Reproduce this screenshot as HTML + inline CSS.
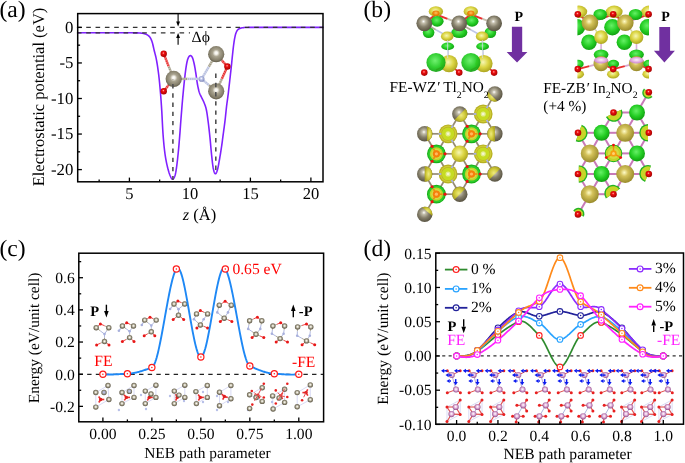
<!DOCTYPE html>
<html><head><meta charset="utf-8"><style>
html,body{margin:0;padding:0;background:#fff;}
svg{display:block;font-family:"Liberation Serif", serif;text-rendering:geometricPrecision;will-change:transform;}
</style></head><body>
<svg width="685" height="463" viewBox="0 0 685 463">
<rect width="685" height="463" fill="#fff"/>

<defs>
<radialGradient id="gGray" cx="0.45" cy="0.42" r="0.6" fx="0.45" fy="0.38">
 <stop offset="0" stop-color="#ffffff"/><stop offset="0.2" stop-color="#c2bdaa"/><stop offset="0.55" stop-color="#857f6b"/><stop offset="1" stop-color="#55503f"/>
</radialGradient>
<radialGradient id="gRed" cx="0.45" cy="0.42" r="0.6" fx="0.45" fy="0.38">
 <stop offset="0" stop-color="#ffb0b0"/><stop offset="0.3" stop-color="#f01010"/><stop offset="1" stop-color="#a00000"/>
</radialGradient>
<radialGradient id="gBlue" cx="0.45" cy="0.42" r="0.6">
 <stop offset="0" stop-color="#ffffff"/><stop offset="0.4" stop-color="#b8c0e6"/><stop offset="1" stop-color="#8088b8"/>
</radialGradient>
<radialGradient id="gGreen" cx="0.42" cy="0.4" r="0.62">
 <stop offset="0" stop-color="#5ef05e"/><stop offset="0.55" stop-color="#22cc22"/><stop offset="1" stop-color="#0e9a0e"/>
</radialGradient>
<radialGradient id="gYellow" cx="0.45" cy="0.42" r="0.6">
 <stop offset="0" stop-color="#f4f0a0"/><stop offset="0.5" stop-color="#d8cc48"/><stop offset="1" stop-color="#a89a20"/>
</radialGradient>
<radialGradient id="gGold" cx="0.45" cy="0.42" r="0.6">
 <stop offset="0" stop-color="#fffcc8"/><stop offset="0.35" stop-color="#d4c25a"/><stop offset="1" stop-color="#968828"/>
</radialGradient>
<radialGradient id="gPink" cx="0.45" cy="0.42" r="0.6">
 <stop offset="0" stop-color="#ffffff"/><stop offset="0.35" stop-color="#d8a0d0"/><stop offset="1" stop-color="#9a5a90"/>
</radialGradient>
<radialGradient id="gSmallGray" cx="0.5" cy="0.47" r="0.52">
 <stop offset="0" stop-color="#ffffff"/><stop offset="0.3" stop-color="#dcd8c8"/><stop offset="0.62" stop-color="#948e7a"/><stop offset="1" stop-color="#5c5646"/>
</radialGradient>
<radialGradient id="gPinkS" cx="0.5" cy="0.45" r="0.55">
 <stop offset="0" stop-color="#ffffff"/><stop offset="0.35" stop-color="#ecc8e6"/><stop offset="0.75" stop-color="#b878b0"/><stop offset="1" stop-color="#8a4a82"/>
</radialGradient>
<radialGradient id="gIsoG" cx="0.45" cy="0.4" r="0.6">
 <stop offset="0" stop-color="#66f066"/><stop offset="0.6" stop-color="#22cc22"/><stop offset="1" stop-color="#12a012"/>
</radialGradient>
<radialGradient id="gIsoY" cx="0.45" cy="0.42" r="0.6">
 <stop offset="0" stop-color="#f6f6b4"/><stop offset="0.5" stop-color="#dcd644"/><stop offset="1" stop-color="#aaa21c"/>
</radialGradient>
<radialGradient id="gOrange" cx="0.5" cy="0.45" r="0.55">
 <stop offset="0" stop-color="#ffc060"/><stop offset="0.6" stop-color="#f08810"/><stop offset="1" stop-color="#d87000"/>
</radialGradient>
<radialGradient id="gPinkF" cx="0.5" cy="0.45" r="0.6">
 <stop offset="0" stop-color="#fff0ff"/><stop offset="0.6" stop-color="#e0a8dc"/><stop offset="1" stop-color="#c080c0"/>
</radialGradient>
<radialGradient id="gSegY" cx="0.5" cy="0.5" r="0.5">
 <stop offset="0" stop-color="#eeea80"/><stop offset="0.6" stop-color="#d2cc3c"/><stop offset="1" stop-color="#b0a822"/>
</radialGradient>
<radialGradient id="gGrayA" cx="0.5" cy="0.45" r="0.55" fx="0.5" fy="0.42">
 <stop offset="0" stop-color="#ffffff"/><stop offset="0.16" stop-color="#f4f2ea"/><stop offset="0.4" stop-color="#aaa490"/><stop offset="0.8" stop-color="#857f6b"/><stop offset="1" stop-color="#615b49"/>
</radialGradient>
<radialGradient id="gSmallGrayB" cx="0.5" cy="0.47" r="0.52">
 <stop offset="0" stop-color="#c8d0f0"/><stop offset="0.4" stop-color="#a8acc8"/><stop offset="0.7" stop-color="#8a8676"/><stop offset="1" stop-color="#5c5646"/>
</radialGradient>
</defs>

<path d="M77.7,32.8 L81.15,32.8 L85.94,32.8 L91.66,32.8 L97.91,32.8 L104.28,32.8 L110.35,32.8 L115.73,32.8 L120,32.8 L123.24,32.8 L125.88,32.8 L128.02,32.81 L129.77,32.81 L131.23,32.81 L132.52,32.82 L133.74,32.83 L135,32.85 L136.19,32.87 L137.18,32.89 L138,32.9 L138.69,32.93 L139.29,32.96 L139.85,32.99 L140.41,33.04 L141,33.1 L141.6,33.17 L142.16,33.25 L142.69,33.33 L143.19,33.43 L143.66,33.53 L144.12,33.64 L144.56,33.77 L145,33.9 L145.43,34.04 L145.84,34.18 L146.23,34.33 L146.61,34.49 L146.97,34.67 L147.32,34.86 L147.67,35.07 L148,35.3 L148.32,35.54 L148.63,35.8 L148.93,36.06 L149.21,36.34 L149.49,36.65 L149.76,36.99 L150.03,37.37 L150.3,37.8 L150.57,38.26 L150.82,38.74 L151.08,39.26 L151.32,39.81 L151.57,40.4 L151.81,41.04 L152.06,41.74 L152.3,42.5 L152.54,43.33 L152.78,44.24 L153.01,45.21 L153.24,46.22 L153.47,47.27 L153.71,48.35 L153.95,49.42 L154.2,50.5 L154.46,51.55 L154.73,52.57 L155,53.6 L155.28,54.65 L155.56,55.75 L155.84,56.93 L156.12,58.2 L156.4,59.6 L156.68,61.12 L156.96,62.74 L157.24,64.45 L157.52,66.24 L157.8,68.1 L158.08,70.02 L158.34,71.99 L158.6,74 L158.85,76.08 L159.09,78.25 L159.33,80.49 L159.56,82.78 L159.78,85.09 L159.99,87.42 L160.2,89.73 L160.4,92 L160.59,94.2 L160.76,96.34 L160.92,98.44 L161.07,100.56 L161.23,102.74 L161.38,105.01 L161.54,107.42 L161.7,110 L161.87,112.83 L162.03,115.9 L162.2,119.13 L162.36,122.44 L162.53,125.76 L162.71,129.01 L162.9,132.11 L163.1,135 L163.31,137.7 L163.52,140.3 L163.75,142.81 L163.97,145.22 L164.21,147.54 L164.46,149.78 L164.73,151.93 L165,154 L165.29,155.98 L165.6,157.88 L165.92,159.69 L166.25,161.41 L166.59,163.05 L166.93,164.61 L167.27,166.09 L167.6,167.5 L167.93,168.84 L168.27,170.1 L168.62,171.28 L168.96,172.39 L169.31,173.41 L169.64,174.36 L169.98,175.22 L170.3,176 L170.62,176.71 L170.92,177.36 L171.23,177.93 L171.53,178.42 L171.82,178.81 L172.11,179.1 L172.41,179.26 L172.7,179.3 L173,179.2 L173.3,178.96 L173.6,178.6 L173.9,178.14 L174.19,177.58 L174.48,176.95 L174.75,176.25 L175,175.5 L175.23,174.71 L175.45,173.86 L175.65,172.94 L175.84,171.95 L176.02,170.87 L176.21,169.69 L176.4,168.41 L176.6,167 L176.81,165.44 L177.02,163.73 L177.24,161.9 L177.46,159.97 L177.68,157.98 L177.89,155.97 L178.1,153.97 L178.3,152 L178.49,150.05 L178.68,148.07 L178.86,146.07 L179.03,144.06 L179.2,142.04 L179.37,140.02 L179.54,138.01 L179.7,136 L179.86,134.04 L180,132.14 L180.14,130.26 L180.27,128.38 L180.41,126.44 L180.56,124.42 L180.72,122.29 L180.9,120 L181.09,117.52 L181.3,114.88 L181.52,112.1 L181.75,109.25 L181.98,106.37 L182.22,103.5 L182.46,100.7 L182.7,98 L182.94,95.36 L183.19,92.72 L183.44,90.09 L183.69,87.5 L183.95,84.97 L184.2,82.53 L184.45,80.2 L184.7,78 L184.94,75.91 L185.18,73.9 L185.42,71.98 L185.66,70.15 L185.9,68.43 L186.13,66.83 L186.37,65.35 L186.6,64 L186.83,62.81 L187.05,61.76 L187.27,60.85 L187.49,60.05 L187.71,59.34 L187.94,58.71 L188.17,58.14 L188.4,57.6 L188.64,57.11 L188.89,56.7 L189.14,56.35 L189.39,56.08 L189.64,55.86 L189.9,55.72 L190.15,55.63 L190.4,55.6 L190.65,55.63 L190.9,55.72 L191.16,55.86 L191.41,56.07 L191.66,56.35 L191.91,56.7 L192.16,57.11 L192.4,57.6 L192.64,58.17 L192.87,58.83 L193.1,59.56 L193.32,60.36 L193.55,61.22 L193.77,62.11 L193.99,63.05 L194.2,64 L194.41,64.99 L194.61,66.02 L194.81,67.1 L195.01,68.21 L195.21,69.36 L195.4,70.55 L195.6,71.76 L195.8,73 L196,74.3 L196.19,75.67 L196.39,77.1 L196.58,78.54 L196.78,79.98 L196.98,81.39 L197.19,82.74 L197.4,84 L197.62,85.19 L197.84,86.34 L198.07,87.45 L198.31,88.51 L198.55,89.53 L198.79,90.51 L199.04,91.43 L199.3,92.3 L199.57,93.1 L199.84,93.82 L200.13,94.49 L200.42,95.11 L200.71,95.7 L201.01,96.29 L201.3,96.88 L201.6,97.5 L201.9,98.12 L202.2,98.72 L202.5,99.3 L202.8,99.89 L203.1,100.49 L203.4,101.11 L203.7,101.78 L204,102.5 L204.3,103.24 L204.59,103.98 L204.89,104.74 L205.18,105.53 L205.47,106.38 L205.76,107.32 L206.03,108.35 L206.3,109.5 L206.56,110.78 L206.81,112.18 L207.05,113.67 L207.29,115.25 L207.52,116.89 L207.75,118.57 L207.97,120.28 L208.2,122 L208.42,123.73 L208.64,125.5 L208.85,127.31 L209.06,129.16 L209.27,131.05 L209.48,132.98 L209.69,134.96 L209.9,137 L210.11,139.14 L210.33,141.39 L210.54,143.73 L210.75,146.09 L210.96,148.45 L211.18,150.75 L211.39,152.94 L211.6,155 L211.81,156.96 L212.02,158.88 L212.22,160.75 L212.43,162.54 L212.64,164.24 L212.85,165.81 L213.07,167.24 L213.3,168.5 L213.53,169.62 L213.78,170.61 L214.02,171.49 L214.28,172.23 L214.53,172.84 L214.79,173.31 L215.04,173.63 L215.3,173.8 L215.56,173.8 L215.82,173.64 L216.08,173.31 L216.35,172.86 L216.62,172.28 L216.88,171.6 L217.14,170.83 L217.4,170 L217.65,169.07 L217.9,168.01 L218.15,166.84 L218.4,165.57 L218.65,164.24 L218.9,162.86 L219.15,161.44 L219.4,160 L219.66,158.53 L219.92,156.98 L220.19,155.39 L220.46,153.75 L220.72,152.08 L220.99,150.39 L221.25,148.69 L221.5,147 L221.75,145.29 L221.99,143.55 L222.24,141.78 L222.47,140 L222.71,138.22 L222.94,136.45 L223.17,134.71 L223.4,133 L223.62,131.33 L223.84,129.7 L224.06,128.1 L224.28,126.5 L224.49,124.9 L224.69,123.3 L224.9,121.67 L225.1,120 L225.3,118.27 L225.49,116.48 L225.68,114.66 L225.87,112.83 L226.05,111.02 L226.24,109.26 L226.42,107.58 L226.6,106 L226.78,104.57 L226.95,103.27 L227.12,102.06 L227.29,100.89 L227.46,99.72 L227.63,98.5 L227.81,97.17 L228,95.7 L228.2,94.06 L228.41,92.3 L228.62,90.45 L228.84,88.54 L229.06,86.61 L229.28,84.69 L229.5,82.81 L229.7,81 L229.9,79.26 L230.09,77.54 L230.29,75.84 L230.47,74.17 L230.66,72.51 L230.84,70.86 L231.02,69.23 L231.2,67.6 L231.37,65.96 L231.55,64.31 L231.72,62.66 L231.88,61.02 L232.04,59.43 L232.2,57.88 L232.35,56.4 L232.5,55 L232.64,53.69 L232.77,52.46 L232.89,51.29 L233.01,50.17 L233.13,49.1 L233.25,48.05 L233.37,47.02 L233.5,46 L233.63,44.98 L233.76,43.99 L233.9,43.02 L234.03,42.07 L234.17,41.16 L234.31,40.27 L234.45,39.42 L234.6,38.6 L234.75,37.81 L234.9,37.06 L235.06,36.33 L235.21,35.64 L235.37,34.98 L235.54,34.35 L235.72,33.76 L235.9,33.2 L236.09,32.68 L236.28,32.21 L236.48,31.77 L236.68,31.36 L236.89,30.99 L237.12,30.64 L237.35,30.31 L237.6,30 L237.86,29.72 L238.14,29.47 L238.42,29.24 L238.72,29.04 L239.03,28.86 L239.34,28.7 L239.67,28.55 L240,28.4 L240.34,28.27 L240.68,28.15 L241.04,28.05 L241.4,27.97 L241.78,27.89 L242.17,27.82 L242.57,27.76 L243,27.7 L243.39,27.65 L243.72,27.6 L244.03,27.56 L244.38,27.53 L244.8,27.51 L245.34,27.49 L246.06,27.47 L247,27.45 L247.85,27.43 L248.45,27.42 L249.02,27.41 L249.81,27.41 L251.07,27.41 L253.02,27.4 L255.92,27.4 L260,27.4 L265.91,27.4 L273.71,27.4 L282.73,27.4 L292.31,27.4 L301.79,27.4 L310.51,27.4 L317.8,27.4 L323,27.4" fill="none" stroke="#8020ff" stroke-width="1.6" stroke-linejoin="round" stroke-linecap="round" />
<line x1="76.9" y1="32.8" x2="190" y2="32.8" stroke="#333" stroke-width="1.2" stroke-dasharray="4.6 4.73"/>
<line x1="76.9" y1="27.4" x2="323" y2="27.4" stroke="#333" stroke-width="1.2" stroke-dasharray="4.6 4.73"/>
<line x1="173.7" y1="78.9" x2="168.7" y2="66.35" stroke="#a49e88" stroke-width="2.4" />
<line x1="168.7" y1="66.35" x2="163.7" y2="53.8" stroke="#e83030" stroke-width="2.4" />
<line x1="173.7" y1="78.9" x2="163.7" y2="53.8" stroke="#ffffff" stroke-width="2.4" stroke-dasharray="0.9 1.3" opacity="0.45"/>
<line x1="173.7" y1="78.9" x2="168.7" y2="85.1" stroke="#a49e88" stroke-width="2.4" />
<line x1="168.7" y1="85.1" x2="163.7" y2="91.3" stroke="#e83030" stroke-width="2.4" />
<line x1="173.7" y1="78.9" x2="163.7" y2="91.3" stroke="#ffffff" stroke-width="2.4" stroke-dasharray="0.9 1.3" opacity="0.45"/>
<line x1="173.7" y1="78.9" x2="187.65" y2="78.9" stroke="#a49e88" stroke-width="2.4" />
<line x1="187.65" y1="78.9" x2="201.6" y2="78.9" stroke="#b8c0e0" stroke-width="2.4" />
<line x1="173.7" y1="78.9" x2="201.6" y2="78.9" stroke="#ffffff" stroke-width="2.4" stroke-dasharray="0.9 1.3" opacity="0.45"/>
<line x1="201.6" y1="78.9" x2="208.9" y2="66.55" stroke="#b8c0e0" stroke-width="2.4" />
<line x1="208.9" y1="66.55" x2="216.2" y2="54.2" stroke="#a49e88" stroke-width="2.4" />
<line x1="201.6" y1="78.9" x2="216.2" y2="54.2" stroke="#ffffff" stroke-width="2.4" stroke-dasharray="0.9 1.3" opacity="0.45"/>
<line x1="201.6" y1="78.9" x2="208.9" y2="85.1" stroke="#b8c0e0" stroke-width="2.4" />
<line x1="208.9" y1="85.1" x2="216.2" y2="91.3" stroke="#a49e88" stroke-width="2.4" />
<line x1="201.6" y1="78.9" x2="216.2" y2="91.3" stroke="#ffffff" stroke-width="2.4" stroke-dasharray="0.9 1.3" opacity="0.45"/>
<line x1="216.2" y1="54.2" x2="221.8" y2="60.35" stroke="#a49e88" stroke-width="2.4" />
<line x1="221.8" y1="60.35" x2="227.4" y2="66.5" stroke="#e83030" stroke-width="2.4" />
<line x1="216.2" y1="54.2" x2="227.4" y2="66.5" stroke="#ffffff" stroke-width="2.4" stroke-dasharray="0.9 1.3" opacity="0.45"/>
<line x1="216.2" y1="91.3" x2="221.8" y2="78.9" stroke="#a49e88" stroke-width="2.4" />
<line x1="221.8" y1="78.9" x2="227.4" y2="66.5" stroke="#e83030" stroke-width="2.4" />
<line x1="216.2" y1="91.3" x2="227.4" y2="66.5" stroke="#ffffff" stroke-width="2.4" stroke-dasharray="0.9 1.3" opacity="0.45"/>
<circle cx="163.7" cy="53.8" r="3.2" fill="url(#gRed)"/>
<circle cx="163.7" cy="91.3" r="3.2" fill="url(#gRed)"/>
<circle cx="227.4" cy="66.5" r="3.2" fill="url(#gRed)"/>
<circle cx="201.6" cy="78.9" r="2.9" fill="url(#gBlue)"/>
<circle cx="173.7" cy="78.9" r="8.1" fill="url(#gGrayA)"/>
<circle cx="216.2" cy="54.2" r="8.1" fill="url(#gGrayA)"/>
<circle cx="216.2" cy="91.3" r="8.1" fill="url(#gGrayA)"/>
<line x1="172.9" y1="79" x2="172.9" y2="180" stroke="#505050" stroke-width="1.6" stroke-dasharray="4.4 4.8" stroke-dashoffset="4.1"/>
<line x1="215.8" y1="73.6" x2="215.8" y2="174.5" stroke="#505050" stroke-width="1.6" stroke-dasharray="4.4 4.8"/>
<line x1="178.1" y1="13.6" x2="178.1" y2="23" stroke="#000" stroke-width="1.1" />
<path d="M176.2,21.6 L180.0,21.6 L178.1,26.6 Z" fill="#000"/>
<line x1="178.1" y1="44.7" x2="178.1" y2="37" stroke="#000" stroke-width="1.1" />
<path d="M176.2,38.0 L180.0,38.0 L178.1,33.1 Z" fill="#000"/>
<text x="191.6" y="41.6" font-size="15.7" text-anchor="start" font-weight="normal" font-style="normal" fill="#000" >Δϕ</text>
<rect x="77.7" y="13.6" width="245.3" height="168.2" fill="none" stroke="#000" stroke-width="1.5"/>
<line x1="77.7" y1="27.4" x2="81.9" y2="27.4" stroke="#000" stroke-width="1.3" />
<text x="73.4" y="32.7" font-size="16.8" text-anchor="end" font-weight="normal" font-style="normal" fill="#000" >0</text>
<line x1="77.7" y1="62.95" x2="81.9" y2="62.95" stroke="#000" stroke-width="1.3" />
<text x="73.4" y="68.25" font-size="16.8" text-anchor="end" font-weight="normal" font-style="normal" fill="#000" >-5</text>
<line x1="77.7" y1="98.5" x2="81.9" y2="98.5" stroke="#000" stroke-width="1.3" />
<text x="73.4" y="103.8" font-size="16.8" text-anchor="end" font-weight="normal" font-style="normal" fill="#000" >-10</text>
<line x1="77.7" y1="134.05" x2="81.9" y2="134.05" stroke="#000" stroke-width="1.3" />
<text x="73.4" y="139.35" font-size="16.8" text-anchor="end" font-weight="normal" font-style="normal" fill="#000" >-15</text>
<line x1="77.7" y1="169.6" x2="81.9" y2="169.6" stroke="#000" stroke-width="1.3" />
<text x="73.4" y="174.9" font-size="16.8" text-anchor="end" font-weight="normal" font-style="normal" fill="#000" >-20</text>
<line x1="77.7" y1="45.17" x2="80.1" y2="45.17" stroke="#000" stroke-width="1.3" />
<line x1="77.7" y1="80.72" x2="80.1" y2="80.72" stroke="#000" stroke-width="1.3" />
<line x1="77.7" y1="116.28" x2="80.1" y2="116.28" stroke="#000" stroke-width="1.3" />
<line x1="77.7" y1="151.83" x2="80.1" y2="151.83" stroke="#000" stroke-width="1.3" />
<line x1="129.4" y1="181.8" x2="129.4" y2="177.6" stroke="#000" stroke-width="1.3" />
<text x="129.4" y="199.4" font-size="16.5" text-anchor="middle" font-weight="normal" font-style="normal" fill="#000" >5</text>
<line x1="189.9" y1="181.8" x2="189.9" y2="177.6" stroke="#000" stroke-width="1.3" />
<text x="189.9" y="199.4" font-size="16.5" text-anchor="middle" font-weight="normal" font-style="normal" fill="#000" >10</text>
<line x1="250.4" y1="181.8" x2="250.4" y2="177.6" stroke="#000" stroke-width="1.3" />
<text x="250.4" y="199.4" font-size="16.5" text-anchor="middle" font-weight="normal" font-style="normal" fill="#000" >15</text>
<line x1="310.9" y1="181.8" x2="310.9" y2="177.6" stroke="#000" stroke-width="1.3" />
<text x="310.9" y="199.4" font-size="16.5" text-anchor="middle" font-weight="normal" font-style="normal" fill="#000" >20</text>
<line x1="99.15" y1="181.8" x2="99.15" y2="179.4" stroke="#000" stroke-width="1.3" />
<line x1="159.65" y1="181.8" x2="159.65" y2="179.4" stroke="#000" stroke-width="1.3" />
<line x1="220.15" y1="181.8" x2="220.15" y2="179.4" stroke="#000" stroke-width="1.3" />
<line x1="280.65" y1="181.8" x2="280.65" y2="179.4" stroke="#000" stroke-width="1.3" />
<text x="-0.6" y="17" font-size="23.6" text-anchor="start" font-weight="normal" font-style="normal" fill="#000" >(a)</text>
<text transform="translate(44.4,97) rotate(-90)" font-size="16.5" text-anchor="middle">Electrostatic potential (eV)</text>
<text x="199.5" y="219.8" font-size="16.5" text-anchor="middle"><tspan font-style="italic">z</tspan> (Å)</text>
<line x1="96.2" y1="327.7" x2="98.3" y2="325.8" stroke="#b0aa98" stroke-width="1.0" />
<line x1="98.3" y1="325.8" x2="100.4" y2="323.9" stroke="#ee4444" stroke-width="1.0" />
<line x1="108.8" y1="327.7" x2="104.6" y2="325.8" stroke="#b0aa98" stroke-width="1.0" />
<line x1="104.6" y1="325.8" x2="100.4" y2="323.9" stroke="#ee4444" stroke-width="1.0" />
<line x1="96.2" y1="327.7" x2="100.35" y2="330.9" stroke="#b0aa98" stroke-width="1.0" />
<line x1="100.35" y1="330.9" x2="104.5" y2="334.1" stroke="#b0b8e0" stroke-width="1.0" />
<line x1="108.8" y1="327.7" x2="106.65" y2="330.9" stroke="#b0aa98" stroke-width="1.0" />
<line x1="106.65" y1="330.9" x2="104.5" y2="334.1" stroke="#b0b8e0" stroke-width="1.0" />
<line x1="104.5" y1="334.1" x2="104.5" y2="337.8" stroke="#b0b8e0" stroke-width="1.0" />
<line x1="104.5" y1="337.8" x2="104.5" y2="341.5" stroke="#b0aa98" stroke-width="1.0" />
<line x1="104.5" y1="341.5" x2="100.55" y2="343.2" stroke="#b0aa98" stroke-width="1.0" />
<line x1="100.55" y1="343.2" x2="96.6" y2="344.9" stroke="#ee4444" stroke-width="1.0" />
<line x1="104.5" y1="341.5" x2="106.75" y2="343.2" stroke="#b0aa98" stroke-width="1.0" />
<line x1="106.75" y1="343.2" x2="109" y2="344.9" stroke="#ee4444" stroke-width="1.0" />
<circle cx="100.4" cy="323.9" r="1.5" fill="#e81818" stroke="none" stroke-width="1" />
<circle cx="96.6" cy="344.9" r="1.5" fill="#e81818" stroke="none" stroke-width="1" />
<circle cx="109" cy="344.9" r="1.5" fill="#e81818" stroke="none" stroke-width="1" />
<circle cx="104.5" cy="334.1" r="1.3" fill="#a8b0dc" stroke="none" stroke-width="1" />
<circle cx="96.2" cy="327.7" r="2.7" fill="url(#gSmallGray)"/>
<circle cx="108.8" cy="327.7" r="2.7" fill="url(#gSmallGray)"/>
<circle cx="104.5" cy="341.5" r="2.7" fill="url(#gSmallGray)"/>
<line x1="122.4" y1="326" x2="124.55" y2="324.35" stroke="#b0aa98" stroke-width="1.0" />
<line x1="124.55" y1="324.35" x2="126.7" y2="322.7" stroke="#ee4444" stroke-width="1.0" />
<line x1="133.5" y1="326" x2="130.1" y2="324.35" stroke="#b0aa98" stroke-width="1.0" />
<line x1="130.1" y1="324.35" x2="126.7" y2="322.7" stroke="#ee4444" stroke-width="1.0" />
<line x1="122.4" y1="326" x2="126" y2="328.65" stroke="#b0aa98" stroke-width="1.0" />
<line x1="126" y1="328.65" x2="129.6" y2="331.3" stroke="#b0b8e0" stroke-width="1.0" />
<line x1="133.5" y1="326" x2="131.55" y2="328.65" stroke="#b0aa98" stroke-width="1.0" />
<line x1="131.55" y1="328.65" x2="129.6" y2="331.3" stroke="#b0b8e0" stroke-width="1.0" />
<line x1="129.6" y1="331.3" x2="129.6" y2="334.45" stroke="#b0b8e0" stroke-width="1.0" />
<line x1="129.6" y1="334.45" x2="129.6" y2="337.6" stroke="#b0aa98" stroke-width="1.0" />
<line x1="122.4" y1="326" x2="120.65" y2="328.4" stroke="#b0aa98" stroke-width="1.2" />
<line x1="120.65" y1="328.4" x2="118.9" y2="330.8" stroke="#b0b8e0" stroke-width="1.2" />
<line x1="129.6" y1="337.6" x2="126" y2="339.55" stroke="#b0aa98" stroke-width="1.0" />
<line x1="126" y1="339.55" x2="122.4" y2="341.5" stroke="#ee4444" stroke-width="1.0" />
<line x1="129.6" y1="337.6" x2="131.8" y2="339.55" stroke="#b0aa98" stroke-width="1.0" />
<line x1="131.8" y1="339.55" x2="134" y2="341.5" stroke="#ee4444" stroke-width="1.0" />
<circle cx="126.7" cy="322.7" r="1.5" fill="#e81818" stroke="none" stroke-width="1" />
<circle cx="122.4" cy="341.5" r="1.5" fill="#e81818" stroke="none" stroke-width="1" />
<circle cx="134" cy="341.5" r="1.5" fill="#e81818" stroke="none" stroke-width="1" />
<circle cx="118.9" cy="330.8" r="1.3" fill="#a8b0dc" stroke="none" stroke-width="1" />
<circle cx="129.6" cy="331.3" r="1.3" fill="#a8b0dc" stroke="none" stroke-width="1" />
<circle cx="122.4" cy="326" r="2.7" fill="url(#gSmallGray)"/>
<circle cx="133.5" cy="326" r="2.7" fill="url(#gSmallGray)"/>
<circle cx="129.6" cy="337.6" r="2.7" fill="url(#gSmallGray)"/>
<line x1="144.7" y1="320.1" x2="147.35" y2="318.65" stroke="#b0aa98" stroke-width="1.0" />
<line x1="147.35" y1="318.65" x2="150" y2="317.2" stroke="#ee4444" stroke-width="1.0" />
<line x1="156.2" y1="320.1" x2="153.1" y2="318.65" stroke="#b0aa98" stroke-width="1.0" />
<line x1="153.1" y1="318.65" x2="150" y2="317.2" stroke="#ee4444" stroke-width="1.0" />
<line x1="144.7" y1="320.1" x2="148" y2="322.78" stroke="#b0aa98" stroke-width="1.0" />
<line x1="148" y1="322.78" x2="151.3" y2="325.45" stroke="#b0b8e0" stroke-width="1.0" />
<line x1="156.2" y1="320.1" x2="153.75" y2="322.78" stroke="#b0aa98" stroke-width="1.0" />
<line x1="153.75" y1="322.78" x2="151.3" y2="325.45" stroke="#b0b8e0" stroke-width="1.0" />
<line x1="151.3" y1="325.45" x2="151.3" y2="328.62" stroke="#b0b8e0" stroke-width="1.0" />
<line x1="151.3" y1="328.62" x2="151.3" y2="331.8" stroke="#b0aa98" stroke-width="1.0" />
<line x1="144.7" y1="320.1" x2="143.25" y2="322.55" stroke="#b0aa98" stroke-width="1.2" />
<line x1="143.25" y1="322.55" x2="141.8" y2="325" stroke="#b0b8e0" stroke-width="1.2" />
<line x1="151.3" y1="331.8" x2="147.75" y2="333.75" stroke="#b0aa98" stroke-width="1.0" />
<line x1="147.75" y1="333.75" x2="144.2" y2="335.7" stroke="#ee4444" stroke-width="1.0" />
<line x1="151.3" y1="331.8" x2="153.05" y2="333.75" stroke="#b0aa98" stroke-width="1.0" />
<line x1="153.05" y1="333.75" x2="154.8" y2="335.7" stroke="#ee4444" stroke-width="1.0" />
<circle cx="150" cy="317.2" r="1.5" fill="#e81818" stroke="none" stroke-width="1" />
<circle cx="144.2" cy="335.7" r="1.5" fill="#e81818" stroke="none" stroke-width="1" />
<circle cx="154.8" cy="335.7" r="1.5" fill="#e81818" stroke="none" stroke-width="1" />
<circle cx="141.8" cy="325" r="1.3" fill="#a8b0dc" stroke="none" stroke-width="1" />
<circle cx="151.3" cy="325.45" r="1.3" fill="#a8b0dc" stroke="none" stroke-width="1" />
<circle cx="144.7" cy="320.1" r="2.7" fill="url(#gSmallGray)"/>
<circle cx="156.2" cy="320.1" r="2.7" fill="url(#gSmallGray)"/>
<circle cx="151.3" cy="331.8" r="2.7" fill="url(#gSmallGray)"/>
<line x1="174" y1="304" x2="175.95" y2="302.55" stroke="#b0aa98" stroke-width="1.0" />
<line x1="175.95" y1="302.55" x2="177.9" y2="301.1" stroke="#ee4444" stroke-width="1.0" />
<line x1="184.7" y1="304" x2="181.3" y2="302.55" stroke="#b0aa98" stroke-width="1.0" />
<line x1="181.3" y1="302.55" x2="177.9" y2="301.1" stroke="#ee4444" stroke-width="1.0" />
<line x1="174" y1="304" x2="176.25" y2="306.57" stroke="#b0aa98" stroke-width="1.0" />
<line x1="176.25" y1="306.57" x2="178.5" y2="309.15" stroke="#b0b8e0" stroke-width="1.0" />
<line x1="184.7" y1="304" x2="181.6" y2="306.57" stroke="#b0aa98" stroke-width="1.0" />
<line x1="181.6" y1="306.57" x2="178.5" y2="309.15" stroke="#b0b8e0" stroke-width="1.0" />
<line x1="178.5" y1="309.15" x2="178.5" y2="312.23" stroke="#b0b8e0" stroke-width="1.0" />
<line x1="178.5" y1="312.23" x2="178.5" y2="315.3" stroke="#b0aa98" stroke-width="1.0" />
<line x1="174" y1="304" x2="172.05" y2="306.5" stroke="#b0aa98" stroke-width="1.2" />
<line x1="172.05" y1="306.5" x2="170.1" y2="309" stroke="#b0b8e0" stroke-width="1.2" />
<line x1="178.5" y1="315.3" x2="175.85" y2="317.4" stroke="#b0aa98" stroke-width="1.0" />
<line x1="175.85" y1="317.4" x2="173.2" y2="319.5" stroke="#ee4444" stroke-width="1.0" />
<line x1="178.5" y1="315.3" x2="181.1" y2="317.4" stroke="#b0aa98" stroke-width="1.0" />
<line x1="181.1" y1="317.4" x2="183.7" y2="319.5" stroke="#ee4444" stroke-width="1.0" />
<circle cx="177.9" cy="301.1" r="1.5" fill="#e81818" stroke="none" stroke-width="1" />
<circle cx="173.2" cy="319.5" r="1.5" fill="#e81818" stroke="none" stroke-width="1" />
<circle cx="183.7" cy="319.5" r="1.5" fill="#e81818" stroke="none" stroke-width="1" />
<circle cx="170.1" cy="309" r="1.3" fill="#a8b0dc" stroke="none" stroke-width="1" />
<circle cx="178.5" cy="309.15" r="1.3" fill="#a8b0dc" stroke="none" stroke-width="1" />
<circle cx="174" cy="304" r="2.7" fill="url(#gSmallGray)"/>
<circle cx="184.7" cy="304" r="2.7" fill="url(#gSmallGray)"/>
<circle cx="178.5" cy="315.3" r="2.7" fill="url(#gSmallGray)"/>
<line x1="196.5" y1="313.9" x2="198.45" y2="312.25" stroke="#b0aa98" stroke-width="1.0" />
<line x1="198.45" y1="312.25" x2="200.4" y2="310.6" stroke="#ee4444" stroke-width="1.0" />
<line x1="207.6" y1="313.9" x2="204" y2="312.25" stroke="#b0aa98" stroke-width="1.0" />
<line x1="204" y1="312.25" x2="200.4" y2="310.6" stroke="#ee4444" stroke-width="1.0" />
<line x1="196.5" y1="313.9" x2="195.25" y2="316.55" stroke="#b0aa98" stroke-width="1.0" />
<line x1="195.25" y1="316.55" x2="194" y2="319.2" stroke="#b0b8e0" stroke-width="1.0" />
<line x1="194" y1="319.2" x2="197.2" y2="322.1" stroke="#b0b8e0" stroke-width="1.0" />
<line x1="197.2" y1="322.1" x2="200.4" y2="325" stroke="#b0aa98" stroke-width="1.0" />
<line x1="207.6" y1="313.9" x2="205.65" y2="316.55" stroke="#b0aa98" stroke-width="1.0" />
<line x1="205.65" y1="316.55" x2="203.7" y2="319.2" stroke="#b0b8e0" stroke-width="1.0" />
<line x1="203.7" y1="319.2" x2="202.05" y2="322.1" stroke="#b0b8e0" stroke-width="1.0" />
<line x1="202.05" y1="322.1" x2="200.4" y2="325" stroke="#b0aa98" stroke-width="1.0" />
<line x1="200.4" y1="325" x2="198.65" y2="326.45" stroke="#b0aa98" stroke-width="1.0" />
<line x1="198.65" y1="326.45" x2="196.9" y2="327.9" stroke="#ee4444" stroke-width="1.0" />
<line x1="200.4" y1="325" x2="204" y2="326.45" stroke="#b0aa98" stroke-width="1.0" />
<line x1="204" y1="326.45" x2="207.6" y2="327.9" stroke="#ee4444" stroke-width="1.0" />
<circle cx="200.4" cy="310.6" r="1.5" fill="#e81818" stroke="none" stroke-width="1" />
<circle cx="196.9" cy="327.9" r="1.5" fill="#e81818" stroke="none" stroke-width="1" />
<circle cx="207.6" cy="327.9" r="1.5" fill="#e81818" stroke="none" stroke-width="1" />
<circle cx="194" cy="319.2" r="1.3" fill="#a8b0dc" stroke="none" stroke-width="1" />
<circle cx="203.7" cy="319.2" r="1.3" fill="#a8b0dc" stroke="none" stroke-width="1" />
<circle cx="196.5" cy="313.9" r="2.7" fill="url(#gSmallGray)"/>
<circle cx="207.6" cy="313.9" r="2.7" fill="url(#gSmallGray)"/>
<circle cx="200.4" cy="325" r="2.7" fill="url(#gSmallGray)"/>
<line x1="219.3" y1="305.2" x2="222.2" y2="303.25" stroke="#b0aa98" stroke-width="1.0" />
<line x1="222.2" y1="303.25" x2="225.1" y2="301.3" stroke="#ee4444" stroke-width="1.0" />
<line x1="231.3" y1="305.2" x2="228.2" y2="303.25" stroke="#b0aa98" stroke-width="1.0" />
<line x1="228.2" y1="303.25" x2="225.1" y2="301.3" stroke="#ee4444" stroke-width="1.0" />
<line x1="219.3" y1="305.2" x2="218.3" y2="308.8" stroke="#b0aa98" stroke-width="1.0" />
<line x1="218.3" y1="308.8" x2="217.3" y2="312.4" stroke="#b0b8e0" stroke-width="1.0" />
<line x1="217.3" y1="312.4" x2="220.75" y2="315.3" stroke="#b0b8e0" stroke-width="1.0" />
<line x1="220.75" y1="315.3" x2="224.2" y2="318.2" stroke="#b0aa98" stroke-width="1.0" />
<line x1="231.3" y1="305.2" x2="229.65" y2="308.8" stroke="#b0aa98" stroke-width="1.0" />
<line x1="229.65" y1="308.8" x2="228" y2="312.4" stroke="#b0b8e0" stroke-width="1.0" />
<line x1="228" y1="312.4" x2="226.1" y2="315.3" stroke="#b0b8e0" stroke-width="1.0" />
<line x1="226.1" y1="315.3" x2="224.2" y2="318.2" stroke="#b0aa98" stroke-width="1.0" />
<line x1="224.2" y1="318.2" x2="222.25" y2="319.85" stroke="#b0aa98" stroke-width="1.0" />
<line x1="222.25" y1="319.85" x2="220.3" y2="321.5" stroke="#ee4444" stroke-width="1.0" />
<line x1="224.2" y1="318.2" x2="228.05" y2="319.85" stroke="#b0aa98" stroke-width="1.0" />
<line x1="228.05" y1="319.85" x2="231.9" y2="321.5" stroke="#ee4444" stroke-width="1.0" />
<circle cx="225.1" cy="301.3" r="1.5" fill="#e81818" stroke="none" stroke-width="1" />
<circle cx="220.3" cy="321.5" r="1.5" fill="#e81818" stroke="none" stroke-width="1" />
<circle cx="231.9" cy="321.5" r="1.5" fill="#e81818" stroke="none" stroke-width="1" />
<circle cx="217.3" cy="312.4" r="1.3" fill="#a8b0dc" stroke="none" stroke-width="1" />
<circle cx="228" cy="312.4" r="1.3" fill="#a8b0dc" stroke="none" stroke-width="1" />
<circle cx="219.3" cy="305.2" r="2.7" fill="url(#gSmallGray)"/>
<circle cx="231.3" cy="305.2" r="2.7" fill="url(#gSmallGray)"/>
<circle cx="224.2" cy="318.2" r="2.7" fill="url(#gSmallGray)"/>
<line x1="249.6" y1="320.7" x2="253.5" y2="318.95" stroke="#b0aa98" stroke-width="1.0" />
<line x1="253.5" y1="318.95" x2="257.4" y2="317.2" stroke="#ee4444" stroke-width="1.0" />
<line x1="261.8" y1="320.7" x2="259.6" y2="318.95" stroke="#b0aa98" stroke-width="1.0" />
<line x1="259.6" y1="318.95" x2="257.4" y2="317.2" stroke="#ee4444" stroke-width="1.0" />
<line x1="249.6" y1="320.7" x2="248.9" y2="324.8" stroke="#b0aa98" stroke-width="1.0" />
<line x1="248.9" y1="324.8" x2="248.2" y2="328.9" stroke="#b0b8e0" stroke-width="1.0" />
<line x1="248.2" y1="328.9" x2="252.1" y2="331.6" stroke="#b0b8e0" stroke-width="1.0" />
<line x1="252.1" y1="331.6" x2="256" y2="334.3" stroke="#b0aa98" stroke-width="1.0" />
<line x1="261.8" y1="320.7" x2="261.05" y2="324.8" stroke="#b0aa98" stroke-width="1.0" />
<line x1="261.05" y1="324.8" x2="260.3" y2="328.9" stroke="#b0b8e0" stroke-width="1.0" />
<line x1="260.3" y1="328.9" x2="258.15" y2="331.6" stroke="#b0b8e0" stroke-width="1.0" />
<line x1="258.15" y1="331.6" x2="256" y2="334.3" stroke="#b0aa98" stroke-width="1.0" />
<line x1="256" y1="334.3" x2="254.05" y2="335.95" stroke="#b0aa98" stroke-width="1.0" />
<line x1="254.05" y1="335.95" x2="252.1" y2="337.6" stroke="#ee4444" stroke-width="1.0" />
<line x1="256" y1="334.3" x2="259.9" y2="335.95" stroke="#b0aa98" stroke-width="1.0" />
<line x1="259.9" y1="335.95" x2="263.8" y2="337.6" stroke="#ee4444" stroke-width="1.0" />
<circle cx="257.4" cy="317.2" r="1.5" fill="#e81818" stroke="none" stroke-width="1" />
<circle cx="252.1" cy="337.6" r="1.5" fill="#e81818" stroke="none" stroke-width="1" />
<circle cx="263.8" cy="337.6" r="1.5" fill="#e81818" stroke="none" stroke-width="1" />
<circle cx="248.2" cy="328.9" r="1.3" fill="#a8b0dc" stroke="none" stroke-width="1" />
<circle cx="260.3" cy="328.9" r="1.3" fill="#a8b0dc" stroke="none" stroke-width="1" />
<circle cx="249.6" cy="320.7" r="2.7" fill="url(#gSmallGray)"/>
<circle cx="261.8" cy="320.7" r="2.7" fill="url(#gSmallGray)"/>
<circle cx="256" cy="334.3" r="2.7" fill="url(#gSmallGray)"/>
<line x1="272.9" y1="326" x2="276.8" y2="324.35" stroke="#b0aa98" stroke-width="1.0" />
<line x1="276.8" y1="324.35" x2="280.7" y2="322.7" stroke="#ee4444" stroke-width="1.0" />
<line x1="284.6" y1="326" x2="282.65" y2="324.35" stroke="#b0aa98" stroke-width="1.0" />
<line x1="282.65" y1="324.35" x2="280.7" y2="322.7" stroke="#ee4444" stroke-width="1.0" />
<line x1="272.9" y1="326" x2="272.4" y2="329.85" stroke="#b0aa98" stroke-width="1.0" />
<line x1="272.4" y1="329.85" x2="271.9" y2="333.7" stroke="#b0b8e0" stroke-width="1.0" />
<line x1="271.9" y1="333.7" x2="276" y2="336.15" stroke="#b0b8e0" stroke-width="1.0" />
<line x1="276" y1="336.15" x2="280.1" y2="338.6" stroke="#b0aa98" stroke-width="1.0" />
<line x1="284.6" y1="326" x2="284.1" y2="329.85" stroke="#b0aa98" stroke-width="1.0" />
<line x1="284.1" y1="329.85" x2="283.6" y2="333.7" stroke="#b0b8e0" stroke-width="1.0" />
<line x1="283.6" y1="333.7" x2="281.85" y2="336.15" stroke="#b0b8e0" stroke-width="1.0" />
<line x1="281.85" y1="336.15" x2="280.1" y2="338.6" stroke="#b0aa98" stroke-width="1.0" />
<line x1="280.1" y1="338.6" x2="278.15" y2="340.35" stroke="#b0aa98" stroke-width="1.0" />
<line x1="278.15" y1="340.35" x2="276.2" y2="342.1" stroke="#ee4444" stroke-width="1.0" />
<line x1="280.1" y1="338.6" x2="283.8" y2="340.35" stroke="#b0aa98" stroke-width="1.0" />
<line x1="283.8" y1="340.35" x2="287.5" y2="342.1" stroke="#ee4444" stroke-width="1.0" />
<circle cx="280.7" cy="322.7" r="1.5" fill="#e81818" stroke="none" stroke-width="1" />
<circle cx="276.2" cy="342.1" r="1.5" fill="#e81818" stroke="none" stroke-width="1" />
<circle cx="287.5" cy="342.1" r="1.5" fill="#e81818" stroke="none" stroke-width="1" />
<circle cx="271.9" cy="333.7" r="1.3" fill="#a8b0dc" stroke="none" stroke-width="1" />
<circle cx="283.6" cy="333.7" r="1.3" fill="#a8b0dc" stroke="none" stroke-width="1" />
<circle cx="272.9" cy="326" r="2.7" fill="url(#gSmallGray)"/>
<circle cx="284.6" cy="326" r="2.7" fill="url(#gSmallGray)"/>
<circle cx="280.1" cy="338.6" r="2.7" fill="url(#gSmallGray)"/>
<line x1="297.6" y1="326.9" x2="302.05" y2="325.45" stroke="#b0aa98" stroke-width="1.0" />
<line x1="302.05" y1="325.45" x2="306.5" y2="324" stroke="#ee4444" stroke-width="1.0" />
<line x1="310.8" y1="326.9" x2="308.65" y2="325.45" stroke="#b0aa98" stroke-width="1.0" />
<line x1="308.65" y1="325.45" x2="306.5" y2="324" stroke="#ee4444" stroke-width="1.0" />
<line x1="297.6" y1="326.9" x2="297.4" y2="331.3" stroke="#b0aa98" stroke-width="1.0" />
<line x1="297.4" y1="331.3" x2="297.2" y2="335.7" stroke="#b0b8e0" stroke-width="1.0" />
<line x1="297.2" y1="335.7" x2="301.85" y2="338.3" stroke="#b0b8e0" stroke-width="1.0" />
<line x1="301.85" y1="338.3" x2="306.5" y2="340.9" stroke="#b0aa98" stroke-width="1.0" />
<line x1="310.8" y1="326.9" x2="310.3" y2="331.3" stroke="#b0aa98" stroke-width="1.0" />
<line x1="310.3" y1="331.3" x2="309.8" y2="335.7" stroke="#b0b8e0" stroke-width="1.0" />
<line x1="309.8" y1="335.7" x2="308.15" y2="338.3" stroke="#b0b8e0" stroke-width="1.0" />
<line x1="308.15" y1="338.3" x2="306.5" y2="340.9" stroke="#b0aa98" stroke-width="1.0" />
<line x1="306.5" y1="340.9" x2="304.3" y2="342.85" stroke="#b0aa98" stroke-width="1.0" />
<line x1="304.3" y1="342.85" x2="302.1" y2="344.8" stroke="#ee4444" stroke-width="1.0" />
<line x1="306.5" y1="340.9" x2="310.6" y2="342.85" stroke="#b0aa98" stroke-width="1.0" />
<line x1="310.6" y1="342.85" x2="314.7" y2="344.8" stroke="#ee4444" stroke-width="1.0" />
<circle cx="306.5" cy="324" r="1.5" fill="#e81818" stroke="none" stroke-width="1" />
<circle cx="302.1" cy="344.8" r="1.5" fill="#e81818" stroke="none" stroke-width="1" />
<circle cx="314.7" cy="344.8" r="1.5" fill="#e81818" stroke="none" stroke-width="1" />
<circle cx="297.2" cy="335.7" r="1.3" fill="#a8b0dc" stroke="none" stroke-width="1" />
<circle cx="309.8" cy="335.7" r="1.3" fill="#a8b0dc" stroke="none" stroke-width="1" />
<circle cx="297.6" cy="326.9" r="2.7" fill="url(#gSmallGray)"/>
<circle cx="310.8" cy="326.9" r="2.7" fill="url(#gSmallGray)"/>
<circle cx="306.5" cy="340.9" r="2.7" fill="url(#gSmallGray)"/>
<path d="M95.8,392.5 L108,385.5 L108.9,399.5 L95.8,407.1Z" fill="none" stroke="#c8ccf0" stroke-width="0.7"/>
<line x1="100.7" y1="399.5" x2="104.3" y2="399.5" stroke="#e83030" stroke-width="1.6" />
<line x1="100.7" y1="399.5" x2="98.64" y2="396.55" stroke="#e83030" stroke-width="1.6" />
<line x1="100.7" y1="399.5" x2="98.75" y2="402.53" stroke="#e83030" stroke-width="1.6" />
<circle cx="104" cy="392.5" r="1.2" fill="#b8c0e8" stroke="none" stroke-width="1" />
<circle cx="100.7" cy="399.5" r="1.7" fill="#e02020" stroke="none" stroke-width="1" />
<circle cx="95.8" cy="392.5" r="2.7" fill="url(#gSmallGray)"/>
<circle cx="108" cy="385.5" r="2.7" fill="url(#gSmallGray)"/>
<circle cx="108.9" cy="399.5" r="2.7" fill="url(#gSmallGray)"/>
<circle cx="95.8" cy="407.1" r="2.7" fill="url(#gSmallGray)"/>
<path d="M122,392.5 L134,385.5 L134,397.4 L122,403.6Z" fill="none" stroke="#c8ccf0" stroke-width="0.7"/>
<line x1="126.4" y1="397.4" x2="123.99" y2="394.72" stroke="#e83030" stroke-width="1.6" />
<line x1="126.4" y1="397.4" x2="130" y2="397.4" stroke="#e83030" stroke-width="1.6" />
<line x1="126.4" y1="397.4" x2="124.32" y2="400.34" stroke="#e83030" stroke-width="1.6" />
<circle cx="129.6" cy="392.5" r="1.2" fill="#b8c0e8" stroke="none" stroke-width="1" />
<circle cx="118.9" cy="410" r="1.2" fill="#b8c0e8" stroke="none" stroke-width="1" />
<circle cx="126.4" cy="397.4" r="1.7" fill="#e02020" stroke="none" stroke-width="1" />
<circle cx="122" cy="392.5" r="2.7" fill="url(#gSmallGray)"/>
<circle cx="134" cy="385.5" r="2.7" fill="url(#gSmallGray)"/>
<circle cx="134" cy="397.4" r="2.7" fill="url(#gSmallGray)"/>
<circle cx="122" cy="403.6" r="2.7" fill="url(#gSmallGray)"/>
<path d="M145.3,391.1 L155.9,385.2 L155.9,397.4 L145.3,403.6Z" fill="none" stroke="#c8ccf0" stroke-width="0.7"/>
<line x1="149.2" y1="397.4" x2="150.88" y2="394.22" stroke="#e83030" stroke-width="1.6" />
<line x1="149.2" y1="397.4" x2="152.8" y2="397.4" stroke="#e83030" stroke-width="1.6" />
<line x1="149.2" y1="397.4" x2="147.28" y2="400.45" stroke="#e83030" stroke-width="1.6" />
<circle cx="141" cy="395" r="1.2" fill="#b8c0e8" stroke="none" stroke-width="1" />
<circle cx="146" cy="409" r="1.2" fill="#b8c0e8" stroke="none" stroke-width="1" />
<circle cx="149.2" cy="397.4" r="1.7" fill="#e02020" stroke="none" stroke-width="1" />
<circle cx="145.3" cy="391.1" r="2.7" fill="url(#gSmallGray)"/>
<circle cx="155.9" cy="385.2" r="2.7" fill="url(#gSmallGray)"/>
<circle cx="155.9" cy="397.4" r="2.7" fill="url(#gSmallGray)"/>
<circle cx="145.3" cy="403.6" r="2.7" fill="url(#gSmallGray)"/>
<circle cx="151" cy="394" r="2.7" fill="url(#gSmallGray)"/>
<path d="M174.3,391.1 L184.8,385.2 L184.8,397.4 L174.3,403.6Z" fill="none" stroke="#c8ccf0" stroke-width="0.7"/>
<line x1="177.2" y1="397.4" x2="179.42" y2="394.56" stroke="#e83030" stroke-width="1.6" />
<line x1="177.2" y1="397.4" x2="175.67" y2="400.66" stroke="#e83030" stroke-width="1.6" />
<line x1="177.2" y1="397.4" x2="175.69" y2="394.13" stroke="#e83030" stroke-width="1.6" />
<circle cx="170" cy="396" r="1.2" fill="#b8c0e8" stroke="none" stroke-width="1" />
<circle cx="184" cy="401" r="1.2" fill="#b8c0e8" stroke="none" stroke-width="1" />
<circle cx="177.2" cy="397.4" r="1.7" fill="#e02020" stroke="none" stroke-width="1" />
<circle cx="174.3" cy="391.1" r="2.7" fill="url(#gSmallGray)"/>
<circle cx="184.8" cy="385.2" r="2.7" fill="url(#gSmallGray)"/>
<circle cx="184.8" cy="397.4" r="2.7" fill="url(#gSmallGray)"/>
<circle cx="174.3" cy="403.6" r="2.7" fill="url(#gSmallGray)"/>
<circle cx="179" cy="395.1" r="2.7" fill="url(#gSmallGray)"/>
<path d="M195.9,391.6 L207.3,385.5 L207.3,397.4 L196.4,403.6Z" fill="none" stroke="#c8ccf0" stroke-width="0.7"/>
<line x1="200.3" y1="397.4" x2="203.9" y2="397.4" stroke="#e83030" stroke-width="1.6" />
<line x1="200.3" y1="397.4" x2="198.12" y2="394.53" stroke="#e83030" stroke-width="1.6" />
<line x1="200.3" y1="397.4" x2="198.38" y2="400.45" stroke="#e83030" stroke-width="1.6" />
<circle cx="203" cy="392" r="1.2" fill="#b8c0e8" stroke="none" stroke-width="1" />
<circle cx="203" cy="402" r="1.2" fill="#b8c0e8" stroke="none" stroke-width="1" />
<circle cx="200.3" cy="397.4" r="1.7" fill="#e02020" stroke="none" stroke-width="1" />
<circle cx="195.9" cy="391.6" r="2.7" fill="url(#gSmallGray)"/>
<circle cx="207.3" cy="385.5" r="2.7" fill="url(#gSmallGray)"/>
<circle cx="207.3" cy="397.4" r="2.7" fill="url(#gSmallGray)"/>
<circle cx="196.4" cy="403.6" r="2.7" fill="url(#gSmallGray)"/>
<path d="M219.5,392.2 L230.9,385.5 L230.9,398.7 L219.5,405.7Z" fill="none" stroke="#c8ccf0" stroke-width="0.7"/>
<line x1="224.4" y1="396.4" x2="221.67" y2="394.06" stroke="#e83030" stroke-width="1.6" />
<line x1="224.4" y1="396.4" x2="227.79" y2="397.6" stroke="#e83030" stroke-width="1.6" />
<line x1="224.4" y1="396.4" x2="222.72" y2="399.58" stroke="#e83030" stroke-width="1.6" />
<circle cx="217" cy="396" r="1.2" fill="#b8c0e8" stroke="none" stroke-width="1" />
<circle cx="228" cy="402" r="1.2" fill="#b8c0e8" stroke="none" stroke-width="1" />
<circle cx="217" cy="410" r="1.2" fill="#b8c0e8" stroke="none" stroke-width="1" />
<circle cx="224.4" cy="396.4" r="1.7" fill="#e02020" stroke="none" stroke-width="1" />
<circle cx="219.5" cy="392.2" r="2.7" fill="url(#gSmallGray)"/>
<circle cx="230.9" cy="385.5" r="2.7" fill="url(#gSmallGray)"/>
<circle cx="230.9" cy="398.7" r="2.7" fill="url(#gSmallGray)"/>
<circle cx="219.5" cy="405.7" r="2.7" fill="url(#gSmallGray)"/>
<path d="M249.6,394.8 L262.2,387.7 L256.1,397.5 L262.2,401.4Z" fill="none" stroke="#c8ccf0" stroke-width="0.7"/>
<line x1="257.8" y1="395.3" x2="255.6" y2="398.15" stroke="#e83030" stroke-width="1.6" />
<line x1="257.8" y1="395.3" x2="259.91" y2="398.22" stroke="#e83030" stroke-width="1.6" />
<line x1="257.8" y1="395.3" x2="254.21" y2="395.08" stroke="#e83030" stroke-width="1.6" />
<circle cx="248" cy="410" r="1.2" fill="#b8c0e8" stroke="none" stroke-width="1" />
<circle cx="257.8" cy="395.3" r="1.7" fill="#e02020" stroke="none" stroke-width="1" />
<circle cx="249.6" cy="394.8" r="2.7" fill="url(#gSmallGray)"/>
<circle cx="262.2" cy="387.7" r="2.7" fill="url(#gSmallGray)"/>
<circle cx="256.1" cy="397.5" r="2.7" fill="url(#gSmallGray)"/>
<circle cx="262.2" cy="401.4" r="2.7" fill="url(#gSmallGray)"/>
<circle cx="249.6" cy="408.5" r="2.7" fill="url(#gSmallGray)"/>
<path d="M272.6,395.9 L284.6,389.3 L284.6,402.4 L273.1,409Z" fill="none" stroke="#c8ccf0" stroke-width="0.7"/>
<line x1="280.8" y1="395.9" x2="278.53" y2="398.7" stroke="#e83030" stroke-width="1.6" />
<line x1="280.8" y1="395.9" x2="282.62" y2="399.01" stroke="#e83030" stroke-width="1.6" />
<line x1="280.8" y1="395.9" x2="282.6" y2="392.78" stroke="#e83030" stroke-width="1.6" />
<circle cx="272" cy="402" r="1.2" fill="#b8c0e8" stroke="none" stroke-width="1" />
<circle cx="280.8" cy="395.9" r="1.7" fill="#e02020" stroke="none" stroke-width="1" />
<circle cx="272.6" cy="395.9" r="2.7" fill="url(#gSmallGray)"/>
<circle cx="284.6" cy="389.3" r="2.7" fill="url(#gSmallGray)"/>
<circle cx="284.6" cy="402.4" r="2.7" fill="url(#gSmallGray)"/>
<circle cx="273.1" cy="409" r="2.7" fill="url(#gSmallGray)"/>
<circle cx="279.1" cy="398" r="2.7" fill="url(#gSmallGray)"/>
<path d="M297.2,392.6 L310.3,384.9 L310.3,399.7 L297.2,406.8Z" fill="none" stroke="#c8ccf0" stroke-width="0.7"/>
<line x1="306" y1="392.6" x2="307.86" y2="395.68" stroke="#e83030" stroke-width="1.6" />
<line x1="306" y1="392.6" x2="302.4" y2="392.6" stroke="#e83030" stroke-width="1.6" />
<line x1="306" y1="392.6" x2="307.76" y2="389.46" stroke="#e83030" stroke-width="1.6" />
<circle cx="306" cy="392.6" r="1.7" fill="#e02020" stroke="none" stroke-width="1" />
<circle cx="297.2" cy="392.6" r="2.7" fill="url(#gSmallGray)"/>
<circle cx="310.3" cy="384.9" r="2.7" fill="url(#gSmallGray)"/>
<circle cx="310.3" cy="399.7" r="2.7" fill="url(#gSmallGray)"/>
<circle cx="297.2" cy="406.8" r="2.7" fill="url(#gSmallGray)"/>
<line x1="257.8" y1="395.3" x2="254.2" y2="392.72" stroke="#e85050" stroke-width="1.0" />
<circle cx="251.8" cy="391" r="1.3" fill="#e82020" stroke="none" stroke-width="1" />
<line x1="257.8" y1="395.3" x2="261.4" y2="388.4" stroke="#e85050" stroke-width="1.0" />
<circle cx="263.8" cy="383.8" r="1.3" fill="#e82020" stroke="none" stroke-width="1" />
<line x1="257.8" y1="395.3" x2="261.4" y2="396.62" stroke="#e85050" stroke-width="1.0" />
<circle cx="263.8" cy="397.5" r="1.3" fill="#e82020" stroke="none" stroke-width="1" />
<line x1="257.8" y1="395.3" x2="254.5" y2="400.88" stroke="#e85050" stroke-width="1.0" />
<circle cx="252.3" cy="404.6" r="1.3" fill="#e82020" stroke="none" stroke-width="1" />
<line x1="280.8" y1="395.9" x2="277.8" y2="392.6" stroke="#e85050" stroke-width="1.0" />
<circle cx="275.8" cy="390.4" r="1.3" fill="#e82020" stroke="none" stroke-width="1" />
<line x1="280.8" y1="395.9" x2="284.7" y2="388.64" stroke="#e85050" stroke-width="1.0" />
<circle cx="287.3" cy="383.8" r="1.3" fill="#e82020" stroke="none" stroke-width="1" />
<line x1="280.8" y1="395.9" x2="284.7" y2="396.56" stroke="#e85050" stroke-width="1.0" />
<circle cx="287.3" cy="397" r="1.3" fill="#e82020" stroke="none" stroke-width="1" />
<line x1="280.8" y1="395.9" x2="277.8" y2="400.46" stroke="#e85050" stroke-width="1.0" />
<circle cx="275.8" cy="403.5" r="1.3" fill="#e82020" stroke="none" stroke-width="1" />
<line x1="306" y1="392.6" x2="303.66" y2="397.22" stroke="#e85050" stroke-width="1.0" />
<circle cx="302.1" cy="400.3" r="1.3" fill="#e82020" stroke="none" stroke-width="1" />
<circle cx="104" cy="392.5" r="2.7" fill="url(#gSmallGrayB)"/>
<circle cx="129.4" cy="391.4" r="2.7" fill="url(#gSmallGrayB)"/>
<line x1="78.5" y1="374.4" x2="323.6" y2="374.4" stroke="#222" stroke-width="1.2" stroke-dasharray="4.4 4.25"/>
<path d="M102.9,374.2 L103.56,374.26 L104.21,374.31 L104.87,374.36 L105.52,374.4 L106.18,374.43 L106.83,374.46 L107.49,374.48 L108.14,374.49 L108.8,374.5 L109.45,374.5 L110.11,374.5 L110.76,374.5 L111.42,374.49 L112.07,374.47 L112.73,374.46 L113.38,374.43 L114.04,374.41 L114.69,374.38 L115.35,374.35 L116,374.32 L116.66,374.29 L117.31,374.25 L117.97,374.22 L118.62,374.18 L119.28,374.14 L119.93,374.1 L120.59,374.06 L121.25,374.02 L121.9,373.98 L122.56,373.95 L123.21,373.91 L123.87,373.87 L124.52,373.84 L125.18,373.81 L125.83,373.78 L126.49,373.75 L127.14,373.73 L127.8,373.7 L128.45,373.67 L129.11,373.62 L129.76,373.56 L130.42,373.5 L131.07,373.42 L131.73,373.33 L132.38,373.23 L133.04,373.13 L133.69,373.01 L134.35,372.89 L135,372.76 L135.66,372.62 L136.31,372.47 L136.97,372.31 L137.62,372.15 L138.28,371.98 L138.94,371.8 L139.59,371.62 L140.25,371.43 L140.9,371.24 L141.56,371.04 L142.21,370.84 L142.87,370.63 L143.52,370.41 L144.18,370.2 L144.83,369.98 L145.49,369.75 L146.14,369.52 L146.8,369.29 L147.45,369.06 L148.11,368.83 L148.76,368.59 L149.42,368.35 L150.07,368.11 L150.73,367.87 L151.38,367.63 L152.04,367.38 L152.69,366.88 L153.35,366.06 L154,364.92 L154.66,363.5 L155.31,361.81 L155.97,359.86 L156.63,357.68 L157.28,355.27 L157.94,352.66 L158.59,349.87 L159.25,346.91 L159.9,343.8 L160.56,340.56 L161.21,337.21 L161.87,333.76 L162.52,330.23 L163.18,326.64 L163.83,323 L164.49,319.34 L165.14,315.68 L165.8,312.02 L166.45,308.39 L167.11,304.8 L167.76,301.28 L168.42,297.83 L169.07,294.48 L169.73,291.25 L170.38,288.15 L171.04,285.21 L171.69,282.43 L172.35,279.83 L173,277.44 L173.66,275.27 L174.32,273.34 L174.97,271.66 L175.63,270.26 L176.28,269.15 L176.94,268.41 L177.59,268.12 L178.25,268.27 L178.9,268.82 L179.56,269.75 L180.21,271.05 L180.87,272.67 L181.52,274.61 L182.18,276.83 L182.83,279.32 L183.49,282.04 L184.14,284.98 L184.8,288.1 L185.45,291.39 L186.11,294.82 L186.76,298.37 L187.42,302.01 L188.07,305.72 L188.73,309.47 L189.38,313.24 L190.04,317.01 L190.69,320.75 L191.35,324.44 L192.01,328.05 L192.66,331.55 L193.32,334.94 L193.97,338.17 L194.63,341.23 L195.28,344.09 L195.94,346.73 L196.59,349.12 L197.25,351.24 L197.9,353.07 L198.56,354.58 L199.21,355.74 L199.87,356.54 L200.52,356.95 L201.18,356.94 L201.83,356.51 L202.49,355.7 L203.14,354.52 L203.8,353 L204.45,351.16 L205.11,349.03 L205.76,346.63 L206.42,343.98 L207.07,341.11 L207.73,338.05 L208.38,334.81 L209.04,331.42 L209.69,327.91 L210.35,324.3 L211.01,320.61 L211.66,316.88 L212.32,313.11 L212.97,309.34 L213.63,305.59 L214.28,301.88 L214.94,298.25 L215.59,294.7 L216.25,291.28 L216.9,287.99 L217.56,284.87 L218.21,281.94 L218.87,279.23 L219.52,276.75 L220.18,274.54 L220.83,272.61 L221.49,270.99 L222.14,269.71 L222.8,268.78 L223.45,268.24 L224.11,268.11 L224.76,268.4 L225.42,269.16 L226.07,270.27 L226.73,271.66 L227.38,273.32 L228.04,275.23 L228.7,277.37 L229.35,279.73 L230.01,282.28 L230.66,285.01 L231.32,287.9 L231.97,290.94 L232.63,294.1 L233.28,297.38 L233.94,300.76 L234.59,304.21 L235.25,307.72 L235.9,311.28 L236.56,314.86 L237.21,318.45 L237.87,322.04 L238.52,325.6 L239.18,329.12 L239.83,332.58 L240.49,335.97 L241.14,339.26 L241.8,342.45 L242.45,345.5 L243.11,348.42 L243.76,351.17 L244.42,353.75 L245.07,356.13 L245.73,358.3 L246.39,360.24 L247.04,361.93 L247.7,363.36 L248.35,364.52 L249.01,365.37 L249.66,365.91 L250.32,366.22 L250.97,366.52 L251.63,366.81 L252.28,367.11 L252.94,367.4 L253.59,367.69 L254.25,367.98 L254.9,368.27 L255.56,368.55 L256.21,368.83 L256.87,369.1 L257.52,369.38 L258.18,369.64 L258.83,369.91 L259.49,370.16 L260.14,370.41 L260.8,370.66 L261.45,370.9 L262.11,371.13 L262.76,371.35 L263.42,371.57 L264.08,371.78 L264.73,371.98 L265.39,372.17 L266.04,372.36 L266.7,372.53 L267.35,372.69 L268.01,372.85 L268.66,372.99 L269.32,373.12 L269.97,373.24 L270.63,373.35 L271.28,373.44 L271.94,373.53 L272.59,373.6 L273.25,373.65 L273.9,373.7 L274.56,373.73 L275.21,373.76 L275.87,373.79 L276.52,373.83 L277.18,373.87 L277.83,373.91 L278.49,373.95 L279.14,373.99 L279.8,374.04 L280.45,374.09 L281.11,374.13 L281.77,374.18 L282.42,374.22 L283.08,374.27 L283.73,374.31 L284.39,374.35 L285.04,374.39 L285.7,374.43 L286.35,374.47 L287.01,374.5 L287.66,374.53 L288.32,374.56 L288.97,374.58 L289.63,374.6 L290.28,374.61 L290.94,374.62 L291.59,374.62 L292.25,374.62 L292.9,374.61 L293.56,374.59 L294.21,374.57 L294.87,374.54 L295.52,374.51 L296.18,374.46 L296.83,374.41 L297.49,374.35 L298.14,374.28 L298.8,374.2" fill="none" stroke="#1e88f5" stroke-width="1.9" stroke-linejoin="round" stroke-linecap="round" />
<circle cx="102.9" cy="374.2" r="3.1" fill="#fff" stroke="#ff1a1a" stroke-width="1.2" />
<circle cx="102.9" cy="374.2" r="0.75" fill="#ff1a1a" stroke="none" stroke-width="1" />
<circle cx="127.39" cy="373.72" r="3.1" fill="#fff" stroke="#ff1a1a" stroke-width="1.2" />
<circle cx="127.39" cy="373.72" r="0.75" fill="#ff1a1a" stroke="none" stroke-width="1" />
<circle cx="151.88" cy="367.45" r="3.1" fill="#fff" stroke="#ff1a1a" stroke-width="1.2" />
<circle cx="151.88" cy="367.45" r="0.75" fill="#ff1a1a" stroke="none" stroke-width="1" />
<circle cx="176.36" cy="269.04" r="3.1" fill="#fff" stroke="#ff1a1a" stroke-width="1.2" />
<circle cx="176.36" cy="269.04" r="0.75" fill="#ff1a1a" stroke="none" stroke-width="1" />
<circle cx="200.85" cy="356.99" r="3.1" fill="#fff" stroke="#ff1a1a" stroke-width="1.2" />
<circle cx="200.85" cy="356.99" r="0.75" fill="#ff1a1a" stroke="none" stroke-width="1" />
<circle cx="225.34" cy="269.04" r="3.1" fill="#fff" stroke="#ff1a1a" stroke-width="1.2" />
<circle cx="225.34" cy="269.04" r="0.75" fill="#ff1a1a" stroke="none" stroke-width="1" />
<circle cx="249.83" cy="366" r="3.1" fill="#fff" stroke="#ff1a1a" stroke-width="1.2" />
<circle cx="249.83" cy="366" r="0.75" fill="#ff1a1a" stroke="none" stroke-width="1" />
<circle cx="274.31" cy="373.72" r="3.1" fill="#fff" stroke="#ff1a1a" stroke-width="1.2" />
<circle cx="274.31" cy="373.72" r="0.75" fill="#ff1a1a" stroke="none" stroke-width="1" />
<circle cx="298.8" cy="374.2" r="3.1" fill="#fff" stroke="#ff1a1a" stroke-width="1.2" />
<circle cx="298.8" cy="374.2" r="0.75" fill="#ff1a1a" stroke="none" stroke-width="1" />
<rect x="78.8" y="253.2" width="244.8" height="168.6" fill="none" stroke="#000" stroke-width="1.5"/>
<line x1="78.8" y1="406.36" x2="83" y2="406.36" stroke="#000" stroke-width="1.3" />
<text x="74.8" y="411.66" font-size="15.6" text-anchor="end" font-weight="normal" font-style="normal" fill="#000" >-0.2</text>
<line x1="78.8" y1="374.2" x2="83" y2="374.2" stroke="#000" stroke-width="1.3" />
<text x="74.8" y="379.5" font-size="15.6" text-anchor="end" font-weight="normal" font-style="normal" fill="#000" >0.0</text>
<line x1="78.8" y1="342.04" x2="83" y2="342.04" stroke="#000" stroke-width="1.3" />
<text x="74.8" y="347.34" font-size="15.6" text-anchor="end" font-weight="normal" font-style="normal" fill="#000" >0.2</text>
<line x1="78.8" y1="309.88" x2="83" y2="309.88" stroke="#000" stroke-width="1.3" />
<text x="74.8" y="315.18" font-size="15.6" text-anchor="end" font-weight="normal" font-style="normal" fill="#000" >0.4</text>
<line x1="78.8" y1="277.72" x2="83" y2="277.72" stroke="#000" stroke-width="1.3" />
<text x="74.8" y="283.02" font-size="15.6" text-anchor="end" font-weight="normal" font-style="normal" fill="#000" >0.6</text>
<line x1="78.8" y1="390.28" x2="81.2" y2="390.28" stroke="#000" stroke-width="1.3" />
<line x1="78.8" y1="358.12" x2="81.2" y2="358.12" stroke="#000" stroke-width="1.3" />
<line x1="78.8" y1="325.96" x2="81.2" y2="325.96" stroke="#000" stroke-width="1.3" />
<line x1="78.8" y1="293.8" x2="81.2" y2="293.8" stroke="#000" stroke-width="1.3" />
<line x1="78.8" y1="261.64" x2="81.2" y2="261.64" stroke="#000" stroke-width="1.3" />
<line x1="102.9" y1="421.8" x2="102.9" y2="417.6" stroke="#000" stroke-width="1.3" />
<text x="102.9" y="438.5" font-size="15.6" text-anchor="middle" font-weight="normal" font-style="normal" fill="#000" >0.00</text>
<line x1="151.88" y1="421.8" x2="151.88" y2="417.6" stroke="#000" stroke-width="1.3" />
<text x="151.88" y="438.5" font-size="15.6" text-anchor="middle" font-weight="normal" font-style="normal" fill="#000" >0.25</text>
<line x1="200.85" y1="421.8" x2="200.85" y2="417.6" stroke="#000" stroke-width="1.3" />
<text x="200.85" y="438.5" font-size="15.6" text-anchor="middle" font-weight="normal" font-style="normal" fill="#000" >0.50</text>
<line x1="249.83" y1="421.8" x2="249.83" y2="417.6" stroke="#000" stroke-width="1.3" />
<text x="249.83" y="438.5" font-size="15.6" text-anchor="middle" font-weight="normal" font-style="normal" fill="#000" >0.75</text>
<line x1="298.8" y1="421.8" x2="298.8" y2="417.6" stroke="#000" stroke-width="1.3" />
<text x="298.8" y="438.5" font-size="15.6" text-anchor="middle" font-weight="normal" font-style="normal" fill="#000" >1.00</text>
<line x1="127.39" y1="421.8" x2="127.39" y2="419.4" stroke="#000" stroke-width="1.3" />
<line x1="176.36" y1="421.8" x2="176.36" y2="419.4" stroke="#000" stroke-width="1.3" />
<line x1="225.34" y1="421.8" x2="225.34" y2="419.4" stroke="#000" stroke-width="1.3" />
<line x1="274.31" y1="421.8" x2="274.31" y2="419.4" stroke="#000" stroke-width="1.3" />
<text x="-0.6" y="255.7" font-size="23.6" text-anchor="start" font-weight="normal" font-style="normal" fill="#000" >(c)</text>
<text transform="translate(38.6,337.9) rotate(-90)" font-size="15.4" text-anchor="middle">Energy (eV/unit cell)</text>
<text x="207.5" y="458.3" font-size="15.4" text-anchor="middle" font-weight="normal" font-style="normal" fill="#000" >NEB path parameter</text>
<text x="232.4" y="274.1" font-size="15.6" text-anchor="start" font-weight="normal" font-style="normal" fill="#ff0000" >0.65 eV</text>
<text x="90.2" y="315.5" font-size="14.5" text-anchor="start" font-weight="bold" font-style="normal" fill="#000" >P</text>
<line x1="106.4" y1="304.7" x2="106.4" y2="311.1" stroke="#000" stroke-width="1.4" />
<path d="M104.1,311.1 L108.7,311.1 L106.4,317.6 Z" fill="#000"/>
<text x="94.3" y="365.8" font-size="15.6" text-anchor="start" font-weight="normal" font-style="normal" fill="#ff0000" >FE</text>
<line x1="293.3" y1="317.2" x2="293.3" y2="311.1" stroke="#000" stroke-width="1.4" />
<path d="M291,311.1 L295.6,311.1 L293.3,304.6 Z" fill="#000"/>
<text x="298.8" y="316.2" font-size="14.5" text-anchor="start" font-weight="bold" font-style="normal" fill="#000" >-P</text>
<text x="292" y="366.8" font-size="15.6" text-anchor="start" font-weight="normal" font-style="normal" fill="#ff0000" >-FE</text>
<line x1="451.8" y1="375.1" x2="456" y2="389.6" stroke="#b8a8d8" stroke-width="1.0" />
<line x1="451.8" y1="375.1" x2="447.3" y2="370.8" stroke="#e05050" stroke-width="1.0" />
<line x1="451.8" y1="375.1" x2="460.2" y2="370.8" stroke="#e05050" stroke-width="1.0" />
<line x1="456" y1="389.6" x2="447.3" y2="392.8" stroke="#e05050" stroke-width="1.0" />
<line x1="456" y1="389.6" x2="460.4" y2="392.8" stroke="#e05050" stroke-width="1.0" />
<circle cx="447.3" cy="370.8" r="1.5" fill="#e82020" stroke="none" stroke-width="1" />
<circle cx="460.2" cy="370.8" r="1.5" fill="#e82020" stroke="none" stroke-width="1" />
<circle cx="447.3" cy="392.8" r="1.5" fill="#e82020" stroke="none" stroke-width="1" />
<circle cx="460.4" cy="392.8" r="1.5" fill="#e82020" stroke="none" stroke-width="1" />
<circle cx="451.8" cy="375.1" r="3.0" fill="url(#gPinkS)"/>
<circle cx="456" cy="389.6" r="3.0" fill="url(#gPinkS)"/>
<line x1="447.3" y1="370.8" x2="444.2" y2="370.8" stroke="#0a1af0" stroke-width="1.5" />
<path d="M444.2,368.7 L444.2,372.9 L441,370.8 Z" fill="#0a1af0"/>
<line x1="460.2" y1="370.8" x2="457.2" y2="370.8" stroke="#0a1af0" stroke-width="1.5" />
<path d="M457.2,368.7 L457.2,372.9 L454,370.8 Z" fill="#0a1af0"/>
<line x1="451.8" y1="375.1" x2="448.7" y2="375.1" stroke="#0a1af0" stroke-width="1.5" />
<path d="M448.7,373 L448.7,377.2 L445.5,375.1 Z" fill="#0a1af0"/>
<line x1="451" y1="381" x2="449.7" y2="381" stroke="#0a1af0" stroke-width="1.5" />
<path d="M449.7,378.9 L449.7,383.1 L446.5,381 Z" fill="#0a1af0"/>
<line x1="455.7" y1="379.1" x2="455.7" y2="382.1" stroke="#0a1af0" stroke-width="1.5" />
<path d="M453.6,382.1 L457.8,382.1 L455.7,385.3 Z" fill="#0a1af0"/>
<path d="M460.2,399.9 L460.2,414.4 L447,421.5 L447,407Z" fill="none" stroke="#c8ccf0" stroke-width="0.7"/>
<line x1="455.7" y1="407" x2="460.2" y2="399.9" stroke="#e05050" stroke-width="1.1" />
<line x1="455.7" y1="407" x2="447" y2="407" stroke="#e05050" stroke-width="1.1" />
<line x1="451.5" y1="414.1" x2="447" y2="407" stroke="#e05050" stroke-width="1.1" />
<line x1="451.5" y1="414.1" x2="447" y2="421.5" stroke="#e05050" stroke-width="1.1" />
<line x1="451.5" y1="414.1" x2="460.2" y2="414.4" stroke="#e05050" stroke-width="1.1" />
<line x1="455.7" y1="407" x2="460.2" y2="414.4" stroke="#e05050" stroke-width="1.1" />
<line x1="455.7" y1="407" x2="451.5" y2="414.1" stroke="#b8a8d8" stroke-width="1.0" />
<circle cx="460.2" cy="399.9" r="1.5" fill="#e82020" stroke="none" stroke-width="1" />
<circle cx="447" cy="407" r="1.5" fill="#e82020" stroke="none" stroke-width="1" />
<circle cx="460.2" cy="414.4" r="1.5" fill="#e82020" stroke="none" stroke-width="1" />
<circle cx="447" cy="421.5" r="1.5" fill="#e82020" stroke="none" stroke-width="1" />
<circle cx="455.7" cy="407" r="3.1" fill="url(#gPinkS)"/>
<circle cx="451.5" cy="414.1" r="3.1" fill="url(#gPinkS)"/>
<line x1="473.6" y1="375.1" x2="477.8" y2="389.6" stroke="#b8a8d8" stroke-width="1.0" />
<line x1="473.6" y1="375.1" x2="469.1" y2="370.8" stroke="#e05050" stroke-width="1.0" />
<line x1="473.6" y1="375.1" x2="482" y2="370.8" stroke="#e05050" stroke-width="1.0" />
<line x1="477.8" y1="389.6" x2="469.1" y2="392.8" stroke="#e05050" stroke-width="1.0" />
<line x1="477.8" y1="389.6" x2="482.2" y2="392.8" stroke="#e05050" stroke-width="1.0" />
<circle cx="469.1" cy="370.8" r="1.5" fill="#e82020" stroke="none" stroke-width="1" />
<circle cx="482" cy="370.8" r="1.5" fill="#e82020" stroke="none" stroke-width="1" />
<circle cx="469.1" cy="392.8" r="1.5" fill="#e82020" stroke="none" stroke-width="1" />
<circle cx="482.2" cy="392.8" r="1.5" fill="#e82020" stroke="none" stroke-width="1" />
<circle cx="473.6" cy="375.1" r="3.0" fill="url(#gPinkS)"/>
<circle cx="477.8" cy="389.6" r="3.0" fill="url(#gPinkS)"/>
<line x1="469.1" y1="370.8" x2="466" y2="370.8" stroke="#0a1af0" stroke-width="1.5" />
<path d="M466,368.7 L466,372.9 L462.8,370.8 Z" fill="#0a1af0"/>
<line x1="482" y1="370.8" x2="479" y2="370.8" stroke="#0a1af0" stroke-width="1.5" />
<path d="M479,368.7 L479,372.9 L475.8,370.8 Z" fill="#0a1af0"/>
<line x1="473.6" y1="375.1" x2="470.5" y2="375.1" stroke="#0a1af0" stroke-width="1.5" />
<path d="M470.5,373 L470.5,377.2 L467.3,375.1 Z" fill="#0a1af0"/>
<line x1="472.8" y1="381" x2="471.5" y2="381" stroke="#0a1af0" stroke-width="1.5" />
<path d="M471.5,378.9 L471.5,383.1 L468.3,381 Z" fill="#0a1af0"/>
<line x1="477.5" y1="379.1" x2="477.5" y2="382.1" stroke="#0a1af0" stroke-width="1.5" />
<path d="M475.4,382.1 L479.6,382.1 L477.5,385.3 Z" fill="#0a1af0"/>
<path d="M482,399.9 L482,414.4 L468.8,421.5 L468.8,407Z" fill="none" stroke="#c8ccf0" stroke-width="0.7"/>
<line x1="477.5" y1="407" x2="482" y2="399.9" stroke="#e05050" stroke-width="1.1" />
<line x1="477.5" y1="407" x2="468.8" y2="407" stroke="#e05050" stroke-width="1.1" />
<line x1="473.3" y1="414.1" x2="468.8" y2="407" stroke="#e05050" stroke-width="1.1" />
<line x1="473.3" y1="414.1" x2="468.8" y2="421.5" stroke="#e05050" stroke-width="1.1" />
<line x1="473.3" y1="414.1" x2="482" y2="414.4" stroke="#e05050" stroke-width="1.1" />
<line x1="477.5" y1="407" x2="482" y2="414.4" stroke="#e05050" stroke-width="1.1" />
<line x1="477.5" y1="407" x2="473.3" y2="414.1" stroke="#b8a8d8" stroke-width="1.0" />
<circle cx="482" cy="399.9" r="1.5" fill="#e82020" stroke="none" stroke-width="1" />
<circle cx="468.8" cy="407" r="1.5" fill="#e82020" stroke="none" stroke-width="1" />
<circle cx="482" cy="414.4" r="1.5" fill="#e82020" stroke="none" stroke-width="1" />
<circle cx="468.8" cy="421.5" r="1.5" fill="#e82020" stroke="none" stroke-width="1" />
<circle cx="477.5" cy="407" r="3.1" fill="url(#gPinkS)"/>
<circle cx="473.3" cy="414.1" r="3.1" fill="url(#gPinkS)"/>
<line x1="495.4" y1="375.1" x2="499.6" y2="389.6" stroke="#b8a8d8" stroke-width="1.0" />
<line x1="495.4" y1="375.1" x2="490.9" y2="370.8" stroke="#e05050" stroke-width="1.0" />
<line x1="495.4" y1="375.1" x2="503.8" y2="370.8" stroke="#e05050" stroke-width="1.0" />
<line x1="499.6" y1="389.6" x2="490.9" y2="392.8" stroke="#e05050" stroke-width="1.0" />
<line x1="499.6" y1="389.6" x2="504" y2="392.8" stroke="#e05050" stroke-width="1.0" />
<circle cx="490.9" cy="370.8" r="1.5" fill="#e82020" stroke="none" stroke-width="1" />
<circle cx="503.8" cy="370.8" r="1.5" fill="#e82020" stroke="none" stroke-width="1" />
<circle cx="490.9" cy="392.8" r="1.5" fill="#e82020" stroke="none" stroke-width="1" />
<circle cx="504" cy="392.8" r="1.5" fill="#e82020" stroke="none" stroke-width="1" />
<circle cx="495.4" cy="375.1" r="3.0" fill="url(#gPinkS)"/>
<circle cx="499.6" cy="389.6" r="3.0" fill="url(#gPinkS)"/>
<line x1="490.9" y1="370.8" x2="487.8" y2="370.8" stroke="#0a1af0" stroke-width="1.5" />
<path d="M487.8,368.7 L487.8,372.9 L484.6,370.8 Z" fill="#0a1af0"/>
<line x1="503.8" y1="370.8" x2="500.8" y2="370.8" stroke="#0a1af0" stroke-width="1.5" />
<path d="M500.8,368.7 L500.8,372.9 L497.6,370.8 Z" fill="#0a1af0"/>
<line x1="495.4" y1="375.1" x2="492.3" y2="375.1" stroke="#0a1af0" stroke-width="1.5" />
<path d="M492.3,373 L492.3,377.2 L489.1,375.1 Z" fill="#0a1af0"/>
<line x1="494.6" y1="381" x2="493.3" y2="381" stroke="#0a1af0" stroke-width="1.5" />
<path d="M493.3,378.9 L493.3,383.1 L490.1,381 Z" fill="#0a1af0"/>
<line x1="499.3" y1="379.1" x2="499.3" y2="382.1" stroke="#0a1af0" stroke-width="1.5" />
<path d="M497.2,382.1 L501.4,382.1 L499.3,385.3 Z" fill="#0a1af0"/>
<path d="M503.8,399.9 L503.8,414.4 L490.6,421.5 L490.6,407Z" fill="none" stroke="#c8ccf0" stroke-width="0.7"/>
<line x1="499.3" y1="407" x2="503.8" y2="399.9" stroke="#e05050" stroke-width="1.1" />
<line x1="499.3" y1="407" x2="490.6" y2="407" stroke="#e05050" stroke-width="1.1" />
<line x1="495.1" y1="414.1" x2="490.6" y2="407" stroke="#e05050" stroke-width="1.1" />
<line x1="495.1" y1="414.1" x2="490.6" y2="421.5" stroke="#e05050" stroke-width="1.1" />
<line x1="495.1" y1="414.1" x2="503.8" y2="414.4" stroke="#e05050" stroke-width="1.1" />
<line x1="499.3" y1="407" x2="503.8" y2="414.4" stroke="#e05050" stroke-width="1.1" />
<line x1="499.3" y1="407" x2="495.1" y2="414.1" stroke="#b8a8d8" stroke-width="1.0" />
<circle cx="503.8" cy="399.9" r="1.5" fill="#e82020" stroke="none" stroke-width="1" />
<circle cx="490.6" cy="407" r="1.5" fill="#e82020" stroke="none" stroke-width="1" />
<circle cx="503.8" cy="414.4" r="1.5" fill="#e82020" stroke="none" stroke-width="1" />
<circle cx="490.6" cy="421.5" r="1.5" fill="#e82020" stroke="none" stroke-width="1" />
<circle cx="499.3" cy="407" r="3.1" fill="url(#gPinkS)"/>
<circle cx="495.1" cy="414.1" r="3.1" fill="url(#gPinkS)"/>
<line x1="518.3" y1="375.1" x2="522.5" y2="389.6" stroke="#b8a8d8" stroke-width="1.0" />
<line x1="518.3" y1="375.1" x2="513.8" y2="370.8" stroke="#e05050" stroke-width="1.0" />
<line x1="518.3" y1="375.1" x2="526.7" y2="370.8" stroke="#e05050" stroke-width="1.0" />
<line x1="522.5" y1="389.6" x2="513.8" y2="392.8" stroke="#e05050" stroke-width="1.0" />
<line x1="522.5" y1="389.6" x2="526.9" y2="392.8" stroke="#e05050" stroke-width="1.0" />
<circle cx="513.8" cy="370.8" r="1.5" fill="#e82020" stroke="none" stroke-width="1" />
<circle cx="526.7" cy="370.8" r="1.5" fill="#e82020" stroke="none" stroke-width="1" />
<circle cx="513.8" cy="392.8" r="1.5" fill="#e82020" stroke="none" stroke-width="1" />
<circle cx="526.9" cy="392.8" r="1.5" fill="#e82020" stroke="none" stroke-width="1" />
<circle cx="518.3" cy="375.1" r="3.0" fill="url(#gPinkS)"/>
<circle cx="522.5" cy="389.6" r="3.0" fill="url(#gPinkS)"/>
<line x1="513.8" y1="370.8" x2="510.7" y2="370.8" stroke="#0a1af0" stroke-width="1.5" />
<path d="M510.7,368.7 L510.7,372.9 L507.5,370.8 Z" fill="#0a1af0"/>
<line x1="526.7" y1="370.8" x2="523.7" y2="370.8" stroke="#0a1af0" stroke-width="1.5" />
<path d="M523.7,368.7 L523.7,372.9 L520.5,370.8 Z" fill="#0a1af0"/>
<line x1="518.3" y1="375.1" x2="515.2" y2="375.1" stroke="#0a1af0" stroke-width="1.5" />
<path d="M515.2,373 L515.2,377.2 L512,375.1 Z" fill="#0a1af0"/>
<line x1="517.5" y1="381" x2="516.2" y2="381" stroke="#0a1af0" stroke-width="1.5" />
<path d="M516.2,378.9 L516.2,383.1 L513,381 Z" fill="#0a1af0"/>
<line x1="522.2" y1="379.1" x2="522.2" y2="382.1" stroke="#0a1af0" stroke-width="1.5" />
<path d="M520.1,382.1 L524.3,382.1 L522.2,385.3 Z" fill="#0a1af0"/>
<line x1="523.2" y1="405.3" x2="516.9" y2="416.3" stroke="#b0b8e0" stroke-width="1.0" />
<line x1="523.2" y1="405.3" x2="526.7" y2="400.1" stroke="#e05050" stroke-width="1.1" />
<line x1="523.2" y1="405.3" x2="516.9" y2="405.3" stroke="#e05050" stroke-width="1.1" />
<line x1="523.2" y1="405.3" x2="526.7" y2="410.9" stroke="#e05050" stroke-width="1.1" />
<line x1="516.9" y1="416.3" x2="523.2" y2="416.3" stroke="#e05050" stroke-width="1.1" />
<line x1="516.9" y1="416.3" x2="516.2" y2="421.9" stroke="#e05050" stroke-width="1.1" />
<line x1="516.9" y1="416.3" x2="512.6" y2="416.3" stroke="#e05050" stroke-width="1.1" />
<circle cx="526.7" cy="400.1" r="1.5" fill="#e82020" stroke="none" stroke-width="1" />
<circle cx="516.9" cy="405.3" r="1.5" fill="#e82020" stroke="none" stroke-width="1" />
<circle cx="526.7" cy="410.9" r="1.5" fill="#e82020" stroke="none" stroke-width="1" />
<circle cx="523.2" cy="416.3" r="1.5" fill="#e82020" stroke="none" stroke-width="1" />
<circle cx="516.2" cy="421.9" r="1.5" fill="#e82020" stroke="none" stroke-width="1" />
<circle cx="512.6" cy="416.3" r="1.5" fill="#e82020" stroke="none" stroke-width="1" />
<circle cx="523.2" cy="405.3" r="3.1" fill="url(#gPinkS)"/>
<circle cx="516.9" cy="416.3" r="3.1" fill="url(#gPinkS)"/>
<line x1="540.8" y1="375.1" x2="545" y2="389.6" stroke="#b8a8d8" stroke-width="1.0" />
<line x1="540.8" y1="375.1" x2="536.3" y2="370.8" stroke="#e05050" stroke-width="1.0" />
<line x1="540.8" y1="375.1" x2="549.2" y2="370.8" stroke="#e05050" stroke-width="1.0" />
<line x1="545" y1="389.6" x2="536.3" y2="392.8" stroke="#e05050" stroke-width="1.0" />
<line x1="545" y1="389.6" x2="549.4" y2="392.8" stroke="#e05050" stroke-width="1.0" />
<circle cx="536.3" cy="370.8" r="1.5" fill="#e82020" stroke="none" stroke-width="1" />
<circle cx="549.2" cy="370.8" r="1.5" fill="#e82020" stroke="none" stroke-width="1" />
<circle cx="536.3" cy="392.8" r="1.5" fill="#e82020" stroke="none" stroke-width="1" />
<circle cx="549.4" cy="392.8" r="1.5" fill="#e82020" stroke="none" stroke-width="1" />
<circle cx="540.8" cy="375.1" r="3.0" fill="url(#gPinkS)"/>
<circle cx="545" cy="389.6" r="3.0" fill="url(#gPinkS)"/>
<line x1="536.3" y1="370.8" x2="533.2" y2="370.8" stroke="#0a1af0" stroke-width="1.5" />
<path d="M533.2,368.7 L533.2,372.9 L530,370.8 Z" fill="#0a1af0"/>
<line x1="549.2" y1="370.8" x2="546.2" y2="370.8" stroke="#0a1af0" stroke-width="1.5" />
<path d="M546.2,368.7 L546.2,372.9 L543,370.8 Z" fill="#0a1af0"/>
<line x1="540.8" y1="375.1" x2="537.7" y2="375.1" stroke="#0a1af0" stroke-width="1.5" />
<path d="M537.7,373 L537.7,377.2 L534.5,375.1 Z" fill="#0a1af0"/>
<line x1="540" y1="381" x2="538.7" y2="381" stroke="#0a1af0" stroke-width="1.5" />
<path d="M538.7,378.9 L538.7,383.1 L535.5,381 Z" fill="#0a1af0"/>
<line x1="544.7" y1="379.1" x2="544.7" y2="382.1" stroke="#0a1af0" stroke-width="1.5" />
<path d="M542.6,382.1 L546.8,382.1 L544.7,385.3 Z" fill="#0a1af0"/>
<line x1="545.7" y1="405.3" x2="539.4" y2="416.3" stroke="#b0b8e0" stroke-width="1.0" />
<line x1="545.7" y1="405.3" x2="549.2" y2="400.1" stroke="#e05050" stroke-width="1.1" />
<line x1="545.7" y1="405.3" x2="539.4" y2="405.3" stroke="#e05050" stroke-width="1.1" />
<line x1="545.7" y1="405.3" x2="549.2" y2="410.9" stroke="#e05050" stroke-width="1.1" />
<line x1="539.4" y1="416.3" x2="545.7" y2="416.3" stroke="#e05050" stroke-width="1.1" />
<line x1="539.4" y1="416.3" x2="538.7" y2="421.9" stroke="#e05050" stroke-width="1.1" />
<line x1="539.4" y1="416.3" x2="535.1" y2="416.3" stroke="#e05050" stroke-width="1.1" />
<circle cx="549.2" cy="400.1" r="1.5" fill="#e82020" stroke="none" stroke-width="1" />
<circle cx="539.4" cy="405.3" r="1.5" fill="#e82020" stroke="none" stroke-width="1" />
<circle cx="549.2" cy="410.9" r="1.5" fill="#e82020" stroke="none" stroke-width="1" />
<circle cx="545.7" cy="416.3" r="1.5" fill="#e82020" stroke="none" stroke-width="1" />
<circle cx="538.7" cy="421.9" r="1.5" fill="#e82020" stroke="none" stroke-width="1" />
<circle cx="535.1" cy="416.3" r="1.5" fill="#e82020" stroke="none" stroke-width="1" />
<circle cx="545.7" cy="405.3" r="3.1" fill="url(#gPinkS)"/>
<circle cx="539.4" cy="416.3" r="3.1" fill="url(#gPinkS)"/>
<line x1="562.7" y1="375.1" x2="566.9" y2="389.6" stroke="#b8a8d8" stroke-width="1.0" />
<line x1="562.7" y1="375.1" x2="558.2" y2="370.8" stroke="#e05050" stroke-width="1.0" />
<line x1="562.7" y1="375.1" x2="571.1" y2="370.8" stroke="#e05050" stroke-width="1.0" />
<line x1="566.9" y1="389.6" x2="558.2" y2="392.8" stroke="#e05050" stroke-width="1.0" />
<line x1="566.9" y1="389.6" x2="571.3" y2="392.8" stroke="#e05050" stroke-width="1.0" />
<circle cx="558.2" cy="370.8" r="1.5" fill="#e82020" stroke="none" stroke-width="1" />
<circle cx="571.1" cy="370.8" r="1.5" fill="#e82020" stroke="none" stroke-width="1" />
<circle cx="558.2" cy="392.8" r="1.5" fill="#e82020" stroke="none" stroke-width="1" />
<circle cx="571.3" cy="392.8" r="1.5" fill="#e82020" stroke="none" stroke-width="1" />
<circle cx="562.7" cy="375.1" r="3.0" fill="url(#gPinkS)"/>
<circle cx="566.9" cy="389.6" r="3.0" fill="url(#gPinkS)"/>
<line x1="558.2" y1="370.8" x2="555.1" y2="370.8" stroke="#0a1af0" stroke-width="1.5" />
<path d="M555.1,368.7 L555.1,372.9 L551.9,370.8 Z" fill="#0a1af0"/>
<line x1="571.1" y1="370.8" x2="568.1" y2="370.8" stroke="#0a1af0" stroke-width="1.5" />
<path d="M568.1,368.7 L568.1,372.9 L564.9,370.8 Z" fill="#0a1af0"/>
<line x1="562.7" y1="375.1" x2="559.6" y2="375.1" stroke="#0a1af0" stroke-width="1.5" />
<path d="M559.6,373 L559.6,377.2 L556.4,375.1 Z" fill="#0a1af0"/>
<line x1="561.9" y1="381" x2="560.6" y2="381" stroke="#0a1af0" stroke-width="1.5" />
<path d="M560.6,378.9 L560.6,383.1 L557.4,381 Z" fill="#0a1af0"/>
<line x1="566.6" y1="379.1" x2="566.6" y2="382.1" stroke="#0a1af0" stroke-width="1.5" />
<path d="M564.5,382.1 L568.7,382.1 L566.6,385.3 Z" fill="#0a1af0"/>
<line x1="567.6" y1="405.3" x2="561.3" y2="416.3" stroke="#b0b8e0" stroke-width="1.0" />
<line x1="567.6" y1="405.3" x2="571.1" y2="400.1" stroke="#e05050" stroke-width="1.1" />
<line x1="567.6" y1="405.3" x2="561.3" y2="405.3" stroke="#e05050" stroke-width="1.1" />
<line x1="567.6" y1="405.3" x2="571.1" y2="410.9" stroke="#e05050" stroke-width="1.1" />
<line x1="561.3" y1="416.3" x2="567.6" y2="416.3" stroke="#e05050" stroke-width="1.1" />
<line x1="561.3" y1="416.3" x2="560.6" y2="421.9" stroke="#e05050" stroke-width="1.1" />
<line x1="561.3" y1="416.3" x2="557" y2="416.3" stroke="#e05050" stroke-width="1.1" />
<circle cx="571.1" cy="400.1" r="1.5" fill="#e82020" stroke="none" stroke-width="1" />
<circle cx="561.3" cy="405.3" r="1.5" fill="#e82020" stroke="none" stroke-width="1" />
<circle cx="571.1" cy="410.9" r="1.5" fill="#e82020" stroke="none" stroke-width="1" />
<circle cx="567.6" cy="416.3" r="1.5" fill="#e82020" stroke="none" stroke-width="1" />
<circle cx="560.6" cy="421.9" r="1.5" fill="#e82020" stroke="none" stroke-width="1" />
<circle cx="557" cy="416.3" r="1.5" fill="#e82020" stroke="none" stroke-width="1" />
<circle cx="567.6" cy="405.3" r="3.1" fill="url(#gPinkS)"/>
<circle cx="561.3" cy="416.3" r="3.1" fill="url(#gPinkS)"/>
<line x1="584.5" y1="375.1" x2="588.7" y2="389.6" stroke="#b8a8d8" stroke-width="1.0" />
<line x1="584.5" y1="375.1" x2="580" y2="370.8" stroke="#e05050" stroke-width="1.0" />
<line x1="584.5" y1="375.1" x2="592.9" y2="370.8" stroke="#e05050" stroke-width="1.0" />
<line x1="588.7" y1="389.6" x2="580" y2="392.8" stroke="#e05050" stroke-width="1.0" />
<line x1="588.7" y1="389.6" x2="593.1" y2="392.8" stroke="#e05050" stroke-width="1.0" />
<circle cx="580" cy="370.8" r="1.5" fill="#e82020" stroke="none" stroke-width="1" />
<circle cx="592.9" cy="370.8" r="1.5" fill="#e82020" stroke="none" stroke-width="1" />
<circle cx="580" cy="392.8" r="1.5" fill="#e82020" stroke="none" stroke-width="1" />
<circle cx="593.1" cy="392.8" r="1.5" fill="#e82020" stroke="none" stroke-width="1" />
<circle cx="584.5" cy="375.1" r="3.0" fill="url(#gPinkS)"/>
<circle cx="588.7" cy="389.6" r="3.0" fill="url(#gPinkS)"/>
<line x1="580" y1="370.8" x2="576.9" y2="370.8" stroke="#0a1af0" stroke-width="1.5" />
<path d="M576.9,368.7 L576.9,372.9 L573.7,370.8 Z" fill="#0a1af0"/>
<line x1="592.9" y1="370.8" x2="589.9" y2="370.8" stroke="#0a1af0" stroke-width="1.5" />
<path d="M589.9,368.7 L589.9,372.9 L586.7,370.8 Z" fill="#0a1af0"/>
<line x1="584.5" y1="375.1" x2="581.4" y2="375.1" stroke="#0a1af0" stroke-width="1.5" />
<path d="M581.4,373 L581.4,377.2 L578.2,375.1 Z" fill="#0a1af0"/>
<line x1="583.7" y1="381" x2="582.4" y2="381" stroke="#0a1af0" stroke-width="1.5" />
<path d="M582.4,378.9 L582.4,383.1 L579.2,381 Z" fill="#0a1af0"/>
<line x1="588.4" y1="379.1" x2="588.4" y2="382.1" stroke="#0a1af0" stroke-width="1.5" />
<path d="M586.3,382.1 L590.5,382.1 L588.4,385.3 Z" fill="#0a1af0"/>
<line x1="589.4" y1="405.3" x2="583.1" y2="416.3" stroke="#b0b8e0" stroke-width="1.0" />
<line x1="589.4" y1="405.3" x2="592.9" y2="400.1" stroke="#e05050" stroke-width="1.1" />
<line x1="589.4" y1="405.3" x2="583.1" y2="405.3" stroke="#e05050" stroke-width="1.1" />
<line x1="589.4" y1="405.3" x2="592.9" y2="410.9" stroke="#e05050" stroke-width="1.1" />
<line x1="583.1" y1="416.3" x2="589.4" y2="416.3" stroke="#e05050" stroke-width="1.1" />
<line x1="583.1" y1="416.3" x2="582.4" y2="421.9" stroke="#e05050" stroke-width="1.1" />
<line x1="583.1" y1="416.3" x2="578.8" y2="416.3" stroke="#e05050" stroke-width="1.1" />
<circle cx="592.9" cy="400.1" r="1.5" fill="#e82020" stroke="none" stroke-width="1" />
<circle cx="583.1" cy="405.3" r="1.5" fill="#e82020" stroke="none" stroke-width="1" />
<circle cx="592.9" cy="410.9" r="1.5" fill="#e82020" stroke="none" stroke-width="1" />
<circle cx="589.4" cy="416.3" r="1.5" fill="#e82020" stroke="none" stroke-width="1" />
<circle cx="582.4" cy="421.9" r="1.5" fill="#e82020" stroke="none" stroke-width="1" />
<circle cx="578.8" cy="416.3" r="1.5" fill="#e82020" stroke="none" stroke-width="1" />
<circle cx="589.4" cy="405.3" r="3.1" fill="url(#gPinkS)"/>
<circle cx="583.1" cy="416.3" r="3.1" fill="url(#gPinkS)"/>
<line x1="605.6" y1="375.1" x2="609.8" y2="389.6" stroke="#b8a8d8" stroke-width="1.0" />
<line x1="605.6" y1="375.1" x2="601.1" y2="370.8" stroke="#e05050" stroke-width="1.0" />
<line x1="605.6" y1="375.1" x2="614" y2="370.8" stroke="#e05050" stroke-width="1.0" />
<line x1="609.8" y1="389.6" x2="601.1" y2="392.8" stroke="#e05050" stroke-width="1.0" />
<line x1="609.8" y1="389.6" x2="614.2" y2="392.8" stroke="#e05050" stroke-width="1.0" />
<circle cx="601.1" cy="370.8" r="1.5" fill="#e82020" stroke="none" stroke-width="1" />
<circle cx="614" cy="370.8" r="1.5" fill="#e82020" stroke="none" stroke-width="1" />
<circle cx="601.1" cy="392.8" r="1.5" fill="#e82020" stroke="none" stroke-width="1" />
<circle cx="614.2" cy="392.8" r="1.5" fill="#e82020" stroke="none" stroke-width="1" />
<circle cx="605.6" cy="375.1" r="3.0" fill="url(#gPinkS)"/>
<circle cx="609.8" cy="389.6" r="3.0" fill="url(#gPinkS)"/>
<line x1="601.1" y1="370.8" x2="598" y2="370.8" stroke="#0a1af0" stroke-width="1.5" />
<path d="M598,368.7 L598,372.9 L594.8,370.8 Z" fill="#0a1af0"/>
<line x1="614" y1="370.8" x2="611" y2="370.8" stroke="#0a1af0" stroke-width="1.5" />
<path d="M611,368.7 L611,372.9 L607.8,370.8 Z" fill="#0a1af0"/>
<line x1="605.6" y1="375.1" x2="602.5" y2="375.1" stroke="#0a1af0" stroke-width="1.5" />
<path d="M602.5,373 L602.5,377.2 L599.3,375.1 Z" fill="#0a1af0"/>
<line x1="604.8" y1="381" x2="603.5" y2="381" stroke="#0a1af0" stroke-width="1.5" />
<path d="M603.5,378.9 L603.5,383.1 L600.3,381 Z" fill="#0a1af0"/>
<line x1="609.5" y1="379.1" x2="609.5" y2="382.1" stroke="#0a1af0" stroke-width="1.5" />
<path d="M607.4,382.1 L611.6,382.1 L609.5,385.3 Z" fill="#0a1af0"/>
<line x1="610.5" y1="405.3" x2="604.2" y2="416.3" stroke="#b0b8e0" stroke-width="1.0" />
<line x1="610.5" y1="405.3" x2="614" y2="400.1" stroke="#e05050" stroke-width="1.1" />
<line x1="610.5" y1="405.3" x2="604.2" y2="405.3" stroke="#e05050" stroke-width="1.1" />
<line x1="610.5" y1="405.3" x2="614" y2="410.9" stroke="#e05050" stroke-width="1.1" />
<line x1="604.2" y1="416.3" x2="610.5" y2="416.3" stroke="#e05050" stroke-width="1.1" />
<line x1="604.2" y1="416.3" x2="603.5" y2="421.9" stroke="#e05050" stroke-width="1.1" />
<line x1="604.2" y1="416.3" x2="599.9" y2="416.3" stroke="#e05050" stroke-width="1.1" />
<circle cx="614" cy="400.1" r="1.5" fill="#e82020" stroke="none" stroke-width="1" />
<circle cx="604.2" cy="405.3" r="1.5" fill="#e82020" stroke="none" stroke-width="1" />
<circle cx="614" cy="410.9" r="1.5" fill="#e82020" stroke="none" stroke-width="1" />
<circle cx="610.5" cy="416.3" r="1.5" fill="#e82020" stroke="none" stroke-width="1" />
<circle cx="603.5" cy="421.9" r="1.5" fill="#e82020" stroke="none" stroke-width="1" />
<circle cx="599.9" cy="416.3" r="1.5" fill="#e82020" stroke="none" stroke-width="1" />
<circle cx="610.5" cy="405.3" r="3.1" fill="url(#gPinkS)"/>
<circle cx="604.2" cy="416.3" r="3.1" fill="url(#gPinkS)"/>
<line x1="626.3" y1="375.1" x2="630.5" y2="389.6" stroke="#b8a8d8" stroke-width="1.0" />
<line x1="626.3" y1="375.1" x2="621.8" y2="370.8" stroke="#e05050" stroke-width="1.0" />
<line x1="626.3" y1="375.1" x2="634.7" y2="370.8" stroke="#e05050" stroke-width="1.0" />
<line x1="630.5" y1="389.6" x2="621.8" y2="392.8" stroke="#e05050" stroke-width="1.0" />
<line x1="630.5" y1="389.6" x2="634.9" y2="392.8" stroke="#e05050" stroke-width="1.0" />
<circle cx="621.8" cy="370.8" r="1.5" fill="#e82020" stroke="none" stroke-width="1" />
<circle cx="634.7" cy="370.8" r="1.5" fill="#e82020" stroke="none" stroke-width="1" />
<circle cx="621.8" cy="392.8" r="1.5" fill="#e82020" stroke="none" stroke-width="1" />
<circle cx="634.9" cy="392.8" r="1.5" fill="#e82020" stroke="none" stroke-width="1" />
<circle cx="626.3" cy="375.1" r="3.0" fill="url(#gPinkS)"/>
<circle cx="630.5" cy="389.6" r="3.0" fill="url(#gPinkS)"/>
<line x1="621.8" y1="370.8" x2="618.7" y2="370.8" stroke="#0a1af0" stroke-width="1.5" />
<path d="M618.7,368.7 L618.7,372.9 L615.5,370.8 Z" fill="#0a1af0"/>
<line x1="634.7" y1="370.8" x2="631.7" y2="370.8" stroke="#0a1af0" stroke-width="1.5" />
<path d="M631.7,368.7 L631.7,372.9 L628.5,370.8 Z" fill="#0a1af0"/>
<line x1="626.3" y1="375.1" x2="623.2" y2="375.1" stroke="#0a1af0" stroke-width="1.5" />
<path d="M623.2,373 L623.2,377.2 L620,375.1 Z" fill="#0a1af0"/>
<line x1="625.5" y1="381" x2="624.2" y2="381" stroke="#0a1af0" stroke-width="1.5" />
<path d="M624.2,378.9 L624.2,383.1 L621,381 Z" fill="#0a1af0"/>
<line x1="630.2" y1="379.1" x2="630.2" y2="382.1" stroke="#0a1af0" stroke-width="1.5" />
<path d="M628.1,382.1 L632.3,382.1 L630.2,385.3 Z" fill="#0a1af0"/>
<path d="M634.7,399.9 L634.7,414.4 L621.5,421.5 L621.5,407Z" fill="none" stroke="#c8ccf0" stroke-width="0.7"/>
<line x1="630.2" y1="407" x2="634.7" y2="399.9" stroke="#e05050" stroke-width="1.1" />
<line x1="630.2" y1="407" x2="621.5" y2="407" stroke="#e05050" stroke-width="1.1" />
<line x1="626" y1="414.1" x2="621.5" y2="407" stroke="#e05050" stroke-width="1.1" />
<line x1="626" y1="414.1" x2="621.5" y2="421.5" stroke="#e05050" stroke-width="1.1" />
<line x1="626" y1="414.1" x2="634.7" y2="414.4" stroke="#e05050" stroke-width="1.1" />
<line x1="630.2" y1="407" x2="634.7" y2="414.4" stroke="#e05050" stroke-width="1.1" />
<line x1="630.2" y1="407" x2="626" y2="414.1" stroke="#b8a8d8" stroke-width="1.0" />
<circle cx="634.7" cy="399.9" r="1.5" fill="#e82020" stroke="none" stroke-width="1" />
<circle cx="621.5" cy="407" r="1.5" fill="#e82020" stroke="none" stroke-width="1" />
<circle cx="634.7" cy="414.4" r="1.5" fill="#e82020" stroke="none" stroke-width="1" />
<circle cx="621.5" cy="421.5" r="1.5" fill="#e82020" stroke="none" stroke-width="1" />
<circle cx="630.2" cy="407" r="3.1" fill="url(#gPinkS)"/>
<circle cx="626" cy="414.1" r="3.1" fill="url(#gPinkS)"/>
<line x1="646.3" y1="375.1" x2="650.5" y2="389.6" stroke="#b8a8d8" stroke-width="1.0" />
<line x1="646.3" y1="375.1" x2="641.8" y2="370.8" stroke="#e05050" stroke-width="1.0" />
<line x1="646.3" y1="375.1" x2="654.7" y2="370.8" stroke="#e05050" stroke-width="1.0" />
<line x1="650.5" y1="389.6" x2="641.8" y2="392.8" stroke="#e05050" stroke-width="1.0" />
<line x1="650.5" y1="389.6" x2="654.9" y2="392.8" stroke="#e05050" stroke-width="1.0" />
<circle cx="641.8" cy="370.8" r="1.5" fill="#e82020" stroke="none" stroke-width="1" />
<circle cx="654.7" cy="370.8" r="1.5" fill="#e82020" stroke="none" stroke-width="1" />
<circle cx="641.8" cy="392.8" r="1.5" fill="#e82020" stroke="none" stroke-width="1" />
<circle cx="654.9" cy="392.8" r="1.5" fill="#e82020" stroke="none" stroke-width="1" />
<circle cx="646.3" cy="375.1" r="3.0" fill="url(#gPinkS)"/>
<circle cx="650.5" cy="389.6" r="3.0" fill="url(#gPinkS)"/>
<line x1="641.8" y1="370.8" x2="638.7" y2="370.8" stroke="#0a1af0" stroke-width="1.5" />
<path d="M638.7,368.7 L638.7,372.9 L635.5,370.8 Z" fill="#0a1af0"/>
<line x1="654.7" y1="370.8" x2="651.7" y2="370.8" stroke="#0a1af0" stroke-width="1.5" />
<path d="M651.7,368.7 L651.7,372.9 L648.5,370.8 Z" fill="#0a1af0"/>
<line x1="646.3" y1="375.1" x2="643.2" y2="375.1" stroke="#0a1af0" stroke-width="1.5" />
<path d="M643.2,373 L643.2,377.2 L640,375.1 Z" fill="#0a1af0"/>
<line x1="645.5" y1="381" x2="644.2" y2="381" stroke="#0a1af0" stroke-width="1.5" />
<path d="M644.2,378.9 L644.2,383.1 L641,381 Z" fill="#0a1af0"/>
<line x1="650.2" y1="379.1" x2="650.2" y2="382.1" stroke="#0a1af0" stroke-width="1.5" />
<path d="M648.1,382.1 L652.3,382.1 L650.2,385.3 Z" fill="#0a1af0"/>
<path d="M654.7,399.9 L654.7,414.4 L641.5,421.5 L641.5,407Z" fill="none" stroke="#c8ccf0" stroke-width="0.7"/>
<line x1="650.2" y1="407" x2="654.7" y2="399.9" stroke="#e05050" stroke-width="1.1" />
<line x1="650.2" y1="407" x2="641.5" y2="407" stroke="#e05050" stroke-width="1.1" />
<line x1="646" y1="414.1" x2="641.5" y2="407" stroke="#e05050" stroke-width="1.1" />
<line x1="646" y1="414.1" x2="641.5" y2="421.5" stroke="#e05050" stroke-width="1.1" />
<line x1="646" y1="414.1" x2="654.7" y2="414.4" stroke="#e05050" stroke-width="1.1" />
<line x1="650.2" y1="407" x2="654.7" y2="414.4" stroke="#e05050" stroke-width="1.1" />
<line x1="650.2" y1="407" x2="646" y2="414.1" stroke="#b8a8d8" stroke-width="1.0" />
<circle cx="654.7" cy="399.9" r="1.5" fill="#e82020" stroke="none" stroke-width="1" />
<circle cx="641.5" cy="407" r="1.5" fill="#e82020" stroke="none" stroke-width="1" />
<circle cx="654.7" cy="414.4" r="1.5" fill="#e82020" stroke="none" stroke-width="1" />
<circle cx="641.5" cy="421.5" r="1.5" fill="#e82020" stroke="none" stroke-width="1" />
<circle cx="650.2" cy="407" r="3.1" fill="url(#gPinkS)"/>
<circle cx="646" cy="414.1" r="3.1" fill="url(#gPinkS)"/>
<line x1="663.7" y1="375.1" x2="667.9" y2="389.6" stroke="#b8a8d8" stroke-width="1.0" />
<line x1="663.7" y1="375.1" x2="659.2" y2="370.8" stroke="#e05050" stroke-width="1.0" />
<line x1="663.7" y1="375.1" x2="672.1" y2="370.8" stroke="#e05050" stroke-width="1.0" />
<line x1="667.9" y1="389.6" x2="659.2" y2="392.8" stroke="#e05050" stroke-width="1.0" />
<line x1="667.9" y1="389.6" x2="672.3" y2="392.8" stroke="#e05050" stroke-width="1.0" />
<circle cx="659.2" cy="370.8" r="1.5" fill="#e82020" stroke="none" stroke-width="1" />
<circle cx="672.1" cy="370.8" r="1.5" fill="#e82020" stroke="none" stroke-width="1" />
<circle cx="659.2" cy="392.8" r="1.5" fill="#e82020" stroke="none" stroke-width="1" />
<circle cx="672.3" cy="392.8" r="1.5" fill="#e82020" stroke="none" stroke-width="1" />
<circle cx="663.7" cy="375.1" r="3.0" fill="url(#gPinkS)"/>
<circle cx="667.9" cy="389.6" r="3.0" fill="url(#gPinkS)"/>
<line x1="659.2" y1="370.8" x2="656.1" y2="370.8" stroke="#0a1af0" stroke-width="1.5" />
<path d="M656.1,368.7 L656.1,372.9 L652.9,370.8 Z" fill="#0a1af0"/>
<line x1="672.1" y1="370.8" x2="669.1" y2="370.8" stroke="#0a1af0" stroke-width="1.5" />
<path d="M669.1,368.7 L669.1,372.9 L665.9,370.8 Z" fill="#0a1af0"/>
<line x1="663.7" y1="375.1" x2="660.6" y2="375.1" stroke="#0a1af0" stroke-width="1.5" />
<path d="M660.6,373 L660.6,377.2 L657.4,375.1 Z" fill="#0a1af0"/>
<line x1="662.9" y1="381" x2="661.6" y2="381" stroke="#0a1af0" stroke-width="1.5" />
<path d="M661.6,378.9 L661.6,383.1 L658.4,381 Z" fill="#0a1af0"/>
<line x1="667.6" y1="379.1" x2="667.6" y2="382.1" stroke="#0a1af0" stroke-width="1.5" />
<path d="M665.5,382.1 L669.7,382.1 L667.6,385.3 Z" fill="#0a1af0"/>
<path d="M672.1,399.9 L672.1,414.4 L658.9,421.5 L658.9,407Z" fill="none" stroke="#c8ccf0" stroke-width="0.7"/>
<line x1="667.6" y1="407" x2="672.1" y2="399.9" stroke="#e05050" stroke-width="1.1" />
<line x1="667.6" y1="407" x2="658.9" y2="407" stroke="#e05050" stroke-width="1.1" />
<line x1="663.4" y1="414.1" x2="658.9" y2="407" stroke="#e05050" stroke-width="1.1" />
<line x1="663.4" y1="414.1" x2="658.9" y2="421.5" stroke="#e05050" stroke-width="1.1" />
<line x1="663.4" y1="414.1" x2="672.1" y2="414.4" stroke="#e05050" stroke-width="1.1" />
<line x1="667.6" y1="407" x2="672.1" y2="414.4" stroke="#e05050" stroke-width="1.1" />
<line x1="667.6" y1="407" x2="663.4" y2="414.1" stroke="#b8a8d8" stroke-width="1.0" />
<circle cx="672.1" cy="399.9" r="1.5" fill="#e82020" stroke="none" stroke-width="1" />
<circle cx="658.9" cy="407" r="1.5" fill="#e82020" stroke="none" stroke-width="1" />
<circle cx="672.1" cy="414.4" r="1.5" fill="#e82020" stroke="none" stroke-width="1" />
<circle cx="658.9" cy="421.5" r="1.5" fill="#e82020" stroke="none" stroke-width="1" />
<circle cx="667.6" cy="407" r="3.1" fill="url(#gPinkS)"/>
<circle cx="663.4" cy="414.1" r="3.1" fill="url(#gPinkS)"/>
<line x1="435.8" y1="355.95" x2="683.5" y2="355.95" stroke="#333" stroke-width="1.2" stroke-dasharray="3.1 3.3"/>
<path d="M456.6,355.95 L457.12,355.97 L457.64,355.99 L458.15,356.01 L458.67,356.02 L459.19,356.03 L459.71,356.03 L460.23,356.03 L460.74,356.02 L461.26,356.01 L461.78,355.99 L462.3,355.97 L462.82,355.93 L463.33,355.89 L463.85,355.85 L464.37,355.79 L464.89,355.73 L465.41,355.66 L465.92,355.58 L466.44,355.5 L466.96,355.4 L467.48,355.29 L468,355.18 L468.52,355.05 L469.03,354.92 L469.55,354.77 L470.07,354.62 L470.59,354.45 L471.11,354.27 L471.62,354.08 L472.14,353.88 L472.66,353.66 L473.18,353.43 L473.7,353.19 L474.21,352.94 L474.73,352.67 L475.25,352.39 L475.77,352.1 L476.29,351.79 L476.8,351.46 L477.32,351.12 L477.84,350.77 L478.36,350.41 L478.88,350.05 L479.39,349.68 L479.91,349.3 L480.43,348.91 L480.95,348.52 L481.47,348.13 L481.98,347.73 L482.5,347.32 L483.02,346.91 L483.54,346.5 L484.06,346.08 L484.57,345.66 L485.09,345.23 L485.61,344.8 L486.13,344.37 L486.65,343.94 L487.16,343.51 L487.68,343.07 L488.2,342.64 L488.72,342.2 L489.24,341.77 L489.75,341.33 L490.27,340.89 L490.79,340.46 L491.31,340.02 L491.83,339.59 L492.35,339.16 L492.86,338.73 L493.38,338.31 L493.9,337.88 L494.42,337.46 L494.94,337.05 L495.45,336.64 L495.97,336.23 L496.49,335.82 L497.01,335.43 L497.53,335.03 L498.04,334.64 L498.56,334.26 L499.08,333.87 L499.6,333.49 L500.12,333.11 L500.63,332.73 L501.15,332.35 L501.67,331.97 L502.19,331.59 L502.71,331.22 L503.22,330.85 L503.74,330.48 L504.26,330.11 L504.78,329.75 L505.3,329.39 L505.81,329.03 L506.33,328.68 L506.85,328.32 L507.37,327.98 L507.89,327.63 L508.4,327.29 L508.92,326.96 L509.44,326.63 L509.96,326.3 L510.48,325.98 L510.99,325.67 L511.51,325.36 L512.03,325.05 L512.55,324.75 L513.07,324.46 L513.58,324.17 L514.1,323.88 L514.62,323.61 L515.14,323.34 L515.66,323.07 L516.18,322.82 L516.69,322.57 L517.21,322.33 L517.73,322.09 L518.25,321.86 L518.77,321.65 L519.28,321.47 L519.8,321.34 L520.32,321.25 L520.84,321.21 L521.36,321.21 L521.87,321.25 L522.39,321.34 L522.91,321.45 L523.43,321.61 L523.95,321.8 L524.46,322.02 L524.98,322.28 L525.5,322.56 L526.02,322.88 L526.54,323.22 L527.05,323.58 L527.57,323.97 L528.09,324.38 L528.61,324.81 L529.13,325.25 L529.64,325.72 L530.16,326.2 L530.68,326.69 L531.2,327.2 L531.72,327.71 L532.23,328.24 L532.75,328.77 L533.27,329.31 L533.79,329.85 L534.31,330.39 L534.82,330.93 L535.34,331.48 L535.86,332.02 L536.38,332.55 L536.9,333.09 L537.42,333.61 L537.93,334.12 L538.45,334.63 L538.97,335.12 L539.49,335.6 L540.01,336.14 L540.52,336.74 L541.04,337.4 L541.56,338.12 L542.08,338.89 L542.6,339.71 L543.11,340.58 L543.63,341.48 L544.15,342.42 L544.67,343.39 L545.19,344.39 L545.7,345.41 L546.22,346.45 L546.74,347.5 L547.26,348.57 L547.78,349.65 L548.29,350.72 L548.81,351.8 L549.33,352.87 L549.85,353.93 L550.37,354.98 L550.88,356.01 L551.4,357.02 L551.92,358.01 L552.44,358.96 L552.96,359.88 L553.47,360.76 L553.99,361.6 L554.51,362.39 L555.03,363.14 L555.55,363.83 L556.06,364.46 L556.58,365.03 L557.1,365.53 L557.62,365.96 L558.14,366.31 L558.65,366.59 L559.17,366.78 L559.69,366.89 L560.21,366.9 L560.73,366.82 L561.25,366.65 L561.76,366.39 L562.28,366.05 L562.8,365.64 L563.32,365.15 L563.84,364.59 L564.35,363.96 L564.87,363.27 L565.39,362.53 L565.91,361.73 L566.43,360.89 L566.94,360 L567.46,359.08 L567.98,358.12 L568.5,357.12 L569.02,356.1 L569.53,355.06 L570.05,354 L570.57,352.93 L571.09,351.84 L571.61,350.76 L572.12,349.67 L572.64,348.58 L573.16,347.5 L573.68,346.44 L574.2,345.39 L574.71,344.36 L575.23,343.35 L575.75,342.37 L576.27,341.43 L576.79,340.52 L577.3,339.66 L577.82,338.84 L578.34,338.08 L578.86,337.36 L579.38,336.71 L579.89,336.12 L580.41,335.6 L580.93,335.13 L581.45,334.66 L581.97,334.17 L582.48,333.68 L583,333.18 L583.52,332.68 L584.04,332.17 L584.56,331.66 L585.08,331.14 L585.59,330.63 L586.11,330.12 L586.63,329.6 L587.15,329.1 L587.67,328.6 L588.18,328.1 L588.7,327.62 L589.22,327.15 L589.74,326.68 L590.26,326.23 L590.77,325.8 L591.29,325.37 L591.81,324.97 L592.33,324.59 L592.85,324.22 L593.36,323.88 L593.88,323.56 L594.4,323.27 L594.92,323 L595.44,322.76 L595.95,322.55 L596.47,322.36 L596.99,322.21 L597.51,322.1 L598.03,322.02 L598.54,321.97 L599.06,321.96 L599.58,321.99 L600.1,322.07 L600.62,322.18 L601.13,322.34 L601.65,322.53 L602.17,322.74 L602.69,322.95 L603.21,323.16 L603.72,323.39 L604.24,323.62 L604.76,323.86 L605.28,324.11 L605.8,324.36 L606.32,324.62 L606.83,324.89 L607.35,325.16 L607.87,325.44 L608.39,325.73 L608.91,326.02 L609.42,326.31 L609.94,326.62 L610.46,326.92 L610.98,327.23 L611.5,327.55 L612.01,327.87 L612.53,328.2 L613.05,328.53 L613.57,328.86 L614.09,329.2 L614.6,329.54 L615.12,329.89 L615.64,330.24 L616.16,330.59 L616.68,330.95 L617.19,331.31 L617.71,331.67 L618.23,332.03 L618.75,332.4 L619.27,332.77 L619.78,333.14 L620.3,333.51 L620.82,333.89 L621.34,334.27 L621.86,334.65 L622.37,335.03 L622.89,335.42 L623.41,335.81 L623.93,336.21 L624.45,336.62 L624.96,337.03 L625.48,337.44 L626,337.86 L626.52,338.29 L627.04,338.72 L627.55,339.15 L628.07,339.58 L628.59,340.01 L629.11,340.45 L629.63,340.89 L630.15,341.33 L630.66,341.77 L631.18,342.21 L631.7,342.65 L632.22,343.09 L632.74,343.53 L633.25,343.97 L633.77,344.4 L634.29,344.84 L634.81,345.27 L635.33,345.69 L635.84,346.12 L636.36,346.54 L636.88,346.95 L637.4,347.36 L637.92,347.77 L638.43,348.17 L638.95,348.56 L639.47,348.95 L639.99,349.33 L640.51,349.71 L641.02,350.07 L641.54,350.43 L642.06,350.78 L642.58,351.12 L643.1,351.45 L643.61,351.77 L644.13,352.07 L644.65,352.36 L645.17,352.64 L645.69,352.9 L646.2,353.15 L646.72,353.38 L647.24,353.61 L647.76,353.82 L648.28,354.02 L648.79,354.21 L649.31,354.39 L649.83,354.56 L650.35,354.72 L650.87,354.86 L651.38,355 L651.9,355.13 L652.42,355.24 L652.94,355.35 L653.46,355.45 L653.98,355.54 L654.49,355.62 L655.01,355.69 L655.53,355.76 L656.05,355.82 L656.57,355.87 L657.08,355.91 L657.6,355.94 L658.12,355.97 L658.64,356 L659.16,356.01 L659.67,356.02 L660.19,356.03 L660.71,356.03 L661.23,356.02 L661.75,356.01 L662.26,355.99 L662.78,355.97 L663.3,355.95" fill="none" stroke="#2e8b2e" stroke-width="1.7" stroke-linejoin="round" stroke-linecap="round" />
<path d="M456.6,355.95 L457.12,356.02 L457.64,356.08 L458.15,356.13 L458.67,356.18 L459.19,356.22 L459.71,356.26 L460.23,356.29 L460.74,356.31 L461.26,356.32 L461.78,356.33 L462.3,356.33 L462.82,356.31 L463.33,356.29 L463.85,356.26 L464.37,356.23 L464.89,356.18 L465.41,356.12 L465.92,356.05 L466.44,355.96 L466.96,355.87 L467.48,355.77 L468,355.65 L468.52,355.52 L469.03,355.38 L469.55,355.22 L470.07,355.06 L470.59,354.87 L471.11,354.68 L471.62,354.47 L472.14,354.24 L472.66,354 L473.18,353.75 L473.7,353.48 L474.21,353.19 L474.73,352.89 L475.25,352.57 L475.77,352.23 L476.29,351.88 L476.8,351.51 L477.32,351.12 L477.84,350.71 L478.36,350.29 L478.88,349.87 L479.39,349.43 L479.91,348.98 L480.43,348.52 L480.95,348.05 L481.47,347.57 L481.98,347.08 L482.5,346.59 L483.02,346.08 L483.54,345.58 L484.06,345.06 L484.57,344.54 L485.09,344.02 L485.61,343.49 L486.13,342.96 L486.65,342.43 L487.16,341.9 L487.68,341.36 L488.2,340.82 L488.72,340.28 L489.24,339.74 L489.75,339.21 L490.27,338.67 L490.79,338.14 L491.31,337.61 L491.83,337.08 L492.35,336.55 L492.86,336.03 L493.38,335.52 L493.9,335.01 L494.42,334.51 L494.94,334.01 L495.45,333.52 L495.97,333.04 L496.49,332.57 L497.01,332.11 L497.53,331.65 L498.04,331.21 L498.56,330.77 L499.08,330.33 L499.6,329.89 L500.12,329.45 L500.63,329.01 L501.15,328.57 L501.67,328.13 L502.19,327.69 L502.71,327.26 L503.22,326.83 L503.74,326.4 L504.26,325.97 L504.78,325.55 L505.3,325.13 L505.81,324.72 L506.33,324.31 L506.85,323.9 L507.37,323.5 L507.89,323.11 L508.4,322.72 L508.92,322.34 L509.44,321.97 L509.96,321.6 L510.48,321.24 L510.99,320.89 L511.51,320.55 L512.03,320.22 L512.55,319.89 L513.07,319.58 L513.58,319.28 L514.1,318.98 L514.62,318.7 L515.14,318.43 L515.66,318.17 L516.18,317.92 L516.69,317.68 L517.21,317.46 L517.73,317.24 L518.25,317.05 L518.77,316.86 L519.28,316.7 L519.8,316.57 L520.32,316.47 L520.84,316.39 L521.36,316.33 L521.87,316.3 L522.39,316.3 L522.91,316.31 L523.43,316.35 L523.95,316.4 L524.46,316.48 L524.98,316.57 L525.5,316.69 L526.02,316.81 L526.54,316.96 L527.05,317.12 L527.57,317.29 L528.09,317.48 L528.61,317.68 L529.13,317.89 L529.64,318.11 L530.16,318.35 L530.68,318.59 L531.2,318.83 L531.72,319.09 L532.23,319.35 L532.75,319.62 L533.27,319.89 L533.79,320.17 L534.31,320.45 L534.82,320.73 L535.34,321.01 L535.86,321.29 L536.38,321.57 L536.9,321.85 L537.42,322.12 L537.93,322.39 L538.45,322.66 L538.97,322.92 L539.49,323.19 L540.01,323.47 L540.52,323.8 L541.04,324.16 L541.56,324.55 L542.08,324.96 L542.6,325.41 L543.11,325.87 L543.63,326.36 L544.15,326.87 L544.67,327.39 L545.19,327.93 L545.7,328.48 L546.22,329.04 L546.74,329.61 L547.26,330.18 L547.78,330.76 L548.29,331.33 L548.81,331.91 L549.33,332.48 L549.85,333.05 L550.37,333.6 L550.88,334.15 L551.4,334.68 L551.92,335.2 L552.44,335.7 L552.96,336.18 L553.47,336.63 L553.99,337.06 L554.51,337.47 L555.03,337.84 L555.55,338.19 L556.06,338.5 L556.58,338.77 L557.1,339.01 L557.62,339.2 L558.14,339.36 L558.65,339.46 L559.17,339.52 L559.69,339.53 L560.21,339.49 L560.73,339.41 L561.25,339.29 L561.76,339.14 L562.28,338.95 L562.8,338.73 L563.32,338.48 L563.84,338.21 L564.35,337.91 L564.87,337.58 L565.39,337.23 L565.91,336.86 L566.43,336.46 L566.94,336.06 L567.46,335.63 L567.98,335.19 L568.5,334.73 L569.02,334.27 L569.53,333.79 L570.05,333.31 L570.57,332.82 L571.09,332.33 L571.61,331.83 L572.12,331.33 L572.64,330.84 L573.16,330.34 L573.68,329.85 L574.2,329.36 L574.71,328.88 L575.23,328.41 L575.75,327.95 L576.27,327.5 L576.79,327.07 L577.3,326.65 L577.82,326.25 L578.34,325.87 L578.86,325.5 L579.38,325.16 L579.89,324.85 L580.41,324.56 L580.93,324.29 L581.45,324.01 L581.97,323.73 L582.48,323.44 L583,323.15 L583.52,322.86 L584.04,322.56 L584.56,322.26 L585.08,321.95 L585.59,321.65 L586.11,321.35 L586.63,321.05 L587.15,320.75 L587.67,320.45 L588.18,320.16 L588.7,319.87 L589.22,319.59 L589.74,319.32 L590.26,319.06 L590.77,318.8 L591.29,318.55 L591.81,318.31 L592.33,318.09 L592.85,317.88 L593.36,317.68 L593.88,317.49 L594.4,317.32 L594.92,317.16 L595.44,317.03 L595.95,316.91 L596.47,316.8 L596.99,316.72 L597.51,316.66 L598.03,316.62 L598.54,316.6 L599.06,316.61 L599.58,316.64 L600.1,316.69 L600.62,316.77 L601.13,316.88 L601.65,317.01 L602.17,317.16 L602.69,317.33 L603.21,317.52 L603.72,317.72 L604.24,317.95 L604.76,318.18 L605.28,318.43 L605.8,318.7 L606.32,318.98 L606.83,319.28 L607.35,319.58 L607.87,319.9 L608.39,320.24 L608.91,320.58 L609.42,320.93 L609.94,321.3 L610.46,321.67 L610.98,322.06 L611.5,322.45 L612.01,322.85 L612.53,323.26 L613.05,323.67 L613.57,324.09 L614.09,324.52 L614.6,324.95 L615.12,325.38 L615.64,325.82 L616.16,326.27 L616.68,326.71 L617.19,327.16 L617.71,327.61 L618.23,328.06 L618.75,328.51 L619.27,328.97 L619.78,329.42 L620.3,329.87 L620.82,330.32 L621.34,330.76 L621.86,331.21 L622.37,331.65 L622.89,332.11 L623.41,332.57 L623.93,333.05 L624.45,333.53 L624.96,334.02 L625.48,334.52 L626,335.02 L626.52,335.53 L627.04,336.05 L627.55,336.57 L628.07,337.09 L628.59,337.62 L629.11,338.15 L629.63,338.68 L630.15,339.22 L630.66,339.76 L631.18,340.29 L631.7,340.83 L632.22,341.37 L632.74,341.91 L633.25,342.44 L633.77,342.97 L634.29,343.5 L634.81,344.03 L635.33,344.55 L635.84,345.07 L636.36,345.58 L636.88,346.09 L637.4,346.59 L637.92,347.08 L638.43,347.57 L638.95,348.05 L639.47,348.52 L639.99,348.98 L640.51,349.43 L641.02,349.87 L641.54,350.3 L642.06,350.71 L642.58,351.12 L643.1,351.51 L643.61,351.88 L644.13,352.23 L644.65,352.57 L645.17,352.89 L645.69,353.19 L646.2,353.48 L646.72,353.75 L647.24,354 L647.76,354.24 L648.28,354.47 L648.79,354.68 L649.31,354.87 L649.83,355.06 L650.35,355.22 L650.87,355.38 L651.38,355.52 L651.9,355.65 L652.42,355.77 L652.94,355.87 L653.46,355.96 L653.98,356.05 L654.49,356.12 L655.01,356.18 L655.53,356.23 L656.05,356.26 L656.57,356.29 L657.08,356.31 L657.6,356.33 L658.12,356.33 L658.64,356.32 L659.16,356.31 L659.67,356.29 L660.19,356.26 L660.71,356.22 L661.23,356.18 L661.75,356.13 L662.26,356.08 L662.78,356.02 L663.3,355.95" fill="none" stroke="#29a3ff" stroke-width="1.7" stroke-linejoin="round" stroke-linecap="round" />
<path d="M456.6,355.95 L457.12,356.02 L457.64,356.09 L458.15,356.15 L458.67,356.21 L459.19,356.25 L459.71,356.29 L460.23,356.32 L460.74,356.34 L461.26,356.35 L461.78,356.36 L462.3,356.35 L462.82,356.33 L463.33,356.31 L463.85,356.27 L464.37,356.22 L464.89,356.16 L465.41,356.09 L465.92,356.01 L466.44,355.91 L466.96,355.8 L467.48,355.68 L468,355.55 L468.52,355.4 L469.03,355.24 L469.55,355.06 L470.07,354.87 L470.59,354.66 L471.11,354.44 L471.62,354.2 L472.14,353.94 L472.66,353.67 L473.18,353.38 L473.7,353.08 L474.21,352.75 L474.73,352.41 L475.25,352.05 L475.77,351.68 L476.29,351.28 L476.8,350.86 L477.32,350.43 L477.84,349.97 L478.36,349.5 L478.88,349.02 L479.39,348.52 L479.91,348.01 L480.43,347.49 L480.95,346.96 L481.47,346.41 L481.98,345.86 L482.5,345.29 L483.02,344.72 L483.54,344.14 L484.06,343.55 L484.57,342.95 L485.09,342.35 L485.61,341.75 L486.13,341.14 L486.65,340.53 L487.16,339.91 L487.68,339.29 L488.2,338.68 L488.72,338.06 L489.24,337.44 L489.75,336.83 L490.27,336.21 L490.79,335.6 L491.31,335 L491.83,334.39 L492.35,333.79 L492.86,333.2 L493.38,332.62 L493.9,332.04 L494.42,331.47 L494.94,330.91 L495.45,330.36 L495.97,329.82 L496.49,329.29 L497.01,328.77 L497.53,328.27 L498.04,327.78 L498.56,327.29 L499.08,326.8 L499.6,326.31 L500.12,325.82 L500.63,325.33 L501.15,324.84 L501.67,324.35 L502.19,323.87 L502.71,323.39 L503.22,322.91 L503.74,322.43 L504.26,321.95 L504.78,321.49 L505.3,321.02 L505.81,320.56 L506.33,320.11 L506.85,319.66 L507.37,319.22 L507.89,318.78 L508.4,318.35 L508.92,317.93 L509.44,317.52 L509.96,317.12 L510.48,316.73 L510.99,316.34 L511.51,315.97 L512.03,315.6 L512.55,315.25 L513.07,314.91 L513.58,314.58 L514.1,314.27 L514.62,313.97 L515.14,313.68 L515.66,313.4 L516.18,313.14 L516.69,312.9 L517.21,312.67 L517.73,312.45 L518.25,312.25 L518.77,312.07 L519.28,311.92 L519.8,311.8 L520.32,311.72 L520.84,311.67 L521.36,311.64 L521.87,311.64 L522.39,311.67 L522.91,311.72 L523.43,311.8 L523.95,311.89 L524.46,312.01 L524.98,312.14 L525.5,312.28 L526.02,312.45 L526.54,312.62 L527.05,312.8 L527.57,313 L528.09,313.2 L528.61,313.41 L529.13,313.62 L529.64,313.83 L530.16,314.05 L530.68,314.26 L531.2,314.47 L531.72,314.68 L532.23,314.88 L532.75,315.08 L533.27,315.26 L533.79,315.44 L534.31,315.6 L534.82,315.75 L535.34,315.89 L535.86,316 L536.38,316.1 L536.9,316.18 L537.42,316.24 L537.93,316.27 L538.45,316.28 L538.97,316.26 L539.49,316.21 L540.01,316.15 L540.52,316.07 L541.04,315.99 L541.56,315.89 L542.08,315.79 L542.6,315.67 L543.11,315.55 L543.63,315.42 L544.15,315.28 L544.67,315.13 L545.19,314.98 L545.7,314.83 L546.22,314.67 L546.74,314.51 L547.26,314.34 L547.78,314.17 L548.29,314.01 L548.81,313.84 L549.33,313.67 L549.85,313.5 L550.37,313.34 L550.88,313.17 L551.4,313.01 L551.92,312.85 L552.44,312.7 L552.96,312.55 L553.47,312.41 L553.99,312.28 L554.51,312.15 L555.03,312.03 L555.55,311.92 L556.06,311.82 L556.58,311.73 L557.1,311.65 L557.62,311.58 L558.14,311.53 L558.65,311.48 L559.17,311.45 L559.69,311.44 L560.21,311.44 L560.73,311.45 L561.25,311.48 L561.76,311.52 L562.28,311.57 L562.8,311.63 L563.32,311.69 L563.84,311.77 L564.35,311.86 L564.87,311.96 L565.39,312.06 L565.91,312.17 L566.43,312.28 L566.94,312.4 L567.46,312.53 L567.98,312.66 L568.5,312.8 L569.02,312.93 L569.53,313.07 L570.05,313.22 L570.57,313.36 L571.09,313.5 L571.61,313.65 L572.12,313.79 L572.64,313.94 L573.16,314.08 L573.68,314.22 L574.2,314.35 L574.71,314.48 L575.23,314.61 L575.75,314.73 L576.27,314.85 L576.79,314.96 L577.3,315.07 L577.82,315.17 L578.34,315.26 L578.86,315.34 L579.38,315.41 L579.89,315.48 L580.41,315.53 L580.93,315.57 L581.45,315.58 L581.97,315.58 L582.48,315.55 L583,315.5 L583.52,315.43 L584.04,315.34 L584.56,315.24 L585.08,315.13 L585.59,315 L586.11,314.85 L586.63,314.7 L587.15,314.54 L587.67,314.37 L588.18,314.2 L588.7,314.02 L589.22,313.84 L589.74,313.65 L590.26,313.47 L590.77,313.29 L591.29,313.11 L591.81,312.93 L592.33,312.76 L592.85,312.59 L593.36,312.44 L593.88,312.29 L594.4,312.16 L594.92,312.03 L595.44,311.93 L595.95,311.83 L596.47,311.76 L596.99,311.7 L597.51,311.66 L598.03,311.65 L598.54,311.65 L599.06,311.68 L599.58,311.74 L600.1,311.82 L600.62,311.93 L601.13,312.07 L601.65,312.24 L602.17,312.43 L602.69,312.64 L603.21,312.86 L603.72,313.1 L604.24,313.35 L604.76,313.62 L605.28,313.91 L605.8,314.21 L606.32,314.52 L606.83,314.84 L607.35,315.18 L607.87,315.54 L608.39,315.9 L608.91,316.27 L609.42,316.66 L609.94,317.05 L610.46,317.46 L610.98,317.87 L611.5,318.3 L612.01,318.73 L612.53,319.17 L613.05,319.61 L613.57,320.07 L614.09,320.52 L614.6,320.99 L615.12,321.46 L615.64,321.93 L616.16,322.41 L616.68,322.89 L617.19,323.37 L617.71,323.86 L618.23,324.35 L618.75,324.84 L619.27,325.33 L619.78,325.82 L620.3,326.31 L620.82,326.8 L621.34,327.29 L621.86,327.78 L622.37,328.27 L622.89,328.77 L623.41,329.29 L623.93,329.81 L624.45,330.35 L624.96,330.9 L625.48,331.46 L626,332.03 L626.52,332.61 L627.04,333.19 L627.55,333.79 L628.07,334.38 L628.59,334.99 L629.11,335.59 L629.63,336.2 L630.15,336.82 L630.66,337.43 L631.18,338.05 L631.7,338.67 L632.22,339.29 L632.74,339.9 L633.25,340.52 L633.77,341.13 L634.29,341.74 L634.81,342.35 L635.33,342.95 L635.84,343.54 L636.36,344.13 L636.88,344.71 L637.4,345.29 L637.92,345.85 L638.43,346.41 L638.95,346.95 L639.47,347.49 L639.99,348.01 L640.51,348.52 L641.02,349.02 L641.54,349.5 L642.06,349.97 L642.58,350.43 L643.1,350.86 L643.61,351.28 L644.13,351.68 L644.65,352.05 L645.17,352.41 L645.69,352.75 L646.2,353.08 L646.72,353.38 L647.24,353.67 L647.76,353.94 L648.28,354.2 L648.79,354.44 L649.31,354.66 L649.83,354.87 L650.35,355.06 L650.87,355.24 L651.38,355.4 L651.9,355.55 L652.42,355.68 L652.94,355.8 L653.46,355.91 L653.98,356.01 L654.49,356.09 L655.01,356.16 L655.53,356.22 L656.05,356.27 L656.57,356.31 L657.08,356.33 L657.6,356.35 L658.12,356.36 L658.64,356.35 L659.16,356.34 L659.67,356.32 L660.19,356.29 L660.71,356.25 L661.23,356.21 L661.75,356.15 L662.26,356.09 L662.78,356.02 L663.3,355.95" fill="none" stroke="#22229a" stroke-width="1.7" stroke-linejoin="round" stroke-linecap="round" />
<path d="M456.6,355.95 L457.12,356 L457.64,356.05 L458.15,356.09 L458.67,356.14 L459.19,356.18 L459.71,356.21 L460.23,356.24 L460.74,356.26 L461.26,356.28 L461.78,356.29 L462.3,356.29 L462.82,356.28 L463.33,356.27 L463.85,356.25 L464.37,356.21 L464.89,356.17 L465.41,356.11 L465.92,356.04 L466.44,355.97 L466.96,355.87 L467.48,355.77 L468,355.65 L468.52,355.51 L469.03,355.37 L469.55,355.2 L470.07,355.02 L470.59,354.82 L471.11,354.6 L471.62,354.37 L472.14,354.12 L472.66,353.84 L473.18,353.55 L473.7,353.24 L474.21,352.9 L474.73,352.55 L475.25,352.17 L475.77,351.77 L476.29,351.35 L476.8,350.9 L477.32,350.42 L477.84,349.94 L478.36,349.45 L478.88,348.95 L479.39,348.46 L479.91,347.96 L480.43,347.45 L480.95,346.95 L481.47,346.44 L481.98,345.93 L482.5,345.42 L483.02,344.9 L483.54,344.38 L484.06,343.86 L484.57,343.34 L485.09,342.82 L485.61,342.3 L486.13,341.77 L486.65,341.25 L487.16,340.72 L487.68,340.19 L488.2,339.66 L488.72,339.14 L489.24,338.61 L489.75,338.08 L490.27,337.56 L490.79,337.03 L491.31,336.5 L491.83,335.98 L492.35,335.46 L492.86,334.93 L493.38,334.41 L493.9,333.9 L494.42,333.38 L494.94,332.86 L495.45,332.35 L495.97,331.84 L496.49,331.33 L497.01,330.83 L497.53,330.33 L498.04,329.83 L498.56,329.33 L499.08,328.83 L499.6,328.34 L500.12,327.84 L500.63,327.35 L501.15,326.85 L501.67,326.36 L502.19,325.86 L502.71,325.37 L503.22,324.88 L503.74,324.39 L504.26,323.9 L504.78,323.41 L505.3,322.92 L505.81,322.43 L506.33,321.94 L506.85,321.46 L507.37,320.97 L507.89,320.49 L508.4,320 L508.92,319.52 L509.44,319.04 L509.96,318.56 L510.48,318.08 L510.99,317.61 L511.51,317.13 L512.03,316.66 L512.55,316.18 L513.07,315.71 L513.58,315.24 L514.1,314.77 L514.62,314.3 L515.14,313.84 L515.66,313.37 L516.18,312.91 L516.69,312.45 L517.21,311.99 L517.73,311.53 L518.25,311.07 L518.77,310.62 L519.28,310.2 L519.8,309.81 L520.32,309.47 L520.84,309.15 L521.36,308.88 L521.87,308.63 L522.39,308.41 L522.91,308.23 L523.43,308.07 L523.95,307.93 L524.46,307.81 L524.98,307.72 L525.5,307.65 L526.02,307.59 L526.54,307.55 L527.05,307.53 L527.57,307.51 L528.09,307.51 L528.61,307.52 L529.13,307.53 L529.64,307.55 L530.16,307.57 L530.68,307.59 L531.2,307.62 L531.72,307.64 L532.23,307.66 L532.75,307.67 L533.27,307.67 L533.79,307.67 L534.31,307.66 L534.82,307.63 L535.34,307.59 L535.86,307.54 L536.38,307.46 L536.9,307.37 L537.42,307.26 L537.93,307.12 L538.45,306.96 L538.97,306.77 L539.49,306.55 L540.01,306.28 L540.52,305.95 L541.04,305.56 L541.56,305.13 L542.08,304.64 L542.6,304.12 L543.11,303.55 L543.63,302.94 L544.15,302.3 L544.67,301.64 L545.19,300.94 L545.7,300.22 L546.22,299.48 L546.74,298.72 L547.26,297.95 L547.78,297.16 L548.29,296.38 L548.81,295.58 L549.33,294.79 L549.85,294 L550.37,293.22 L550.88,292.44 L551.4,291.68 L551.92,290.94 L552.44,290.22 L552.96,289.51 L553.47,288.84 L553.99,288.2 L554.51,287.59 L555.03,287.01 L555.55,286.48 L556.06,285.99 L556.58,285.55 L557.1,285.16 L557.62,284.82 L558.14,284.53 L558.65,284.31 L559.17,284.16 L559.69,284.07 L560.21,284.05 L560.73,284.1 L561.25,284.23 L561.76,284.42 L562.28,284.68 L562.8,285 L563.32,285.38 L563.84,285.81 L564.35,286.29 L564.87,286.82 L565.39,287.39 L565.91,288 L566.43,288.65 L566.94,289.33 L567.46,290.04 L567.98,290.77 L568.5,291.52 L569.02,292.29 L569.53,293.08 L570.05,293.88 L570.57,294.68 L571.09,295.49 L571.61,296.3 L572.12,297.1 L572.64,297.9 L573.16,298.69 L573.68,299.46 L574.2,300.21 L574.71,300.95 L575.23,301.65 L575.75,302.33 L576.27,302.98 L576.79,303.59 L577.3,304.16 L577.82,304.69 L578.34,305.17 L578.86,305.6 L579.38,305.98 L579.89,306.3 L580.41,306.56 L580.93,306.76 L581.45,306.93 L581.97,307.07 L582.48,307.18 L583,307.26 L583.52,307.33 L584.04,307.37 L584.56,307.39 L585.08,307.39 L585.59,307.38 L586.11,307.36 L586.63,307.32 L587.15,307.28 L587.67,307.22 L588.18,307.16 L588.7,307.1 L589.22,307.03 L589.74,306.96 L590.26,306.9 L590.77,306.83 L591.29,306.78 L591.81,306.73 L592.33,306.69 L592.85,306.66 L593.36,306.64 L593.88,306.64 L594.4,306.66 L594.92,306.69 L595.44,306.75 L595.95,306.82 L596.47,306.92 L596.99,307.05 L597.51,307.21 L598.03,307.39 L598.54,307.61 L599.06,307.87 L599.58,308.15 L600.1,308.48 L600.62,308.85 L601.13,309.25 L601.65,309.69 L602.17,310.14 L602.69,310.59 L603.21,311.04 L603.72,311.49 L604.24,311.94 L604.76,312.4 L605.28,312.86 L605.8,313.32 L606.32,313.78 L606.83,314.25 L607.35,314.72 L607.87,315.18 L608.39,315.66 L608.91,316.13 L609.42,316.6 L609.94,317.08 L610.46,317.56 L610.98,318.04 L611.5,318.52 L612.01,319.01 L612.53,319.49 L613.05,319.98 L613.57,320.47 L614.09,320.96 L614.6,321.45 L615.12,321.94 L615.64,322.44 L616.16,322.93 L616.68,323.43 L617.19,323.93 L617.71,324.43 L618.23,324.93 L618.75,325.43 L619.27,325.93 L619.78,326.43 L620.3,326.94 L620.82,327.44 L621.34,327.95 L621.86,328.46 L622.37,328.97 L622.89,329.48 L623.41,330 L623.93,330.52 L624.45,331.04 L624.96,331.57 L625.48,332.1 L626,332.64 L626.52,333.18 L627.04,333.72 L627.55,334.26 L628.07,334.8 L628.59,335.35 L629.11,335.9 L629.63,336.44 L630.15,336.99 L630.66,337.54 L631.18,338.09 L631.7,338.64 L632.22,339.19 L632.74,339.74 L633.25,340.29 L633.77,340.84 L634.29,341.38 L634.81,341.93 L635.33,342.47 L635.84,343.01 L636.36,343.55 L636.88,344.09 L637.4,344.62 L637.92,345.15 L638.43,345.68 L638.95,346.2 L639.47,346.72 L639.99,347.24 L640.51,347.75 L641.02,348.25 L641.54,348.75 L642.06,349.25 L642.58,349.74 L643.1,350.22 L643.61,350.67 L644.13,351.1 L644.65,351.51 L645.17,351.9 L645.69,352.26 L646.2,352.61 L646.72,352.93 L647.24,353.24 L647.76,353.52 L648.28,353.79 L648.79,354.04 L649.31,354.27 L649.83,354.49 L650.35,354.69 L650.87,354.87 L651.38,355.04 L651.9,355.2 L652.42,355.34 L652.94,355.46 L653.46,355.57 L653.98,355.67 L654.49,355.76 L655.01,355.84 L655.53,355.91 L656.05,355.96 L656.57,356.01 L657.08,356.04 L657.6,356.07 L658.12,356.09 L658.64,356.1 L659.16,356.11 L659.67,356.1 L660.19,356.1 L660.71,356.08 L661.23,356.06 L661.75,356.04 L662.26,356.01 L662.78,355.98 L663.3,355.95" fill="none" stroke="#8c2cff" stroke-width="1.7" stroke-linejoin="round" stroke-linecap="round" />
<path d="M456.6,355.95 L457.12,355.98 L457.64,356.02 L458.15,356.05 L458.67,356.08 L459.19,356.1 L459.71,356.13 L460.23,356.14 L460.74,356.16 L461.26,356.17 L461.78,356.17 L462.3,356.17 L462.82,356.15 L463.33,356.14 L463.85,356.11 L464.37,356.07 L464.89,356.03 L465.41,355.97 L465.92,355.9 L466.44,355.82 L466.96,355.73 L467.48,355.63 L468,355.51 L468.52,355.38 L469.03,355.24 L469.55,355.07 L470.07,354.9 L470.59,354.71 L471.11,354.5 L471.62,354.27 L472.14,354.02 L472.66,353.76 L473.18,353.47 L473.7,353.17 L474.21,352.84 L474.73,352.5 L475.25,352.13 L475.77,351.74 L476.29,351.32 L476.8,350.89 L477.32,350.42 L477.84,349.95 L478.36,349.48 L478.88,349 L479.39,348.53 L479.91,348.05 L480.43,347.57 L480.95,347.09 L481.47,346.61 L481.98,346.14 L482.5,345.65 L483.02,345.17 L483.54,344.69 L484.06,344.21 L484.57,343.73 L485.09,343.24 L485.61,342.76 L486.13,342.28 L486.65,341.79 L487.16,341.31 L487.68,340.83 L488.2,340.34 L488.72,339.86 L489.24,339.37 L489.75,338.89 L490.27,338.41 L490.79,337.92 L491.31,337.44 L491.83,336.96 L492.35,336.47 L492.86,335.99 L493.38,335.51 L493.9,335.03 L494.42,334.55 L494.94,334.07 L495.45,333.59 L495.97,333.11 L496.49,332.63 L497.01,332.15 L497.53,331.68 L498.04,331.2 L498.56,330.73 L499.08,330.25 L499.6,329.78 L500.12,329.3 L500.63,328.83 L501.15,328.36 L501.67,327.88 L502.19,327.41 L502.71,326.94 L503.22,326.46 L503.74,325.99 L504.26,325.52 L504.78,325.04 L505.3,324.57 L505.81,324.1 L506.33,323.63 L506.85,323.15 L507.37,322.68 L507.89,322.21 L508.4,321.74 L508.92,321.27 L509.44,320.8 L509.96,320.32 L510.48,319.85 L510.99,319.38 L511.51,318.91 L512.03,318.44 L512.55,317.97 L513.07,317.5 L513.58,317.03 L514.1,316.56 L514.62,316.09 L515.14,315.62 L515.66,315.15 L516.18,314.67 L516.69,314.2 L517.21,313.73 L517.73,313.26 L518.25,312.79 L518.77,312.33 L519.28,311.87 L519.8,311.44 L520.32,311.03 L520.84,310.63 L521.36,310.26 L521.87,309.9 L522.39,309.56 L522.91,309.23 L523.43,308.92 L523.95,308.62 L524.46,308.33 L524.98,308.05 L525.5,307.78 L526.02,307.53 L526.54,307.28 L527.05,307.04 L527.57,306.8 L528.09,306.57 L528.61,306.35 L529.13,306.13 L529.64,305.91 L530.16,305.69 L530.68,305.47 L531.2,305.26 L531.72,305.04 L532.23,304.82 L532.75,304.6 L533.27,304.38 L533.79,304.15 L534.31,303.91 L534.82,303.67 L535.34,303.42 L535.86,303.16 L536.38,302.89 L536.9,302.61 L537.42,302.32 L537.93,302.02 L538.45,301.7 L538.97,301.37 L539.49,301.02 L540.01,300.56 L540.52,299.97 L541.04,299.28 L541.56,298.48 L542.08,297.57 L542.6,296.58 L543.11,295.5 L543.63,294.34 L544.15,293.11 L544.67,291.82 L545.19,290.47 L545.7,289.06 L546.22,287.62 L546.74,286.13 L547.26,284.62 L547.78,283.09 L548.29,281.54 L548.81,279.98 L549.33,278.42 L549.85,276.86 L550.37,275.32 L550.88,273.8 L551.4,272.3 L551.92,270.84 L552.44,269.42 L552.96,268.04 L553.47,266.72 L553.99,265.46 L554.51,264.27 L555.03,263.16 L555.55,262.13 L556.06,261.19 L556.58,260.34 L557.1,259.6 L557.62,258.97 L558.14,258.45 L558.65,258.06 L559.17,257.81 L559.69,257.69 L560.21,257.71 L560.73,257.88 L561.25,258.18 L561.76,258.61 L562.28,259.17 L562.8,259.83 L563.32,260.61 L563.84,261.48 L564.35,262.45 L564.87,263.51 L565.39,264.64 L565.91,265.85 L566.43,267.13 L566.94,268.46 L567.46,269.85 L567.98,271.28 L568.5,272.76 L569.02,274.26 L569.53,275.79 L570.05,277.34 L570.57,278.9 L571.09,280.47 L571.61,282.03 L572.12,283.59 L572.64,285.13 L573.16,286.64 L573.68,288.13 L574.2,289.58 L574.71,290.99 L575.23,292.35 L575.75,293.65 L576.27,294.89 L576.79,296.06 L577.3,297.15 L577.82,298.16 L578.34,299.07 L578.86,299.89 L579.38,300.61 L579.89,301.21 L580.41,301.69 L580.93,302.07 L581.45,302.43 L581.97,302.78 L582.48,303.12 L583,303.45 L583.52,303.77 L584.04,304.09 L584.56,304.4 L585.08,304.7 L585.59,304.99 L586.11,305.29 L586.63,305.57 L587.15,305.86 L587.67,306.14 L588.18,306.42 L588.7,306.69 L589.22,306.97 L589.74,307.25 L590.26,307.52 L590.77,307.8 L591.29,308.08 L591.81,308.37 L592.33,308.65 L592.85,308.94 L593.36,309.24 L593.88,309.54 L594.4,309.85 L594.92,310.16 L595.44,310.49 L595.95,310.82 L596.47,311.15 L596.99,311.5 L597.51,311.86 L598.03,312.23 L598.54,312.61 L599.06,313.01 L599.58,313.42 L600.1,313.84 L600.62,314.27 L601.13,314.72 L601.65,315.19 L602.17,315.65 L602.69,316.11 L603.21,316.58 L603.72,317.04 L604.24,317.5 L604.76,317.97 L605.28,318.43 L605.8,318.89 L606.32,319.36 L606.83,319.82 L607.35,320.28 L607.87,320.75 L608.39,321.21 L608.91,321.67 L609.42,322.14 L609.94,322.6 L610.46,323.06 L610.98,323.53 L611.5,323.99 L612.01,324.45 L612.53,324.92 L613.05,325.38 L613.57,325.84 L614.09,326.31 L614.6,326.77 L615.12,327.23 L615.64,327.7 L616.16,328.16 L616.68,328.62 L617.19,329.09 L617.71,329.55 L618.23,330.02 L618.75,330.48 L619.27,330.94 L619.78,331.41 L620.3,331.87 L620.82,332.33 L621.34,332.8 L621.86,333.26 L622.37,333.72 L622.89,334.19 L623.41,334.65 L623.93,335.11 L624.45,335.58 L624.96,336.04 L625.48,336.5 L626,336.97 L626.52,337.43 L627.04,337.89 L627.55,338.36 L628.07,338.82 L628.59,339.28 L629.11,339.75 L629.63,340.21 L630.15,340.67 L630.66,341.14 L631.18,341.6 L631.7,342.06 L632.22,342.53 L632.74,342.99 L633.25,343.45 L633.77,343.92 L634.29,344.38 L634.81,344.84 L635.33,345.31 L635.84,345.77 L636.36,346.23 L636.88,346.7 L637.4,347.16 L637.92,347.62 L638.43,348.09 L638.95,348.55 L639.47,349.01 L639.99,349.48 L640.51,349.94 L641.02,350.4 L641.54,350.87 L642.06,351.33 L642.58,351.79 L643.1,352.25 L643.61,352.67 L644.13,353.07 L644.65,353.45 L645.17,353.8 L645.69,354.13 L646.2,354.43 L646.72,354.71 L647.24,354.97 L647.76,355.21 L648.28,355.43 L648.79,355.63 L649.31,355.81 L649.83,355.97 L650.35,356.11 L650.87,356.24 L651.38,356.35 L651.9,356.44 L652.42,356.52 L652.94,356.59 L653.46,356.64 L653.98,356.68 L654.49,356.71 L655.01,356.72 L655.53,356.73 L656.05,356.72 L656.57,356.71 L657.08,356.68 L657.6,356.65 L658.12,356.61 L658.64,356.56 L659.16,356.51 L659.67,356.45 L660.19,356.39 L660.71,356.32 L661.23,356.25 L661.75,356.18 L662.26,356.1 L662.78,356.03 L663.3,355.95" fill="none" stroke="#ff8a1a" stroke-width="1.7" stroke-linejoin="round" stroke-linecap="round" />
<path d="M456.6,355.95 L457.12,356.08 L457.64,356.2 L458.15,356.32 L458.67,356.43 L459.19,356.53 L459.71,356.63 L460.23,356.73 L460.74,356.81 L461.26,356.9 L461.78,356.97 L462.3,357.04 L462.82,357.1 L463.33,357.15 L463.85,357.19 L464.37,357.23 L464.89,357.25 L465.41,357.27 L465.92,357.28 L466.44,357.28 L466.96,357.27 L467.48,357.25 L468,357.21 L468.52,357.17 L469.03,357.12 L469.55,357.05 L470.07,356.98 L470.59,356.89 L471.11,356.79 L471.62,356.68 L472.14,356.56 L472.66,356.42 L473.18,356.27 L473.7,356.1 L474.21,355.93 L474.73,355.73 L475.25,355.53 L475.77,355.31 L476.29,355.07 L476.8,354.82 L477.32,354.55 L477.84,354.28 L478.36,354 L478.88,353.71 L479.39,353.43 L479.91,353.13 L480.43,352.84 L480.95,352.54 L481.47,352.23 L481.98,351.92 L482.5,351.61 L483.02,351.29 L483.54,350.97 L484.06,350.64 L484.57,350.31 L485.09,349.97 L485.61,349.63 L486.13,349.29 L486.65,348.94 L487.16,348.59 L487.68,348.23 L488.2,347.87 L488.72,347.5 L489.24,347.13 L489.75,346.75 L490.27,346.37 L490.79,345.99 L491.31,345.6 L491.83,345.2 L492.35,344.8 L492.86,344.4 L493.38,343.99 L493.9,343.58 L494.42,343.16 L494.94,342.74 L495.45,342.31 L495.97,341.88 L496.49,341.45 L497.01,341.01 L497.53,340.56 L498.04,340.11 L498.56,339.66 L499.08,339.2 L499.6,338.75 L500.12,338.29 L500.63,337.83 L501.15,337.37 L501.67,336.91 L502.19,336.44 L502.71,335.98 L503.22,335.51 L503.74,335.04 L504.26,334.57 L504.78,334.1 L505.3,333.63 L505.81,333.15 L506.33,332.68 L506.85,332.2 L507.37,331.72 L507.89,331.24 L508.4,330.76 L508.92,330.28 L509.44,329.79 L509.96,329.31 L510.48,328.82 L510.99,328.33 L511.51,327.84 L512.03,327.35 L512.55,326.86 L513.07,326.37 L513.58,325.88 L514.1,325.38 L514.62,324.88 L515.14,324.39 L515.66,323.89 L516.18,323.39 L516.69,322.89 L517.21,322.39 L517.73,321.88 L518.25,321.38 L518.77,320.87 L519.28,320.36 L519.8,319.83 L520.32,319.3 L520.84,318.75 L521.36,318.19 L521.87,317.63 L522.39,317.05 L522.91,316.47 L523.43,315.89 L523.95,315.29 L524.46,314.69 L524.98,314.09 L525.5,313.48 L526.02,312.86 L526.54,312.25 L527.05,311.63 L527.57,311.01 L528.09,310.38 L528.61,309.76 L529.13,309.14 L529.64,308.51 L530.16,307.89 L530.68,307.27 L531.2,306.65 L531.72,306.03 L532.23,305.42 L532.75,304.81 L533.27,304.21 L533.79,303.61 L534.31,303.02 L534.82,302.43 L535.34,301.85 L535.86,301.28 L536.38,300.72 L536.9,300.16 L537.42,299.62 L537.93,299.08 L538.45,298.56 L538.97,298.04 L539.49,297.54 L540.01,297.06 L540.52,296.6 L541.04,296.16 L541.56,295.74 L542.08,295.34 L542.6,294.96 L543.11,294.6 L543.63,294.25 L544.15,293.92 L544.67,293.61 L545.19,293.31 L545.7,293.03 L546.22,292.76 L546.74,292.51 L547.26,292.27 L547.78,292.05 L548.29,291.84 L548.81,291.64 L549.33,291.46 L549.85,291.28 L550.37,291.12 L550.88,290.97 L551.4,290.83 L551.92,290.7 L552.44,290.57 L552.96,290.46 L553.47,290.36 L553.99,290.26 L554.51,290.17 L555.03,290.08 L555.55,290 L556.06,289.93 L556.58,289.87 L557.1,289.8 L557.62,289.75 L558.14,289.69 L558.65,289.64 L559.17,289.59 L559.69,289.55 L560.21,289.5 L560.73,289.46 L561.25,289.43 L561.76,289.39 L562.28,289.36 L562.8,289.34 L563.32,289.33 L563.84,289.32 L564.35,289.31 L564.87,289.32 L565.39,289.33 L565.91,289.35 L566.43,289.38 L566.94,289.42 L567.46,289.47 L567.98,289.53 L568.5,289.6 L569.02,289.69 L569.53,289.78 L570.05,289.89 L570.57,290.01 L571.09,290.14 L571.61,290.29 L572.12,290.46 L572.64,290.64 L573.16,290.83 L573.68,291.04 L574.2,291.27 L574.71,291.51 L575.23,291.78 L575.75,292.06 L576.27,292.36 L576.79,292.68 L577.3,293.01 L577.82,293.37 L578.34,293.75 L578.86,294.16 L579.38,294.58 L579.89,295.02 L580.41,295.49 L580.93,295.98 L581.45,296.49 L581.97,297.02 L582.48,297.56 L583,298.12 L583.52,298.69 L584.04,299.28 L584.56,299.88 L585.08,300.49 L585.59,301.11 L586.11,301.74 L586.63,302.37 L587.15,303.02 L587.67,303.67 L588.18,304.33 L588.7,305 L589.22,305.67 L589.74,306.34 L590.26,307.01 L590.77,307.69 L591.29,308.37 L591.81,309.05 L592.33,309.72 L592.85,310.4 L593.36,311.07 L593.88,311.74 L594.4,312.4 L594.92,313.06 L595.44,313.71 L595.95,314.35 L596.47,314.99 L596.99,315.61 L597.51,316.23 L598.03,316.84 L598.54,317.43 L599.06,318.01 L599.58,318.58 L600.1,319.13 L600.62,319.67 L601.13,320.19 L601.65,320.7 L602.17,321.2 L602.69,321.71 L603.21,322.21 L603.72,322.71 L604.24,323.21 L604.76,323.71 L605.28,324.21 L605.8,324.71 L606.32,325.21 L606.83,325.7 L607.35,326.2 L607.87,326.69 L608.39,327.18 L608.91,327.67 L609.42,328.16 L609.94,328.65 L610.46,329.14 L610.98,329.62 L611.5,330.1 L612.01,330.59 L612.53,331.07 L613.05,331.55 L613.57,332.02 L614.09,332.5 L614.6,332.97 L615.12,333.44 L615.64,333.92 L616.16,334.38 L616.68,334.85 L617.19,335.32 L617.71,335.78 L618.23,336.24 L618.75,336.7 L619.27,337.16 L619.78,337.62 L620.3,338.07 L620.82,338.53 L621.34,338.98 L621.86,339.43 L622.37,339.87 L622.89,340.31 L623.41,340.75 L623.93,341.19 L624.45,341.62 L624.96,342.05 L625.48,342.47 L626,342.89 L626.52,343.31 L627.04,343.72 L627.55,344.13 L628.07,344.53 L628.59,344.93 L629.11,345.33 L629.63,345.72 L630.15,346.11 L630.66,346.5 L631.18,346.88 L631.7,347.25 L632.22,347.63 L632.74,348 L633.25,348.36 L633.77,348.72 L634.29,349.08 L634.81,349.43 L635.33,349.78 L635.84,350.12 L636.36,350.46 L636.88,350.8 L637.4,351.13 L637.92,351.46 L638.43,351.78 L638.95,352.1 L639.47,352.41 L639.99,352.72 L640.51,353.03 L641.02,353.33 L641.54,353.63 L642.06,353.92 L642.58,354.21 L643.1,354.49 L643.61,354.75 L644.13,355 L644.65,355.23 L645.17,355.45 L645.69,355.65 L646.2,355.84 L646.72,356.02 L647.24,356.18 L647.76,356.32 L648.28,356.46 L648.79,356.58 L649.31,356.69 L649.83,356.78 L650.35,356.87 L650.87,356.94 L651.38,357 L651.9,357.05 L652.42,357.09 L652.94,357.12 L653.46,357.14 L653.98,357.14 L654.49,357.14 L655.01,357.13 L655.53,357.11 L656.05,357.09 L656.57,357.05 L657.08,357 L657.6,356.95 L658.12,356.89 L658.64,356.83 L659.16,356.75 L659.67,356.67 L660.19,356.59 L660.71,356.49 L661.23,356.39 L661.75,356.29 L662.26,356.18 L662.78,356.07 L663.3,355.95" fill="none" stroke="#ff22ff" stroke-width="1.7" stroke-linejoin="round" stroke-linecap="round" />
<circle cx="456.6" cy="355.95" r="2.8" fill="#fff" stroke="#ff2020" stroke-width="1.1" />
<circle cx="456.6" cy="355.95" r="0.75" fill="#ff2020" stroke="none" stroke-width="1" />
<circle cx="477.27" cy="351.16" r="2.8" fill="#fff" stroke="#ff2020" stroke-width="1.1" />
<circle cx="477.27" cy="351.16" r="0.75" fill="#ff2020" stroke="none" stroke-width="1" />
<circle cx="497.94" cy="334.72" r="2.8" fill="#fff" stroke="#ff2020" stroke-width="1.1" />
<circle cx="497.94" cy="334.72" r="0.75" fill="#ff2020" stroke="none" stroke-width="1" />
<circle cx="518.61" cy="321.71" r="2.8" fill="#fff" stroke="#ff2020" stroke-width="1.1" />
<circle cx="518.61" cy="321.71" r="0.75" fill="#ff2020" stroke="none" stroke-width="1" />
<circle cx="539.28" cy="335.41" r="2.8" fill="#fff" stroke="#ff2020" stroke-width="1.1" />
<circle cx="539.28" cy="335.41" r="0.75" fill="#ff2020" stroke="none" stroke-width="1" />
<circle cx="559.95" cy="366.91" r="2.8" fill="#fff" stroke="#ff2020" stroke-width="1.1" />
<circle cx="559.95" cy="366.91" r="0.75" fill="#ff2020" stroke="none" stroke-width="1" />
<circle cx="580.62" cy="335.41" r="2.8" fill="#fff" stroke="#ff2020" stroke-width="1.1" />
<circle cx="580.62" cy="335.41" r="0.75" fill="#ff2020" stroke="none" stroke-width="1" />
<circle cx="601.29" cy="322.39" r="2.8" fill="#fff" stroke="#ff2020" stroke-width="1.1" />
<circle cx="601.29" cy="322.39" r="0.75" fill="#ff2020" stroke="none" stroke-width="1" />
<circle cx="621.96" cy="334.72" r="2.8" fill="#fff" stroke="#ff2020" stroke-width="1.1" />
<circle cx="621.96" cy="334.72" r="0.75" fill="#ff2020" stroke="none" stroke-width="1" />
<circle cx="642.63" cy="351.16" r="2.8" fill="#fff" stroke="#ff2020" stroke-width="1.1" />
<circle cx="642.63" cy="351.16" r="0.75" fill="#ff2020" stroke="none" stroke-width="1" />
<circle cx="663.3" cy="355.95" r="2.8" fill="#fff" stroke="#ff2020" stroke-width="1.1" />
<circle cx="663.3" cy="355.95" r="0.75" fill="#ff2020" stroke="none" stroke-width="1" />
<circle cx="456.6" cy="355.95" r="2.8" fill="#fff" stroke="#29a3ff" stroke-width="1.1" />
<circle cx="456.6" cy="355.95" r="0.75" fill="#29a3ff" stroke="none" stroke-width="1" />
<circle cx="477.27" cy="351.16" r="2.8" fill="#fff" stroke="#29a3ff" stroke-width="1.1" />
<circle cx="477.27" cy="351.16" r="0.75" fill="#29a3ff" stroke="none" stroke-width="1" />
<circle cx="497.94" cy="331.3" r="2.8" fill="#fff" stroke="#29a3ff" stroke-width="1.1" />
<circle cx="497.94" cy="331.3" r="0.75" fill="#29a3ff" stroke="none" stroke-width="1" />
<circle cx="518.61" cy="316.92" r="2.8" fill="#fff" stroke="#29a3ff" stroke-width="1.1" />
<circle cx="518.61" cy="316.92" r="0.75" fill="#29a3ff" stroke="none" stroke-width="1" />
<circle cx="539.28" cy="323.08" r="2.8" fill="#fff" stroke="#29a3ff" stroke-width="1.1" />
<circle cx="539.28" cy="323.08" r="0.75" fill="#29a3ff" stroke="none" stroke-width="1" />
<circle cx="559.95" cy="339.51" r="2.8" fill="#fff" stroke="#29a3ff" stroke-width="1.1" />
<circle cx="559.95" cy="339.51" r="0.75" fill="#29a3ff" stroke="none" stroke-width="1" />
<circle cx="580.62" cy="324.45" r="2.8" fill="#fff" stroke="#29a3ff" stroke-width="1.1" />
<circle cx="580.62" cy="324.45" r="0.75" fill="#29a3ff" stroke="none" stroke-width="1" />
<circle cx="601.29" cy="316.92" r="2.8" fill="#fff" stroke="#29a3ff" stroke-width="1.1" />
<circle cx="601.29" cy="316.92" r="0.75" fill="#29a3ff" stroke="none" stroke-width="1" />
<circle cx="621.96" cy="331.3" r="2.8" fill="#fff" stroke="#29a3ff" stroke-width="1.1" />
<circle cx="621.96" cy="331.3" r="0.75" fill="#29a3ff" stroke="none" stroke-width="1" />
<circle cx="642.63" cy="351.16" r="2.8" fill="#fff" stroke="#29a3ff" stroke-width="1.1" />
<circle cx="642.63" cy="351.16" r="0.75" fill="#29a3ff" stroke="none" stroke-width="1" />
<circle cx="663.3" cy="355.95" r="2.8" fill="#fff" stroke="#29a3ff" stroke-width="1.1" />
<circle cx="663.3" cy="355.95" r="0.75" fill="#29a3ff" stroke="none" stroke-width="1" />
<circle cx="456.6" cy="355.95" r="2.8" fill="#fff" stroke="#22229a" stroke-width="1.1" />
<circle cx="456.6" cy="355.95" r="0.75" fill="#22229a" stroke="none" stroke-width="1" />
<circle cx="477.27" cy="350.47" r="2.8" fill="#fff" stroke="#22229a" stroke-width="1.1" />
<circle cx="477.27" cy="350.47" r="0.75" fill="#22229a" stroke="none" stroke-width="1" />
<circle cx="497.94" cy="327.87" r="2.8" fill="#fff" stroke="#22229a" stroke-width="1.1" />
<circle cx="497.94" cy="327.87" r="0.75" fill="#22229a" stroke="none" stroke-width="1" />
<circle cx="518.61" cy="312.12" r="2.8" fill="#fff" stroke="#22229a" stroke-width="1.1" />
<circle cx="518.61" cy="312.12" r="0.75" fill="#22229a" stroke="none" stroke-width="1" />
<circle cx="539.28" cy="316.23" r="2.8" fill="#fff" stroke="#22229a" stroke-width="1.1" />
<circle cx="539.28" cy="316.23" r="0.75" fill="#22229a" stroke="none" stroke-width="1" />
<circle cx="559.95" cy="311.44" r="2.8" fill="#fff" stroke="#22229a" stroke-width="1.1" />
<circle cx="559.95" cy="311.44" r="0.75" fill="#22229a" stroke="none" stroke-width="1" />
<circle cx="580.62" cy="315.55" r="2.8" fill="#fff" stroke="#22229a" stroke-width="1.1" />
<circle cx="580.62" cy="315.55" r="0.75" fill="#22229a" stroke="none" stroke-width="1" />
<circle cx="601.29" cy="312.12" r="2.8" fill="#fff" stroke="#22229a" stroke-width="1.1" />
<circle cx="601.29" cy="312.12" r="0.75" fill="#22229a" stroke="none" stroke-width="1" />
<circle cx="621.96" cy="327.87" r="2.8" fill="#fff" stroke="#22229a" stroke-width="1.1" />
<circle cx="621.96" cy="327.87" r="0.75" fill="#22229a" stroke="none" stroke-width="1" />
<circle cx="642.63" cy="350.47" r="2.8" fill="#fff" stroke="#22229a" stroke-width="1.1" />
<circle cx="642.63" cy="350.47" r="0.75" fill="#22229a" stroke="none" stroke-width="1" />
<circle cx="663.3" cy="355.95" r="2.8" fill="#fff" stroke="#22229a" stroke-width="1.1" />
<circle cx="663.3" cy="355.95" r="0.75" fill="#22229a" stroke="none" stroke-width="1" />
<circle cx="456.6" cy="355.95" r="2.8" fill="#fff" stroke="#8c2cff" stroke-width="1.1" />
<circle cx="456.6" cy="355.95" r="0.75" fill="#8c2cff" stroke="none" stroke-width="1" />
<circle cx="477.27" cy="350.47" r="2.8" fill="#fff" stroke="#8c2cff" stroke-width="1.1" />
<circle cx="477.27" cy="350.47" r="0.75" fill="#8c2cff" stroke="none" stroke-width="1" />
<circle cx="497.94" cy="329.93" r="2.8" fill="#fff" stroke="#8c2cff" stroke-width="1.1" />
<circle cx="497.94" cy="329.93" r="0.75" fill="#8c2cff" stroke="none" stroke-width="1" />
<circle cx="518.61" cy="310.75" r="2.8" fill="#fff" stroke="#8c2cff" stroke-width="1.1" />
<circle cx="518.61" cy="310.75" r="0.75" fill="#8c2cff" stroke="none" stroke-width="1" />
<circle cx="539.28" cy="306.64" r="2.8" fill="#fff" stroke="#8c2cff" stroke-width="1.1" />
<circle cx="539.28" cy="306.64" r="0.75" fill="#8c2cff" stroke="none" stroke-width="1" />
<circle cx="559.95" cy="284.05" r="2.8" fill="#fff" stroke="#8c2cff" stroke-width="1.1" />
<circle cx="559.95" cy="284.05" r="0.75" fill="#8c2cff" stroke="none" stroke-width="1" />
<circle cx="580.62" cy="306.64" r="2.8" fill="#fff" stroke="#8c2cff" stroke-width="1.1" />
<circle cx="580.62" cy="306.64" r="0.75" fill="#8c2cff" stroke="none" stroke-width="1" />
<circle cx="601.29" cy="309.38" r="2.8" fill="#fff" stroke="#8c2cff" stroke-width="1.1" />
<circle cx="601.29" cy="309.38" r="0.75" fill="#8c2cff" stroke="none" stroke-width="1" />
<circle cx="621.96" cy="328.56" r="2.8" fill="#fff" stroke="#8c2cff" stroke-width="1.1" />
<circle cx="621.96" cy="328.56" r="0.75" fill="#8c2cff" stroke="none" stroke-width="1" />
<circle cx="642.63" cy="349.79" r="2.8" fill="#fff" stroke="#8c2cff" stroke-width="1.1" />
<circle cx="642.63" cy="349.79" r="0.75" fill="#8c2cff" stroke="none" stroke-width="1" />
<circle cx="663.3" cy="355.95" r="2.8" fill="#fff" stroke="#8c2cff" stroke-width="1.1" />
<circle cx="663.3" cy="355.95" r="0.75" fill="#8c2cff" stroke="none" stroke-width="1" />
<circle cx="456.6" cy="355.95" r="2.8" fill="#fff" stroke="#ff8a1a" stroke-width="1.1" />
<circle cx="456.6" cy="355.95" r="0.75" fill="#ff8a1a" stroke="none" stroke-width="1" />
<circle cx="477.27" cy="350.47" r="2.8" fill="#fff" stroke="#ff8a1a" stroke-width="1.1" />
<circle cx="477.27" cy="350.47" r="0.75" fill="#ff8a1a" stroke="none" stroke-width="1" />
<circle cx="497.94" cy="331.3" r="2.8" fill="#fff" stroke="#ff8a1a" stroke-width="1.1" />
<circle cx="497.94" cy="331.3" r="0.75" fill="#ff8a1a" stroke="none" stroke-width="1" />
<circle cx="518.61" cy="312.47" r="2.8" fill="#fff" stroke="#ff8a1a" stroke-width="1.1" />
<circle cx="518.61" cy="312.47" r="0.75" fill="#ff8a1a" stroke="none" stroke-width="1" />
<circle cx="539.28" cy="301.17" r="2.8" fill="#fff" stroke="#ff8a1a" stroke-width="1.1" />
<circle cx="539.28" cy="301.17" r="0.75" fill="#ff8a1a" stroke="none" stroke-width="1" />
<circle cx="559.95" cy="257.68" r="2.8" fill="#fff" stroke="#ff8a1a" stroke-width="1.1" />
<circle cx="559.95" cy="257.68" r="0.75" fill="#ff8a1a" stroke="none" stroke-width="1" />
<circle cx="580.62" cy="301.85" r="2.8" fill="#fff" stroke="#ff8a1a" stroke-width="1.1" />
<circle cx="580.62" cy="301.85" r="0.75" fill="#ff8a1a" stroke="none" stroke-width="1" />
<circle cx="601.29" cy="314.86" r="2.8" fill="#fff" stroke="#ff8a1a" stroke-width="1.1" />
<circle cx="601.29" cy="314.86" r="0.75" fill="#ff8a1a" stroke="none" stroke-width="1" />
<circle cx="621.96" cy="333.35" r="2.8" fill="#fff" stroke="#ff8a1a" stroke-width="1.1" />
<circle cx="621.96" cy="333.35" r="0.75" fill="#ff8a1a" stroke="none" stroke-width="1" />
<circle cx="642.63" cy="351.84" r="2.8" fill="#fff" stroke="#ff8a1a" stroke-width="1.1" />
<circle cx="642.63" cy="351.84" r="0.75" fill="#ff8a1a" stroke="none" stroke-width="1" />
<circle cx="663.3" cy="355.95" r="2.8" fill="#fff" stroke="#ff8a1a" stroke-width="1.1" />
<circle cx="663.3" cy="355.95" r="0.75" fill="#ff8a1a" stroke="none" stroke-width="1" />
<circle cx="456.6" cy="355.95" r="2.8" fill="#fff" stroke="#ff22ff" stroke-width="1.1" />
<circle cx="456.6" cy="355.95" r="0.75" fill="#ff22ff" stroke="none" stroke-width="1" />
<circle cx="477.27" cy="354.58" r="2.8" fill="#fff" stroke="#ff22ff" stroke-width="1.1" />
<circle cx="477.27" cy="354.58" r="0.75" fill="#ff22ff" stroke="none" stroke-width="1" />
<circle cx="497.94" cy="340.2" r="2.8" fill="#fff" stroke="#ff22ff" stroke-width="1.1" />
<circle cx="497.94" cy="340.2" r="0.75" fill="#ff22ff" stroke="none" stroke-width="1" />
<circle cx="518.61" cy="321.03" r="2.8" fill="#fff" stroke="#ff22ff" stroke-width="1.1" />
<circle cx="518.61" cy="321.03" r="0.75" fill="#ff22ff" stroke="none" stroke-width="1" />
<circle cx="539.28" cy="297.74" r="2.8" fill="#fff" stroke="#ff22ff" stroke-width="1.1" />
<circle cx="539.28" cy="297.74" r="0.75" fill="#ff22ff" stroke="none" stroke-width="1" />
<circle cx="559.95" cy="289.52" r="2.8" fill="#fff" stroke="#ff22ff" stroke-width="1.1" />
<circle cx="559.95" cy="289.52" r="0.75" fill="#ff22ff" stroke="none" stroke-width="1" />
<circle cx="580.62" cy="295.69" r="2.8" fill="#fff" stroke="#ff22ff" stroke-width="1.1" />
<circle cx="580.62" cy="295.69" r="0.75" fill="#ff22ff" stroke="none" stroke-width="1" />
<circle cx="601.29" cy="320.34" r="2.8" fill="#fff" stroke="#ff22ff" stroke-width="1.1" />
<circle cx="601.29" cy="320.34" r="0.75" fill="#ff22ff" stroke="none" stroke-width="1" />
<circle cx="621.96" cy="339.51" r="2.8" fill="#fff" stroke="#ff22ff" stroke-width="1.1" />
<circle cx="621.96" cy="339.51" r="0.75" fill="#ff22ff" stroke="none" stroke-width="1" />
<circle cx="642.63" cy="354.24" r="2.8" fill="#fff" stroke="#ff22ff" stroke-width="1.1" />
<circle cx="642.63" cy="354.24" r="0.75" fill="#ff22ff" stroke="none" stroke-width="1" />
<circle cx="663.3" cy="355.95" r="2.8" fill="#fff" stroke="#ff22ff" stroke-width="1.1" />
<circle cx="663.3" cy="355.95" r="0.75" fill="#ff22ff" stroke="none" stroke-width="1" />
<rect x="435.8" y="253.0" width="247.7" height="171.2" fill="none" stroke="#000" stroke-width="1.5"/>
<line x1="435.8" y1="424.43" x2="440" y2="424.43" stroke="#000" stroke-width="1.3" />
<text x="431.5" y="429.73" font-size="15.6" text-anchor="end" font-weight="normal" font-style="normal" fill="#000" >-0.10</text>
<line x1="435.8" y1="390.19" x2="440" y2="390.19" stroke="#000" stroke-width="1.3" />
<text x="431.5" y="395.49" font-size="15.6" text-anchor="end" font-weight="normal" font-style="normal" fill="#000" >-0.05</text>
<line x1="435.8" y1="355.95" x2="440" y2="355.95" stroke="#000" stroke-width="1.3" />
<text x="431.5" y="361.25" font-size="15.6" text-anchor="end" font-weight="normal" font-style="normal" fill="#000" >0.00</text>
<line x1="435.8" y1="321.71" x2="440" y2="321.71" stroke="#000" stroke-width="1.3" />
<text x="431.5" y="327.01" font-size="15.6" text-anchor="end" font-weight="normal" font-style="normal" fill="#000" >0.05</text>
<line x1="435.8" y1="287.47" x2="440" y2="287.47" stroke="#000" stroke-width="1.3" />
<text x="431.5" y="292.77" font-size="15.6" text-anchor="end" font-weight="normal" font-style="normal" fill="#000" >0.10</text>
<line x1="435.8" y1="253.23" x2="440" y2="253.23" stroke="#000" stroke-width="1.3" />
<text x="431.5" y="258.53" font-size="15.6" text-anchor="end" font-weight="normal" font-style="normal" fill="#000" >0.15</text>
<line x1="435.8" y1="407.31" x2="438.2" y2="407.31" stroke="#000" stroke-width="1.3" />
<line x1="435.8" y1="373.07" x2="438.2" y2="373.07" stroke="#000" stroke-width="1.3" />
<line x1="435.8" y1="338.83" x2="438.2" y2="338.83" stroke="#000" stroke-width="1.3" />
<line x1="435.8" y1="304.59" x2="438.2" y2="304.59" stroke="#000" stroke-width="1.3" />
<line x1="435.8" y1="270.35" x2="438.2" y2="270.35" stroke="#000" stroke-width="1.3" />
<line x1="456.6" y1="424.2" x2="456.6" y2="420" stroke="#000" stroke-width="1.3" />
<text x="456.6" y="440.8" font-size="15.6" text-anchor="middle" font-weight="normal" font-style="normal" fill="#000" >0.0</text>
<line x1="497.94" y1="424.2" x2="497.94" y2="420" stroke="#000" stroke-width="1.3" />
<text x="497.94" y="440.8" font-size="15.6" text-anchor="middle" font-weight="normal" font-style="normal" fill="#000" >0.2</text>
<line x1="539.28" y1="424.2" x2="539.28" y2="420" stroke="#000" stroke-width="1.3" />
<text x="539.28" y="440.8" font-size="15.6" text-anchor="middle" font-weight="normal" font-style="normal" fill="#000" >0.4</text>
<line x1="580.62" y1="424.2" x2="580.62" y2="420" stroke="#000" stroke-width="1.3" />
<text x="580.62" y="440.8" font-size="15.6" text-anchor="middle" font-weight="normal" font-style="normal" fill="#000" >0.6</text>
<line x1="621.96" y1="424.2" x2="621.96" y2="420" stroke="#000" stroke-width="1.3" />
<text x="621.96" y="440.8" font-size="15.6" text-anchor="middle" font-weight="normal" font-style="normal" fill="#000" >0.8</text>
<line x1="663.3" y1="424.2" x2="663.3" y2="420" stroke="#000" stroke-width="1.3" />
<text x="663.3" y="440.8" font-size="15.6" text-anchor="middle" font-weight="normal" font-style="normal" fill="#000" >1.0</text>
<line x1="477.27" y1="424.2" x2="477.27" y2="421.8" stroke="#000" stroke-width="1.3" />
<line x1="518.61" y1="424.2" x2="518.61" y2="421.8" stroke="#000" stroke-width="1.3" />
<line x1="559.95" y1="424.2" x2="559.95" y2="421.8" stroke="#000" stroke-width="1.3" />
<line x1="601.29" y1="424.2" x2="601.29" y2="421.8" stroke="#000" stroke-width="1.3" />
<line x1="642.63" y1="424.2" x2="642.63" y2="421.8" stroke="#000" stroke-width="1.3" />
<text x="363.6" y="255.7" font-size="23.6" text-anchor="start" font-weight="normal" font-style="normal" fill="#000" >(d)</text>
<text transform="translate(388.2,338.6) rotate(-90)" font-size="15.6" text-anchor="middle">Energy (eV/unit cell)</text>
<text x="567.6" y="458.9" font-size="15.6" text-anchor="middle" font-weight="normal" font-style="normal" fill="#000" >NEB path parameter</text>
<line x1="444.9" y1="269.6" x2="467.4" y2="269.6" stroke="#2e8b2e" stroke-width="1.8" />
<circle cx="456.1" cy="269.6" r="2.9" fill="#fff" stroke="#ff2020" stroke-width="1.2" />
<circle cx="456.1" cy="269.6" r="0.75" fill="#ff2020" stroke="none" stroke-width="1" />
<text x="470.9" y="273.7" font-size="15.6" text-anchor="start" font-weight="normal" font-style="normal" fill="#000" >0 %</text>
<line x1="444.9" y1="288.9" x2="467.4" y2="288.9" stroke="#29a3ff" stroke-width="1.8" />
<circle cx="456.1" cy="288.9" r="2.9" fill="#fff" stroke="#29a3ff" stroke-width="1.2" />
<circle cx="456.1" cy="288.9" r="0.75" fill="#29a3ff" stroke="none" stroke-width="1" />
<text x="470.9" y="293" font-size="15.6" text-anchor="start" font-weight="normal" font-style="normal" fill="#000" >1%</text>
<line x1="444.9" y1="307.8" x2="467.4" y2="307.8" stroke="#22229a" stroke-width="1.8" />
<circle cx="456.1" cy="307.8" r="2.9" fill="#fff" stroke="#22229a" stroke-width="1.2" />
<circle cx="456.1" cy="307.8" r="0.75" fill="#22229a" stroke="none" stroke-width="1" />
<text x="470.9" y="311.9" font-size="15.6" text-anchor="start" font-weight="normal" font-style="normal" fill="#000" >2%</text>
<line x1="628.9" y1="268.9" x2="651.4" y2="268.9" stroke="#8c2cff" stroke-width="1.8" />
<circle cx="640.1" cy="268.9" r="2.9" fill="#fff" stroke="#8c2cff" stroke-width="1.2" />
<circle cx="640.1" cy="268.9" r="0.75" fill="#8c2cff" stroke="none" stroke-width="1" />
<text x="654.9" y="273" font-size="15.6" text-anchor="start" font-weight="normal" font-style="normal" fill="#000" >3%</text>
<line x1="628.9" y1="287.8" x2="651.4" y2="287.8" stroke="#ff8a1a" stroke-width="1.8" />
<circle cx="640.1" cy="287.8" r="2.9" fill="#fff" stroke="#ff8a1a" stroke-width="1.2" />
<circle cx="640.1" cy="287.8" r="0.75" fill="#ff8a1a" stroke="none" stroke-width="1" />
<text x="654.9" y="291.9" font-size="15.6" text-anchor="start" font-weight="normal" font-style="normal" fill="#000" >4%</text>
<line x1="628.9" y1="306.7" x2="651.4" y2="306.7" stroke="#ff22ff" stroke-width="1.8" />
<circle cx="640.1" cy="306.7" r="2.9" fill="#fff" stroke="#ff22ff" stroke-width="1.2" />
<circle cx="640.1" cy="306.7" r="0.75" fill="#ff22ff" stroke="none" stroke-width="1" />
<text x="654.9" y="310.8" font-size="15.6" text-anchor="start" font-weight="normal" font-style="normal" fill="#000" >5%</text>
<text x="447.6" y="331.2" font-size="14.5" text-anchor="start" font-weight="bold" font-style="normal" fill="#000" >P</text>
<line x1="463.7" y1="319.3" x2="463.7" y2="326.8" stroke="#000" stroke-width="1.4" />
<path d="M461.4,326.8 L466,326.8 L463.7,333.3 Z" fill="#000"/>
<text x="447.2" y="344.7" font-size="15.6" text-anchor="start" font-weight="normal" font-style="normal" fill="#ff22ff" >FE</text>
<line x1="653.7" y1="332" x2="653.7" y2="325.4" stroke="#000" stroke-width="1.4" />
<path d="M651.4,325.4 L656,325.4 L653.7,318.9 Z" fill="#000"/>
<text x="659.5" y="331.2" font-size="14.5" text-anchor="start" font-weight="bold" font-style="normal" fill="#000" >-P</text>
<text x="657" y="344.7" font-size="15.6" text-anchor="start" font-weight="normal" font-style="normal" fill="#ff22ff" >-FE</text>
<line x1="424.3" y1="23.3" x2="430.15" y2="18.9" stroke="#c8c0b0" stroke-width="2.0" />
<line x1="430.15" y1="18.9" x2="436" y2="14.5" stroke="#e83030" stroke-width="2.0" />
<line x1="436" y1="14.5" x2="447.6" y2="18.9" stroke="#e83030" stroke-width="2.0" />
<line x1="447.6" y1="18.9" x2="459.2" y2="23.3" stroke="#c8c0b0" stroke-width="2.0" />
<line x1="424.3" y1="23.3" x2="435.85" y2="29.8" stroke="#b0aa98" stroke-width="1.6" />
<line x1="435.85" y1="29.8" x2="447.4" y2="36.3" stroke="#c0c8e8" stroke-width="1.6" />
<line x1="459.2" y1="23.3" x2="453.3" y2="29.8" stroke="#b0aa98" stroke-width="1.6" />
<line x1="453.3" y1="29.8" x2="447.4" y2="36.3" stroke="#c0c8e8" stroke-width="1.6" />
<line x1="447.4" y1="36.3" x2="448.5" y2="60" stroke="#c8cce0" stroke-width="1.6" />
<line x1="449" y1="63.6" x2="454.1" y2="68.1" stroke="#606060" stroke-width="1.8" />
<line x1="454.1" y1="68.1" x2="459.2" y2="72.6" stroke="#e03030" stroke-width="1.8" />
<line x1="449" y1="63.6" x2="442.5" y2="66.8" stroke="#606060" stroke-width="1.4" />
<line x1="442.5" y1="66.8" x2="436" y2="70" stroke="#e03030" stroke-width="1.4" />
<line x1="459.2" y1="23.3" x2="465.05" y2="18.9" stroke="#c8c0b0" stroke-width="2.0" />
<line x1="465.05" y1="18.9" x2="470.9" y2="14.5" stroke="#e83030" stroke-width="2.0" />
<line x1="470.9" y1="14.5" x2="482.5" y2="18.9" stroke="#e83030" stroke-width="2.0" />
<line x1="482.5" y1="18.9" x2="494.1" y2="23.3" stroke="#c8c0b0" stroke-width="2.0" />
<line x1="459.2" y1="23.3" x2="470.75" y2="29.8" stroke="#b0aa98" stroke-width="1.6" />
<line x1="470.75" y1="29.8" x2="482.3" y2="36.3" stroke="#c0c8e8" stroke-width="1.6" />
<line x1="494.1" y1="23.3" x2="488.2" y2="29.8" stroke="#b0aa98" stroke-width="1.6" />
<line x1="488.2" y1="29.8" x2="482.3" y2="36.3" stroke="#c0c8e8" stroke-width="1.6" />
<line x1="482.3" y1="36.3" x2="483.4" y2="60" stroke="#c8cce0" stroke-width="1.6" />
<line x1="483.9" y1="63.6" x2="489" y2="68.1" stroke="#606060" stroke-width="1.8" />
<line x1="489" y1="68.1" x2="494.1" y2="72.6" stroke="#e03030" stroke-width="1.8" />
<line x1="483.9" y1="63.6" x2="477.4" y2="66.8" stroke="#606060" stroke-width="1.4" />
<line x1="477.4" y1="66.8" x2="470.9" y2="70" stroke="#e03030" stroke-width="1.4" />
<ellipse cx="435.9" cy="11.4" rx="7.2" ry="5.2" fill="url(#gIsoY)" />
<ellipse cx="435.9" cy="13.2" rx="3.6" ry="2.8" fill="url(#gOrange)" />
<ellipse cx="470.8" cy="11.4" rx="7.2" ry="5.2" fill="url(#gIsoY)" />
<ellipse cx="470.8" cy="13.2" rx="3.6" ry="2.8" fill="url(#gOrange)" />
<ellipse cx="437.2" cy="21.3" rx="6.4" ry="5.4" fill="url(#gIsoG)" />
<ellipse cx="472.1" cy="21.3" rx="6.4" ry="5.4" fill="url(#gIsoG)" />
<ellipse cx="428.6" cy="32.6" rx="5.8" ry="5.4" fill="url(#gIsoG)" />
<ellipse cx="459.4" cy="32.6" rx="8" ry="5.4" fill="url(#gIsoG)" />
<ellipse cx="490.4" cy="32.6" rx="5.8" ry="5.4" fill="url(#gIsoG)" />
<circle cx="424.3" cy="23.3" r="7.9" fill="url(#gGray)" />
<circle cx="459.2" cy="23.3" r="7.9" fill="url(#gGray)" />
<circle cx="494.1" cy="23.3" r="7.9" fill="url(#gGray)" />
<ellipse cx="447.2" cy="36.4" rx="6.3" ry="4.8" fill="url(#gIsoY)" />
<ellipse cx="447.7" cy="46.4" rx="6.4" ry="3.8" fill="url(#gIsoG)" />
<ellipse cx="482.1" cy="36.4" rx="6.3" ry="4.8" fill="url(#gIsoY)" />
<ellipse cx="482.6" cy="46.4" rx="6.4" ry="3.8" fill="url(#gIsoG)" />
<circle cx="449" cy="63.6" r="8.7" fill="url(#gIsoY)" />
<circle cx="436" cy="62.5" r="9.6" fill="url(#gIsoG)" fill-opacity="0.93"/>
<circle cx="483.9" cy="63.6" r="8.7" fill="url(#gIsoY)" />
<circle cx="470.9" cy="62.5" r="9.6" fill="url(#gIsoG)" fill-opacity="0.93"/>
<circle cx="424.3" cy="72.6" r="3.3" fill="url(#gRed)" />
<circle cx="459.2" cy="72.6" r="3.3" fill="url(#gRed)" />
<circle cx="494.1" cy="72.6" r="3.3" fill="url(#gRed)" />
<line x1="447.6" y1="40" x2="447.6" y2="58" stroke="#d8dcec" stroke-width="1.2" opacity="0.7"/>
<line x1="482.5" y1="40" x2="482.5" y2="58" stroke="#d8dcec" stroke-width="1.2" opacity="0.7"/>
<clipPath id="cpTR"><rect x="577.4" y="0" width="71.6" height="80"/></clipPath>
<g clip-path="url(#cpTR)">
<line x1="542.4" y1="14.2" x2="548.45" y2="18.5" stroke="#e83030" stroke-width="2.0" />
<line x1="548.45" y1="18.5" x2="554.5" y2="22.8" stroke="#d8a8d0" stroke-width="2.0" />
<line x1="577.8" y1="14.2" x2="566.15" y2="18.5" stroke="#e83030" stroke-width="2.0" />
<line x1="566.15" y1="18.5" x2="554.5" y2="22.8" stroke="#d8a8d0" stroke-width="2.0" />
<line x1="554.5" y1="22.8" x2="560.1" y2="29.95" stroke="#d0b0d0" stroke-width="1.5" />
<line x1="560.1" y1="29.95" x2="565.7" y2="37.1" stroke="#d8dc90" stroke-width="1.5" />
<line x1="565.7" y1="37.1" x2="565.7" y2="60" stroke="#d8b0d8" stroke-width="1.6" />
<line x1="542.4" y1="69.1" x2="554.05" y2="66.1" stroke="#e83030" stroke-width="2.0" />
<line x1="554.05" y1="66.1" x2="565.7" y2="63.1" stroke="#d8a8d0" stroke-width="2.0" />
<line x1="577.8" y1="69.1" x2="571.75" y2="66.1" stroke="#e83030" stroke-width="2.0" />
<line x1="571.75" y1="66.1" x2="565.7" y2="63.1" stroke="#d8a8d0" stroke-width="2.0" />
<line x1="577.8" y1="14.2" x2="583.85" y2="18.5" stroke="#e83030" stroke-width="2.0" />
<line x1="583.85" y1="18.5" x2="589.9" y2="22.8" stroke="#d8a8d0" stroke-width="2.0" />
<line x1="613.2" y1="14.2" x2="601.55" y2="18.5" stroke="#e83030" stroke-width="2.0" />
<line x1="601.55" y1="18.5" x2="589.9" y2="22.8" stroke="#d8a8d0" stroke-width="2.0" />
<line x1="589.9" y1="22.8" x2="595.5" y2="29.95" stroke="#d0b0d0" stroke-width="1.5" />
<line x1="595.5" y1="29.95" x2="601.1" y2="37.1" stroke="#d8dc90" stroke-width="1.5" />
<line x1="601.1" y1="37.1" x2="601.1" y2="60" stroke="#d8b0d8" stroke-width="1.6" />
<line x1="577.8" y1="69.1" x2="589.45" y2="66.1" stroke="#e83030" stroke-width="2.0" />
<line x1="589.45" y1="66.1" x2="601.1" y2="63.1" stroke="#d8a8d0" stroke-width="2.0" />
<line x1="613.2" y1="69.1" x2="607.15" y2="66.1" stroke="#e83030" stroke-width="2.0" />
<line x1="607.15" y1="66.1" x2="601.1" y2="63.1" stroke="#d8a8d0" stroke-width="2.0" />
<line x1="613.2" y1="14.2" x2="619.25" y2="18.5" stroke="#e83030" stroke-width="2.0" />
<line x1="619.25" y1="18.5" x2="625.3" y2="22.8" stroke="#d8a8d0" stroke-width="2.0" />
<line x1="648.6" y1="14.2" x2="636.95" y2="18.5" stroke="#e83030" stroke-width="2.0" />
<line x1="636.95" y1="18.5" x2="625.3" y2="22.8" stroke="#d8a8d0" stroke-width="2.0" />
<line x1="625.3" y1="22.8" x2="630.9" y2="29.95" stroke="#d0b0d0" stroke-width="1.5" />
<line x1="630.9" y1="29.95" x2="636.5" y2="37.1" stroke="#d8dc90" stroke-width="1.5" />
<line x1="636.5" y1="37.1" x2="636.5" y2="60" stroke="#d8b0d8" stroke-width="1.6" />
<line x1="613.2" y1="69.1" x2="624.85" y2="66.1" stroke="#e83030" stroke-width="2.0" />
<line x1="624.85" y1="66.1" x2="636.5" y2="63.1" stroke="#d8a8d0" stroke-width="2.0" />
<line x1="648.6" y1="69.1" x2="642.55" y2="66.1" stroke="#e83030" stroke-width="2.0" />
<line x1="642.55" y1="66.1" x2="636.5" y2="63.1" stroke="#d8a8d0" stroke-width="2.0" />
<ellipse cx="578.8" cy="11.8" rx="8.4" ry="6.2" fill="url(#gIsoY)" />
<ellipse cx="614.2" cy="11.8" rx="8.4" ry="6.2" fill="url(#gIsoY)" />
<ellipse cx="649.6" cy="11.8" rx="8.4" ry="6.2" fill="url(#gIsoY)" />
<ellipse cx="600.2" cy="14.5" rx="6.8" ry="5.5" fill="url(#gIsoG)" />
<ellipse cx="635.6" cy="14.5" rx="6.8" ry="5.5" fill="url(#gIsoG)" />
<circle cx="577" cy="27.2" r="8.2" fill="url(#gIsoG)" />
<circle cx="612.4" cy="27.2" r="8.2" fill="url(#gIsoG)" />
<circle cx="647.8" cy="27.2" r="8.2" fill="url(#gIsoG)" />
<circle cx="589.9" cy="22.8" r="8.3" fill="url(#gGold)" />
<circle cx="625.3" cy="22.8" r="8.3" fill="url(#gGold)" />
<circle cx="589" cy="42.3" r="7.8" fill="url(#gIsoG)" />
<circle cx="624.4" cy="42.3" r="7.8" fill="url(#gIsoG)" />
<circle cx="601.1" cy="37.1" r="6.9" fill="url(#gIsoY)" />
<circle cx="636.5" cy="37.1" r="6.9" fill="url(#gIsoY)" />
<ellipse cx="601.1" cy="54.6" rx="7.4" ry="5.2" fill="url(#gIsoG)" />
<ellipse cx="636.5" cy="54.6" rx="7.4" ry="5.2" fill="url(#gIsoG)" />
<circle cx="601.1" cy="63.6" r="7.6" fill="url(#gGold)" />
<ellipse cx="601.1" cy="60.2" rx="7" ry="3.2" fill="url(#gPinkF)" />
<circle cx="636.5" cy="63.6" r="7.6" fill="url(#gGold)" />
<ellipse cx="636.5" cy="60.2" rx="7" ry="3.2" fill="url(#gPinkF)" />
<ellipse cx="578.1" cy="64" rx="5.6" ry="4.2" fill="url(#gIsoG)" />
<ellipse cx="613.5" cy="64" rx="5.6" ry="4.2" fill="url(#gIsoG)" />
<ellipse cx="648.9" cy="64" rx="5.6" ry="4.2" fill="url(#gIsoG)" />
<ellipse cx="577.8" cy="74.2" rx="6.2" ry="4.2" fill="url(#gIsoY)" />
<ellipse cx="613.2" cy="74.2" rx="6.2" ry="4.2" fill="url(#gIsoY)" />
<ellipse cx="648.6" cy="74.2" rx="6.2" ry="4.2" fill="url(#gIsoY)" />
</g>
<circle cx="577.8" cy="14.2" r="3.3" fill="url(#gRed)" />
<circle cx="577.8" cy="69.1" r="3.3" fill="url(#gRed)" />
<circle cx="613.2" cy="14.2" r="3.3" fill="url(#gRed)" />
<circle cx="613.2" cy="69.1" r="3.3" fill="url(#gRed)" />
<circle cx="648.6" cy="14.2" r="3.3" fill="url(#gRed)" />
<circle cx="648.6" cy="69.1" r="3.3" fill="url(#gRed)" />
<line x1="494.9" y1="93.9" x2="483.2" y2="114" stroke="#958b72" stroke-width="1.7" />
<line x1="459.8" y1="114" x2="483.2" y2="114" stroke="#958b72" stroke-width="1.7" />
<line x1="459.8" y1="114" x2="448.1" y2="133.8" stroke="#958b72" stroke-width="1.7" />
<line x1="459.8" y1="114" x2="471.5" y2="133.8" stroke="#958b72" stroke-width="1.7" />
<line x1="483.2" y1="114" x2="471.5" y2="133.8" stroke="#958b72" stroke-width="1.7" />
<line x1="483.2" y1="114" x2="494.9" y2="133.8" stroke="#958b72" stroke-width="1.7" />
<line x1="424.7" y1="133.8" x2="448.1" y2="133.8" stroke="#958b72" stroke-width="1.7" />
<line x1="424.7" y1="133.8" x2="436.4" y2="153.8" stroke="#958b72" stroke-width="1.7" />
<line x1="448.1" y1="133.8" x2="471.5" y2="133.8" stroke="#958b72" stroke-width="1.7" />
<line x1="448.1" y1="133.8" x2="436.4" y2="153.8" stroke="#958b72" stroke-width="1.7" />
<line x1="448.1" y1="133.8" x2="459.8" y2="153.8" stroke="#958b72" stroke-width="1.7" />
<line x1="471.5" y1="133.8" x2="494.9" y2="133.8" stroke="#958b72" stroke-width="1.7" />
<line x1="471.5" y1="133.8" x2="459.8" y2="153.8" stroke="#958b72" stroke-width="1.7" />
<line x1="471.5" y1="133.8" x2="483.2" y2="153.8" stroke="#958b72" stroke-width="1.7" />
<line x1="494.9" y1="133.8" x2="483.2" y2="153.8" stroke="#958b72" stroke-width="1.7" />
<line x1="436.4" y1="153.8" x2="459.8" y2="153.8" stroke="#958b72" stroke-width="1.7" />
<line x1="436.4" y1="153.8" x2="424.7" y2="174" stroke="#958b72" stroke-width="1.7" />
<line x1="436.4" y1="153.8" x2="448.1" y2="174" stroke="#958b72" stroke-width="1.7" />
<line x1="459.8" y1="153.8" x2="483.2" y2="153.8" stroke="#958b72" stroke-width="1.7" />
<line x1="459.8" y1="153.8" x2="448.1" y2="174" stroke="#958b72" stroke-width="1.7" />
<line x1="459.8" y1="153.8" x2="471.5" y2="174" stroke="#958b72" stroke-width="1.7" />
<line x1="483.2" y1="153.8" x2="471.5" y2="174" stroke="#958b72" stroke-width="1.7" />
<line x1="483.2" y1="153.8" x2="494.9" y2="174" stroke="#958b72" stroke-width="1.7" />
<line x1="424.7" y1="174" x2="448.1" y2="174" stroke="#958b72" stroke-width="1.7" />
<line x1="424.7" y1="174" x2="436.4" y2="194.2" stroke="#958b72" stroke-width="1.7" />
<line x1="448.1" y1="174" x2="471.5" y2="174" stroke="#958b72" stroke-width="1.7" />
<line x1="448.1" y1="174" x2="436.4" y2="194.2" stroke="#958b72" stroke-width="1.7" />
<line x1="448.1" y1="174" x2="459.8" y2="194.2" stroke="#958b72" stroke-width="1.7" />
<line x1="471.5" y1="174" x2="494.9" y2="174" stroke="#958b72" stroke-width="1.7" />
<line x1="471.5" y1="174" x2="459.8" y2="194.2" stroke="#958b72" stroke-width="1.7" />
<line x1="436.4" y1="194.2" x2="459.8" y2="194.2" stroke="#958b72" stroke-width="1.7" />
<line x1="436.4" y1="194.2" x2="424.7" y2="214.4" stroke="#958b72" stroke-width="1.7" />
<circle cx="494.9" cy="93.9" r="7.7" fill="url(#gGray)" />
<path d="M497.31,101.21 A7.7,7.7 0 0 1 487.59,91.49 Z" fill="url(#gSegY)"/>
<circle cx="459.8" cy="114" r="7.7" fill="url(#gGray)" />
<path d="M465.51,108.83 A7.7,7.7 0 0 1 454.63,119.71 Z" fill="url(#gSegY)"/>
<circle cx="483.2" cy="114" r="9.4" fill="#b7b022" stroke="none" stroke-width="1" />
<circle cx="483.2" cy="114" r="8.2" fill="#cfcc36" stroke="none" stroke-width="1" />
<circle cx="483.2" cy="114" r="7" fill="#bcb426" stroke="none" stroke-width="1" />
<circle cx="483.2" cy="114" r="6.3" fill="#c6dc22" stroke="none" stroke-width="1" />
<circle cx="483.2" cy="114" r="2.6" fill="#e2ec8c" stroke="none" stroke-width="1" />
<circle cx="483.2" cy="114" r="1.3" fill="#f4f6d0" stroke="none" stroke-width="1" />
<circle cx="424.7" cy="133.8" r="7.7" fill="url(#gGray)" />
<path d="M427.01,126.45 A7.7,7.7 0 0 1 427.01,141.15 Z" fill="url(#gSegY)"/>
<circle cx="448.1" cy="133.8" r="9.4" fill="#b7b022" stroke="none" stroke-width="1" />
<circle cx="448.1" cy="133.8" r="8.2" fill="#cfcc36" stroke="none" stroke-width="1" />
<circle cx="448.1" cy="133.8" r="7" fill="#bcb426" stroke="none" stroke-width="1" />
<circle cx="448.1" cy="133.8" r="6.3" fill="#c6dc22" stroke="none" stroke-width="1" />
<circle cx="448.1" cy="133.8" r="2.6" fill="#e2ec8c" stroke="none" stroke-width="1" />
<circle cx="448.1" cy="133.8" r="1.3" fill="#f4f6d0" stroke="none" stroke-width="1" />
<circle cx="471.5" cy="133.8" r="9.4" fill="#18b018" stroke="none" stroke-width="1" />
<circle cx="471.5" cy="133.8" r="8.4" fill="#2ccc2c" stroke="none" stroke-width="1" />
<circle cx="471.5" cy="133.8" r="6.6" fill="#c0d42a" stroke="none" stroke-width="1" />
<circle cx="471.5" cy="133.8" r="5.1" fill="#d4dc40" stroke="none" stroke-width="1" />
<circle cx="471.5" cy="133.8" r="3.6" fill="#f08a10" stroke="none" stroke-width="1" />
<circle cx="471.5" cy="133.8" r="1.8" fill="#ffb050" stroke="none" stroke-width="1" />
<circle cx="494.9" cy="133.8" r="7.7" fill="url(#gGray)" />
<path d="M494.9,141.5 A7.7,7.7 0 0 1 494.9,126.1 Z" fill="url(#gSegY)"/>
<circle cx="436.4" cy="153.8" r="9.4" fill="#18b018" stroke="none" stroke-width="1" />
<circle cx="436.4" cy="153.8" r="8.4" fill="#2ccc2c" stroke="none" stroke-width="1" />
<circle cx="436.4" cy="153.8" r="6.6" fill="#c0d42a" stroke="none" stroke-width="1" />
<circle cx="436.4" cy="153.8" r="5.1" fill="#d4dc40" stroke="none" stroke-width="1" />
<circle cx="436.4" cy="153.8" r="3.6" fill="#f08a10" stroke="none" stroke-width="1" />
<circle cx="436.4" cy="153.8" r="1.8" fill="#ffb050" stroke="none" stroke-width="1" />
<circle cx="459.8" cy="153.8" r="8.3" fill="url(#gIsoY)" />
<circle cx="483.2" cy="153.8" r="9.4" fill="#b7b022" stroke="none" stroke-width="1" />
<circle cx="483.2" cy="153.8" r="8.2" fill="#cfcc36" stroke="none" stroke-width="1" />
<circle cx="483.2" cy="153.8" r="7" fill="#bcb426" stroke="none" stroke-width="1" />
<circle cx="483.2" cy="153.8" r="6.3" fill="#c6dc22" stroke="none" stroke-width="1" />
<circle cx="483.2" cy="153.8" r="2.6" fill="#e2ec8c" stroke="none" stroke-width="1" />
<circle cx="483.2" cy="153.8" r="1.3" fill="#f4f6d0" stroke="none" stroke-width="1" />
<circle cx="424.7" cy="174" r="7.7" fill="url(#gGray)" />
<path d="M424.7,166.3 A7.7,7.7 0 0 1 424.7,181.7 Z" fill="url(#gSegY)"/>
<circle cx="448.1" cy="174" r="9.4" fill="#b7b022" stroke="none" stroke-width="1" />
<circle cx="448.1" cy="174" r="8.2" fill="#cfcc36" stroke="none" stroke-width="1" />
<circle cx="448.1" cy="174" r="7" fill="#bcb426" stroke="none" stroke-width="1" />
<circle cx="448.1" cy="174" r="6.3" fill="#c6dc22" stroke="none" stroke-width="1" />
<circle cx="448.1" cy="174" r="2.6" fill="#e2ec8c" stroke="none" stroke-width="1" />
<circle cx="448.1" cy="174" r="1.3" fill="#f4f6d0" stroke="none" stroke-width="1" />
<circle cx="471.5" cy="174" r="9.4" fill="#18b018" stroke="none" stroke-width="1" />
<circle cx="471.5" cy="174" r="8.4" fill="#2ccc2c" stroke="none" stroke-width="1" />
<circle cx="471.5" cy="174" r="6.6" fill="#c0d42a" stroke="none" stroke-width="1" />
<circle cx="471.5" cy="174" r="5.1" fill="#d4dc40" stroke="none" stroke-width="1" />
<circle cx="471.5" cy="174" r="3.6" fill="#f08a10" stroke="none" stroke-width="1" />
<circle cx="471.5" cy="174" r="1.8" fill="#ffb050" stroke="none" stroke-width="1" />
<circle cx="494.9" cy="174" r="7.7" fill="url(#gGray)" />
<path d="M489.46,179.44 A7.7,7.7 0 0 1 500.34,168.56 Z" fill="url(#gSegY)"/>
<circle cx="436.4" cy="194.2" r="9.4" fill="#18b018" stroke="none" stroke-width="1" />
<circle cx="436.4" cy="194.2" r="8.4" fill="#2ccc2c" stroke="none" stroke-width="1" />
<circle cx="436.4" cy="194.2" r="6.6" fill="#c0d42a" stroke="none" stroke-width="1" />
<circle cx="436.4" cy="194.2" r="5.1" fill="#d4dc40" stroke="none" stroke-width="1" />
<circle cx="436.4" cy="194.2" r="3.6" fill="#f08a10" stroke="none" stroke-width="1" />
<circle cx="436.4" cy="194.2" r="1.8" fill="#ffb050" stroke="none" stroke-width="1" />
<circle cx="459.8" cy="194.2" r="7.7" fill="url(#gGray)" />
<path d="M454.36,199.64 A7.7,7.7 0 0 1 465.24,188.76 Z" fill="url(#gSegY)"/>
<circle cx="424.7" cy="214.4" r="7.7" fill="url(#gGray)" />
<path d="M422.07,207.16 A7.7,7.7 0 0 1 432.28,215.74 Z" fill="url(#gSegY)"/>
<circle cx="467.2" cy="126.35" r="1.6" fill="#ee1010" stroke="none" stroke-width="1" />
<line x1="471.5" y1="133.8" x2="468.5" y2="128.6" stroke="#f08a10" stroke-width="1.6" />
<circle cx="480.1" cy="133.8" r="1.6" fill="#ee1010" stroke="none" stroke-width="1" />
<line x1="471.5" y1="133.8" x2="477.5" y2="133.8" stroke="#f08a10" stroke-width="1.6" />
<circle cx="467.2" cy="141.25" r="1.6" fill="#ee1010" stroke="none" stroke-width="1" />
<line x1="471.5" y1="133.8" x2="468.5" y2="139" stroke="#f08a10" stroke-width="1.6" />
<circle cx="471.5" cy="133.8" r="3.4" fill="#f57f0a" stroke="none" stroke-width="1" />
<circle cx="471.5" cy="133.8" r="1.6" fill="#ffb860" stroke="none" stroke-width="1" />
<circle cx="432.1" cy="146.35" r="1.6" fill="#ee1010" stroke="none" stroke-width="1" />
<line x1="436.4" y1="153.8" x2="433.4" y2="148.6" stroke="#f08a10" stroke-width="1.6" />
<circle cx="445" cy="153.8" r="1.6" fill="#ee1010" stroke="none" stroke-width="1" />
<line x1="436.4" y1="153.8" x2="442.4" y2="153.8" stroke="#f08a10" stroke-width="1.6" />
<circle cx="432.1" cy="161.25" r="1.6" fill="#ee1010" stroke="none" stroke-width="1" />
<line x1="436.4" y1="153.8" x2="433.4" y2="159" stroke="#f08a10" stroke-width="1.6" />
<circle cx="436.4" cy="153.8" r="3.4" fill="#f57f0a" stroke="none" stroke-width="1" />
<circle cx="436.4" cy="153.8" r="1.6" fill="#ffb860" stroke="none" stroke-width="1" />
<circle cx="467.2" cy="166.55" r="1.6" fill="#ee1010" stroke="none" stroke-width="1" />
<line x1="471.5" y1="174" x2="468.5" y2="168.8" stroke="#f08a10" stroke-width="1.6" />
<circle cx="480.1" cy="174" r="1.6" fill="#ee1010" stroke="none" stroke-width="1" />
<line x1="471.5" y1="174" x2="477.5" y2="174" stroke="#f08a10" stroke-width="1.6" />
<circle cx="467.2" cy="181.45" r="1.6" fill="#ee1010" stroke="none" stroke-width="1" />
<line x1="471.5" y1="174" x2="468.5" y2="179.2" stroke="#f08a10" stroke-width="1.6" />
<circle cx="471.5" cy="174" r="3.4" fill="#f57f0a" stroke="none" stroke-width="1" />
<circle cx="471.5" cy="174" r="1.6" fill="#ffb860" stroke="none" stroke-width="1" />
<circle cx="432.1" cy="186.75" r="1.6" fill="#ee1010" stroke="none" stroke-width="1" />
<line x1="436.4" y1="194.2" x2="433.4" y2="189" stroke="#f08a10" stroke-width="1.6" />
<circle cx="445" cy="194.2" r="1.6" fill="#ee1010" stroke="none" stroke-width="1" />
<line x1="436.4" y1="194.2" x2="442.4" y2="194.2" stroke="#f08a10" stroke-width="1.6" />
<circle cx="432.1" cy="201.65" r="1.6" fill="#ee1010" stroke="none" stroke-width="1" />
<line x1="436.4" y1="194.2" x2="433.4" y2="199.4" stroke="#f08a10" stroke-width="1.6" />
<circle cx="436.4" cy="194.2" r="3.4" fill="#f57f0a" stroke="none" stroke-width="1" />
<circle cx="436.4" cy="194.2" r="1.6" fill="#ffb860" stroke="none" stroke-width="1" />
<line x1="486.6" y1="108.11" x2="488" y2="105.69" stroke="#a8b0e8" stroke-width="1.8" />
<line x1="486.6" y1="119.89" x2="488" y2="122.31" stroke="#a8b0e8" stroke-width="1.8" />
<line x1="476.4" y1="114" x2="473.6" y2="114" stroke="#a8b0e8" stroke-width="1.8" />
<line x1="451.5" y1="127.91" x2="452.9" y2="125.49" stroke="#a8b0e8" stroke-width="1.8" />
<line x1="451.5" y1="139.69" x2="452.9" y2="142.11" stroke="#a8b0e8" stroke-width="1.8" />
<line x1="441.3" y1="133.8" x2="438.5" y2="133.8" stroke="#a8b0e8" stroke-width="1.8" />
<line x1="486.6" y1="147.91" x2="488" y2="145.49" stroke="#a8b0e8" stroke-width="1.8" />
<line x1="486.6" y1="159.69" x2="488" y2="162.11" stroke="#a8b0e8" stroke-width="1.8" />
<line x1="476.4" y1="153.8" x2="473.6" y2="153.8" stroke="#a8b0e8" stroke-width="1.8" />
<line x1="451.5" y1="168.11" x2="452.9" y2="165.69" stroke="#a8b0e8" stroke-width="1.8" />
<line x1="451.5" y1="179.89" x2="452.9" y2="182.31" stroke="#a8b0e8" stroke-width="1.8" />
<line x1="441.3" y1="174" x2="438.5" y2="174" stroke="#a8b0e8" stroke-width="1.8" />
<line x1="648.8" y1="92.3" x2="637" y2="112.5" stroke="#c87ab8" stroke-width="2.0" />
<line x1="613.5" y1="112.5" x2="637" y2="112.5" stroke="#c87ab8" stroke-width="2.0" />
<line x1="613.5" y1="112.5" x2="601.6" y2="132.8" stroke="#c87ab8" stroke-width="2.0" />
<line x1="613.5" y1="112.5" x2="625.2" y2="132.8" stroke="#c87ab8" stroke-width="2.0" />
<line x1="637" y1="112.5" x2="625.2" y2="132.8" stroke="#c87ab8" stroke-width="2.0" />
<line x1="637" y1="112.5" x2="648.8" y2="132.8" stroke="#c87ab8" stroke-width="2.0" />
<line x1="578" y1="132.8" x2="601.6" y2="132.8" stroke="#c87ab8" stroke-width="2.0" />
<line x1="578" y1="132.8" x2="589.8" y2="153.4" stroke="#c87ab8" stroke-width="2.0" />
<line x1="601.6" y1="132.8" x2="625.2" y2="132.8" stroke="#c87ab8" stroke-width="2.0" />
<line x1="601.6" y1="132.8" x2="589.8" y2="153.4" stroke="#c87ab8" stroke-width="2.0" />
<line x1="601.6" y1="132.8" x2="613.5" y2="153.4" stroke="#c87ab8" stroke-width="2.0" />
<line x1="625.2" y1="132.8" x2="648.8" y2="132.8" stroke="#c87ab8" stroke-width="2.0" />
<line x1="625.2" y1="132.8" x2="613.5" y2="153.4" stroke="#c87ab8" stroke-width="2.0" />
<line x1="625.2" y1="132.8" x2="637" y2="153.4" stroke="#c87ab8" stroke-width="2.0" />
<line x1="648.8" y1="132.8" x2="637" y2="153.4" stroke="#c87ab8" stroke-width="2.0" />
<line x1="589.8" y1="153.4" x2="613.5" y2="153.4" stroke="#c87ab8" stroke-width="2.0" />
<line x1="589.8" y1="153.4" x2="578" y2="174" stroke="#c87ab8" stroke-width="2.0" />
<line x1="589.8" y1="153.4" x2="601.6" y2="174" stroke="#c87ab8" stroke-width="2.0" />
<line x1="613.5" y1="153.4" x2="637" y2="153.4" stroke="#c87ab8" stroke-width="2.0" />
<line x1="613.5" y1="153.4" x2="601.6" y2="174" stroke="#c87ab8" stroke-width="2.0" />
<line x1="613.5" y1="153.4" x2="625.2" y2="174" stroke="#c87ab8" stroke-width="2.0" />
<line x1="637" y1="153.4" x2="625.2" y2="174" stroke="#c87ab8" stroke-width="2.0" />
<line x1="637" y1="153.4" x2="648.8" y2="174" stroke="#c87ab8" stroke-width="2.0" />
<line x1="578" y1="174" x2="601.6" y2="174" stroke="#c87ab8" stroke-width="2.0" />
<line x1="578" y1="174" x2="589.8" y2="194.2" stroke="#c87ab8" stroke-width="2.0" />
<line x1="601.6" y1="174" x2="625.2" y2="174" stroke="#c87ab8" stroke-width="2.0" />
<line x1="601.6" y1="174" x2="589.8" y2="194.2" stroke="#c87ab8" stroke-width="2.0" />
<line x1="601.6" y1="174" x2="613.5" y2="194.2" stroke="#c87ab8" stroke-width="2.0" />
<line x1="625.2" y1="174" x2="648.8" y2="174" stroke="#c87ab8" stroke-width="2.0" />
<line x1="625.2" y1="174" x2="613.5" y2="194.2" stroke="#c87ab8" stroke-width="2.0" />
<line x1="589.8" y1="194.2" x2="613.5" y2="194.2" stroke="#c87ab8" stroke-width="2.0" />
<line x1="589.8" y1="194.2" x2="578" y2="214.4" stroke="#c87ab8" stroke-width="2.0" />
<circle cx="637" cy="112.5" r="8" fill="url(#gIsoG)" />
<circle cx="601.6" cy="132.8" r="8" fill="url(#gIsoG)" />
<circle cx="625.2" cy="132.8" r="9" fill="url(#gGold)" />
<circle cx="589.8" cy="153.4" r="9" fill="url(#gGold)" />
<circle cx="613.5" cy="153.4" r="8.8" fill="#18b018" stroke="none" stroke-width="1" />
<circle cx="613.5" cy="153.4" r="7.8" fill="#c0d42a" stroke="none" stroke-width="1" />
<circle cx="613.5" cy="153.4" r="5.5" fill="#d4dc40" stroke="none" stroke-width="1" />
<line x1="613.5" y1="153.4" x2="613.5" y2="145.4" stroke="#f08a10" stroke-width="1.5" />
<circle cx="613.5" cy="145.1" r="1.4" fill="#ee1010" stroke="none" stroke-width="1" />
<line x1="613.5" y1="153.4" x2="620.43" y2="157.4" stroke="#f08a10" stroke-width="1.5" />
<circle cx="620.69" cy="157.55" r="1.4" fill="#ee1010" stroke="none" stroke-width="1" />
<line x1="613.5" y1="153.4" x2="606.57" y2="157.4" stroke="#f08a10" stroke-width="1.5" />
<circle cx="606.31" cy="157.55" r="1.4" fill="#ee1010" stroke="none" stroke-width="1" />
<circle cx="613.5" cy="153.4" r="3.2" fill="#f5a010" stroke="none" stroke-width="1" />
<circle cx="613.5" cy="153.4" r="1.5" fill="#ffd070" stroke="none" stroke-width="1" />
<circle cx="637" cy="153.4" r="8" fill="url(#gIsoG)" />
<circle cx="601.6" cy="174" r="8" fill="url(#gIsoG)" />
<circle cx="625.2" cy="174" r="9" fill="url(#gGold)" />
<circle cx="589.8" cy="194.2" r="9" fill="url(#gGold)" />
<path d="M652.48,97.11 A6,6 0 0 1 643.99,88.62 Z" fill="#22b422"/>
<path d="M651.49,96.12 A4.6,4.6 0 0 1 644.98,89.61 Z" fill="#c8d428"/>
<circle cx="648.8" cy="92.3" r="3.3" fill="url(#gRed)" />
<path d="M621.81,109.51 A8.8,8.8 0 0 1 605.86,116.94 Z" fill="#22b422"/>
<path d="M620.54,110.1 A7.4,7.4 0 0 1 607.13,116.35 Z" fill="#c8d428"/>
<circle cx="613.5" cy="112.5" r="3.3" fill="url(#gRed)" />
<path d="M581.76,124.8 A8.8,8.8 0 0 1 575.74,141.34 Z" fill="#22b422"/>
<path d="M581.28,126.12 A7.4,7.4 0 0 1 576.22,140.03 Z" fill="#c8d428"/>
<circle cx="578" cy="132.8" r="3.3" fill="url(#gRed)" />
<path d="M648,141.6 A8.8,8.8 0 0 1 648,124 Z" fill="#22b422"/>
<path d="M648,140.2 A7.4,7.4 0 0 1 648,125.4 Z" fill="#c8d428"/>
<circle cx="648.8" cy="132.8" r="3.3" fill="url(#gRed)" />
<path d="M578.8,165.2 A8.8,8.8 0 0 1 578.8,182.8 Z" fill="#22b422"/>
<path d="M578.8,166.6 A7.4,7.4 0 0 1 578.8,181.4 Z" fill="#c8d428"/>
<circle cx="578" cy="174" r="3.3" fill="url(#gRed)" />
<path d="M645.04,182 A8.8,8.8 0 0 1 651.06,165.46 Z" fill="#22b422"/>
<path d="M645.52,180.68 A7.4,7.4 0 0 1 650.58,166.77 Z" fill="#c8d428"/>
<circle cx="648.8" cy="174" r="3.3" fill="url(#gRed)" />
<path d="M605.83,198.59 A8.8,8.8 0 0 1 620.25,188.5 Z" fill="#22b422"/>
<path d="M606.98,197.79 A7.4,7.4 0 0 1 619.1,189.3 Z" fill="#c8d428"/>
<circle cx="613.5" cy="194.2" r="3.3" fill="url(#gRed)" />
<path d="M573.2,210.71 A6,6 0 0 1 583.6,216.71 Z" fill="#22b422"/>
<path d="M574.42,211.41 A4.6,4.6 0 0 1 582.38,216.01 Z" fill="#c8d428"/>
<circle cx="578" cy="214.4" r="3.3" fill="url(#gRed)" />
<text x="363.5" y="17" font-size="23.6" text-anchor="start" font-weight="normal" font-style="normal" fill="#000" >(b)</text>
<text x="389.6" y="92.3" font-size="15.3">FE-WZ<tspan font-style="italic">′</tspan> Tl<tspan font-size="9.8" dy="5.2">2</tspan><tspan dy="-5.2">NO</tspan><tspan font-size="9.8" dy="5.2">2</tspan></text>
<text x="543.2" y="92.5" font-size="15.3">FE-ZB<tspan font-style="italic">′</tspan> In<tspan font-size="9.8" dy="5.2">2</tspan><tspan dy="-5.2">NO</tspan><tspan font-size="9.8" dy="5.2">2</tspan></text>
<text x="543.3" y="111.4" font-size="15.3" text-anchor="start" font-weight="normal" font-style="normal" fill="#000" >(+4 %)</text>
<text x="514.4" y="20.7" font-size="14" text-anchor="start" font-weight="bold" font-style="normal" fill="#000" >P</text>
<text x="661.2" y="21.4" font-size="14" text-anchor="start" font-weight="bold" font-style="normal" fill="#000" >P</text>
<path d="M511.9,26.8 L522.2,26.8 L522.2,52.1 L527.4,52.1 L517.05,62.6 L506.7,52.1 L511.9,52.1 Z" fill="#7030a0"/>
<path d="M659.3,27 L670.1,27 L670.1,50.7 L674.9,50.7 L664.4,62.6 L653.9,50.7 L659.3,50.7 Z" fill="#7030a0"/>
</svg>
</body></html>
